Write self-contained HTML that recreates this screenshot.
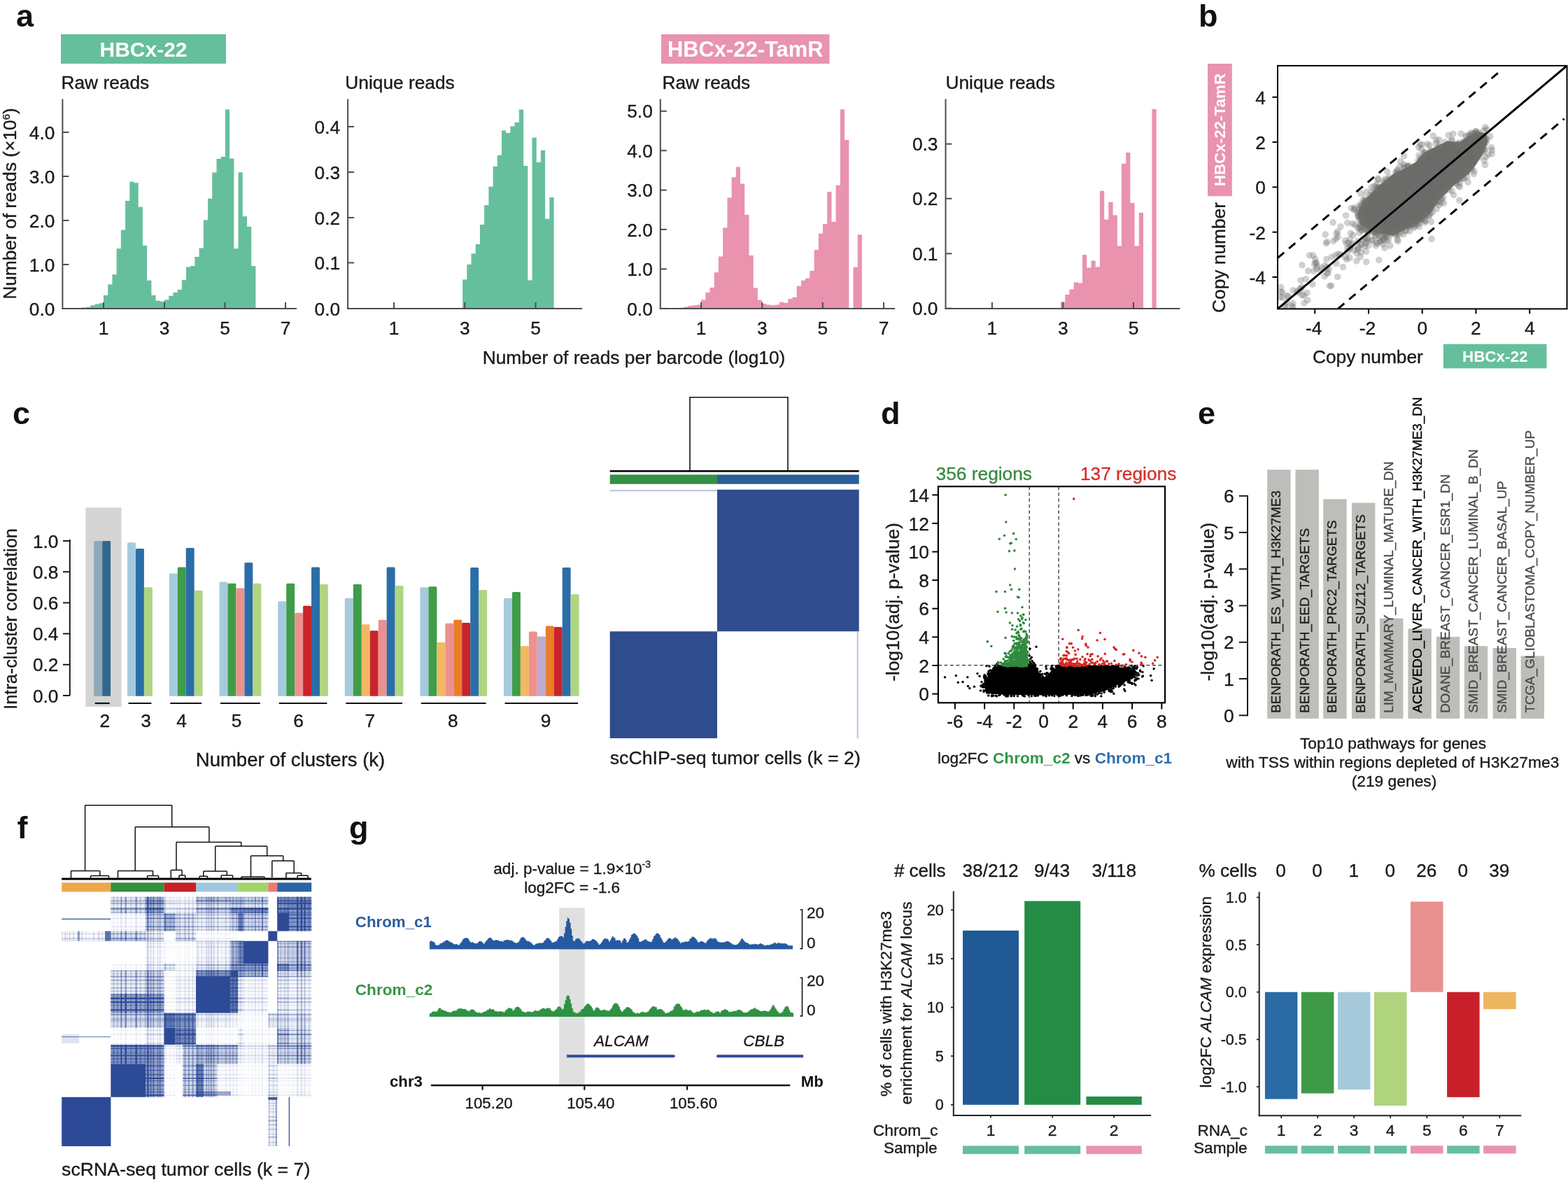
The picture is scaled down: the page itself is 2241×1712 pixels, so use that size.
<!DOCTYPE html>
<html><head><meta charset="utf-8"><title>Figure</title>
<style>
html,body{margin:0;padding:0;background:#fff;}
body{width:2241px;height:1712px;overflow:hidden;}
svg{display:block;}
</style></head><body>
<svg width="2241" height="1712" viewBox="0 0 2241 1712">
<rect width="2241" height="1712" fill="#fff"/>
<g font-family="&quot;Liberation Sans&quot;, Arial, Helvetica, sans-serif" font-size="26.3" fill="#1a1a1a">
<text x="23" y="38" font-size="45" font-weight="bold" fill="#111">a</text>
<rect x="87" y="49" width="236" height="42" fill="#66bf9c"/>
<text x="205" y="80.5" font-size="30" text-anchor="middle" font-weight="bold" fill="#fff">HBCx-22</text>
<rect x="945" y="49" width="240.5" height="42" fill="#e993ae"/>
<text x="1065.2" y="80.5" font-size="30.9" text-anchor="middle" font-weight="bold" fill="#fff">HBCx-22-TamR</text>
<path d="M148 422.1H154.3V441H148ZM154.2 406.6H160.5V441H154.2ZM160.4 392.2H166.7V441H160.4ZM166.6 355.2H172.9V441H166.6ZM172.8 328.5H179.1V441H172.8ZM179.1 287H185.3V441H179.1ZM185.3 259.7H191.5V441H185.3ZM191.5 261.3H197.7V441H191.5ZM197.7 295.7H203.9V441H197.7ZM203.9 351H210.1V441H203.9ZM210.1 400.8H216.4V441H210.1ZM216.3 422.1H222.6V441H216.3ZM222.5 429.8H228.8V441H222.5ZM228.7 430.7H235V441H228.7ZM234.9 428.5H241.2V441H234.9ZM241.2 422.7H247.4V441H241.2ZM247.4 417.9H253.6V441H247.4ZM253.6 414H259.8V441H253.6ZM259.8 400.2H266V441H259.8ZM266 381.5H272.2V441H266ZM272.2 379.9H278.5V441H272.2ZM278.4 367.1H284.7V441H278.4ZM284.6 354.5H290.9V441H284.6ZM290.8 314.4H297.1V441H290.8ZM297 283.8H303.3V441H297ZM303.2 246.5H309.5V441H303.2ZM309.5 226.9H315.7V441H309.5ZM315.7 224H321.9V441H315.7ZM321.9 156.5H328.1V441H321.9ZM328.1 226.6H334.4V441H328.1ZM334.3 355.2H340.6V441H334.3ZM340.5 246.2H346.8V441H340.5ZM346.7 309.2H353V441H346.7ZM352.9 324H359.2V441H352.9ZM359.1 380.3H365.4V441H359.1ZM141.8 433.3H148V441H141.8ZM135.6 434.6H141.8V441H135.6ZM129.4 436.2H135.6V441H129.4ZM123.2 438.8H129.4V441H123.2ZM117 439.4H123.2V441H117ZM110.7 440.1H117V441H110.7Z" fill="#66bf9c" stroke="none" stroke-width="1"/>
<line x1="89.4" y1="141.5" x2="89.4" y2="442" stroke="#4d4d4d" stroke-width="2"/>
<line x1="88.4" y1="441" x2="424" y2="441" stroke="#4d4d4d" stroke-width="2"/>
<line x1="89.4" y1="441" x2="98.4" y2="441" stroke="#4d4d4d" stroke-width="2"/>
<text x="78.4" y="450.6" text-anchor="end" stroke="#1a1a1a" stroke-width="0.35">0.0</text>
<line x1="89.4" y1="378" x2="98.4" y2="378" stroke="#4d4d4d" stroke-width="2"/>
<text x="78.4" y="387.6" text-anchor="end" stroke="#1a1a1a" stroke-width="0.35">1.0</text>
<line x1="89.4" y1="315" x2="98.4" y2="315" stroke="#4d4d4d" stroke-width="2"/>
<text x="78.4" y="324.6" text-anchor="end" stroke="#1a1a1a" stroke-width="0.35">2.0</text>
<line x1="89.4" y1="252" x2="98.4" y2="252" stroke="#4d4d4d" stroke-width="2"/>
<text x="78.4" y="261.6" text-anchor="end" stroke="#1a1a1a" stroke-width="0.35">3.0</text>
<line x1="89.4" y1="189" x2="98.4" y2="189" stroke="#4d4d4d" stroke-width="2"/>
<text x="78.4" y="198.6" text-anchor="end" stroke="#1a1a1a" stroke-width="0.35">4.0</text>
<line x1="148" y1="441" x2="148" y2="432" stroke="#4d4d4d" stroke-width="2"/>
<text x="148" y="477.5" text-anchor="middle" stroke="#1a1a1a" stroke-width="0.35">1</text>
<line x1="235" y1="441" x2="235" y2="432" stroke="#4d4d4d" stroke-width="2"/>
<text x="235" y="477.5" text-anchor="middle" stroke="#1a1a1a" stroke-width="0.35">3</text>
<line x1="321.5" y1="441" x2="321.5" y2="432" stroke="#4d4d4d" stroke-width="2"/>
<text x="321.5" y="477.5" text-anchor="middle" stroke="#1a1a1a" stroke-width="0.35">5</text>
<line x1="408" y1="441" x2="408" y2="432" stroke="#4d4d4d" stroke-width="2"/>
<text x="408" y="477.5" text-anchor="middle" stroke="#1a1a1a" stroke-width="0.35">7</text>
<text x="87.5" y="127" stroke="#1a1a1a" stroke-width="0.35">Raw reads</text>
<path d="M661.1 399.5H667.4V441H661.1ZM667.3 378H673.6V441H667.3ZM673.5 362.6H679.8V441H673.5ZM679.7 349.1H686V441H679.7ZM685.9 321.1H692.2V441H685.9ZM692.1 293.2H698.4V441H692.1ZM698.4 266.8H704.6V441H698.4ZM704.6 237.9H710.8V441H704.6ZM710.8 221.8H717V441H710.8ZM717 186.4H723.2V441H717ZM723.2 190H729.5V441H723.2ZM729.4 180.6H735.7V441H729.4ZM735.6 174.9H741.9V441H735.6ZM741.8 156.5H748.1V441H741.8ZM748 236.9H754.3V441H748ZM754.2 400.5H760.5V441H754.2ZM760.5 196.7H766.7V441H760.5ZM766.7 231.8H772.9V441H766.7ZM772.9 214.7H779.1V441H772.9ZM779.1 312.8H785.4V441H779.1ZM785.3 281.9H791.6V441H785.3Z" fill="#66bf9c" stroke="none" stroke-width="1"/>
<line x1="497.1" y1="141.5" x2="497.1" y2="442" stroke="#4d4d4d" stroke-width="2"/>
<line x1="496.1" y1="441" x2="832" y2="441" stroke="#4d4d4d" stroke-width="2"/>
<line x1="497.1" y1="441" x2="506.1" y2="441" stroke="#4d4d4d" stroke-width="2"/>
<text x="486.1" y="450.6" text-anchor="end" stroke="#1a1a1a" stroke-width="0.35">0.0</text>
<line x1="497.1" y1="375.5" x2="506.1" y2="375.5" stroke="#4d4d4d" stroke-width="2"/>
<text x="486.1" y="385.1" text-anchor="end" stroke="#1a1a1a" stroke-width="0.35">0.1</text>
<line x1="497.1" y1="311" x2="506.1" y2="311" stroke="#4d4d4d" stroke-width="2"/>
<text x="486.1" y="320.6" text-anchor="end" stroke="#1a1a1a" stroke-width="0.35">0.2</text>
<line x1="497.1" y1="246" x2="506.1" y2="246" stroke="#4d4d4d" stroke-width="2"/>
<text x="486.1" y="255.6" text-anchor="end" stroke="#1a1a1a" stroke-width="0.35">0.3</text>
<line x1="497.1" y1="181" x2="506.1" y2="181" stroke="#4d4d4d" stroke-width="2"/>
<text x="486.1" y="190.6" text-anchor="end" stroke="#1a1a1a" stroke-width="0.35">0.4</text>
<line x1="563" y1="441" x2="563" y2="432" stroke="#4d4d4d" stroke-width="2"/>
<text x="563" y="477.5" text-anchor="middle" stroke="#1a1a1a" stroke-width="0.35">1</text>
<line x1="664.3" y1="441" x2="664.3" y2="432" stroke="#4d4d4d" stroke-width="2"/>
<text x="664.3" y="477.5" text-anchor="middle" stroke="#1a1a1a" stroke-width="0.35">3</text>
<line x1="765.5" y1="441" x2="765.5" y2="432" stroke="#4d4d4d" stroke-width="2"/>
<text x="765.5" y="477.5" text-anchor="middle" stroke="#1a1a1a" stroke-width="0.35">5</text>
<text x="493.3" y="127" stroke="#1a1a1a" stroke-width="0.35">Unique reads</text>
<path d="M1002.1 428.4H1008.4V441H1002.1ZM1008.3 418.1H1014.6V441H1008.3ZM1014.5 411.1H1020.8V441H1014.5ZM1020.7 389.2H1027V441H1020.7ZM1026.9 366.5H1033.2V441H1026.9ZM1033.2 325.5H1039.4V441H1033.2ZM1039.4 282.4H1045.6V441H1039.4ZM1045.6 253.2H1051.8V441H1045.6ZM1051.8 238.6H1058V441H1051.8ZM1058 262.6H1064.2V441H1058ZM1064.2 307H1070.5V441H1064.2ZM1070.4 365H1076.7V441H1070.4ZM1076.6 411.4H1082.9V441H1076.6ZM1082.8 428.7H1089.1V441H1082.8ZM1089 433.9H1095.3V441H1089ZM1095.2 435.4H1101.5V441H1095.2ZM1101.5 436.3H1107.7V441H1101.5ZM1107.7 435.4H1113.9V441H1107.7ZM1113.9 431.8H1120.1V441H1113.9ZM1120.1 432.7H1126.3V441H1120.1ZM1126.3 426.9H1132.6V441H1126.3ZM1132.5 424.8H1138.8V441H1132.5ZM1138.7 408.7H1145V441H1138.7ZM1144.9 400.8H1151.2V441H1144.9ZM1151.1 397.7H1157.4V441H1151.1ZM1157.3 387.1H1163.6V441H1157.3ZM1163.6 357.1H1169.8V441H1163.6ZM1169.8 333.7H1176V441H1169.8ZM1176 320H1182.2V441H1176ZM1182.2 273.9H1188.5V441H1182.2ZM1188.4 317H1194.7V441H1188.4ZM1194.6 264.7H1200.9V441H1194.6ZM1200.8 156.3H1207.1V441H1200.8ZM1207 200.1H1213.3V441H1207ZM1219.5 381.7H1225.7V441H1219.5ZM1225.7 335.2H1231.9V441H1225.7ZM995.9 435.4H1002.1V441H995.9ZM989.7 436.3H995.9V441H989.7ZM983.5 436.9H989.7V441H983.5ZM977.3 438.4H983.5V441H977.3ZM971.1 439.7H977.3V441H971.1ZM964.8 440H971.1V441H964.8Z" fill="#e993ae" stroke="none" stroke-width="1"/>
<line x1="943.8" y1="141.5" x2="943.8" y2="442" stroke="#4d4d4d" stroke-width="2"/>
<line x1="942.8" y1="441" x2="1279" y2="441" stroke="#4d4d4d" stroke-width="2"/>
<line x1="943.8" y1="440.9" x2="952.8" y2="440.9" stroke="#4d4d4d" stroke-width="2"/>
<text x="932.8" y="450.5" text-anchor="end" stroke="#1a1a1a" stroke-width="0.35">0.0</text>
<line x1="943.8" y1="384.4" x2="952.8" y2="384.4" stroke="#4d4d4d" stroke-width="2"/>
<text x="932.8" y="394" text-anchor="end" stroke="#1a1a1a" stroke-width="0.35">1.0</text>
<line x1="943.8" y1="327.9" x2="952.8" y2="327.9" stroke="#4d4d4d" stroke-width="2"/>
<text x="932.8" y="337.5" text-anchor="end" stroke="#1a1a1a" stroke-width="0.35">2.0</text>
<line x1="943.8" y1="271.7" x2="952.8" y2="271.7" stroke="#4d4d4d" stroke-width="2"/>
<text x="932.8" y="281.3" text-anchor="end" stroke="#1a1a1a" stroke-width="0.35">3.0</text>
<line x1="943.8" y1="215.2" x2="952.8" y2="215.2" stroke="#4d4d4d" stroke-width="2"/>
<text x="932.8" y="224.8" text-anchor="end" stroke="#1a1a1a" stroke-width="0.35">4.0</text>
<line x1="943.8" y1="158.8" x2="952.8" y2="158.8" stroke="#4d4d4d" stroke-width="2"/>
<text x="932.8" y="168.4" text-anchor="end" stroke="#1a1a1a" stroke-width="0.35">5.0</text>
<line x1="1002.1" y1="441" x2="1002.1" y2="432" stroke="#4d4d4d" stroke-width="2"/>
<text x="1002.1" y="477.5" text-anchor="middle" stroke="#1a1a1a" stroke-width="0.35">1</text>
<line x1="1089.3" y1="441" x2="1089.3" y2="432" stroke="#4d4d4d" stroke-width="2"/>
<text x="1089.3" y="477.5" text-anchor="middle" stroke="#1a1a1a" stroke-width="0.35">3</text>
<line x1="1175.8" y1="441" x2="1175.8" y2="432" stroke="#4d4d4d" stroke-width="2"/>
<text x="1175.8" y="477.5" text-anchor="middle" stroke="#1a1a1a" stroke-width="0.35">5</text>
<line x1="1263" y1="441" x2="1263" y2="432" stroke="#4d4d4d" stroke-width="2"/>
<text x="1263" y="477.5" text-anchor="middle" stroke="#1a1a1a" stroke-width="0.35">7</text>
<text x="946.5" y="127" stroke="#1a1a1a" stroke-width="0.35">Raw reads</text>
<path d="M1516 431.4H1522.3V441H1516ZM1522.2 420.9H1528.5V441H1522.2ZM1528.4 413.6H1534.7V441H1528.4ZM1534.6 403.4H1540.9V441H1534.6ZM1540.8 404.6H1547.1V441H1540.8ZM1547 364.3H1553.3V441H1547ZM1553.3 382.6H1559.5V441H1553.3ZM1559.5 372.4H1565.7V441H1559.5ZM1565.7 381.4H1571.9V441H1565.7ZM1571.9 272.8H1578.2V441H1571.9ZM1578.1 313.8H1584.4V441H1578.1ZM1584.3 288.7H1590.6V441H1584.3ZM1590.5 307.5H1596.8V441H1590.5ZM1596.7 351.4H1603V441H1596.7ZM1602.9 233.8H1609.2V441H1602.9ZM1609.2 217.9H1615.4V441H1609.2ZM1615.4 289.9H1621.6V441H1615.4ZM1621.6 351.4H1627.8V441H1621.6ZM1627.8 304H1634V441H1627.8ZM1646.4 156.1H1652.7V441H1646.4Z" fill="#e993ae" stroke="none" stroke-width="1"/>
<line x1="1351.5" y1="141.5" x2="1351.5" y2="442" stroke="#4d4d4d" stroke-width="2"/>
<line x1="1350.5" y1="441" x2="1686.6" y2="441" stroke="#4d4d4d" stroke-width="2"/>
<line x1="1351.5" y1="440.7" x2="1360.5" y2="440.7" stroke="#4d4d4d" stroke-width="2"/>
<text x="1340.5" y="450.3" text-anchor="end" stroke="#1a1a1a" stroke-width="0.35">0.0</text>
<line x1="1351.5" y1="362.4" x2="1360.5" y2="362.4" stroke="#4d4d4d" stroke-width="2"/>
<text x="1340.5" y="372" text-anchor="end" stroke="#1a1a1a" stroke-width="0.35">0.1</text>
<line x1="1351.5" y1="283.8" x2="1360.5" y2="283.8" stroke="#4d4d4d" stroke-width="2"/>
<text x="1340.5" y="293.4" text-anchor="end" stroke="#1a1a1a" stroke-width="0.35">0.2</text>
<line x1="1351.5" y1="205.7" x2="1360.5" y2="205.7" stroke="#4d4d4d" stroke-width="2"/>
<text x="1340.5" y="215.3" text-anchor="end" stroke="#1a1a1a" stroke-width="0.35">0.3</text>
<line x1="1417.9" y1="441" x2="1417.9" y2="432" stroke="#4d4d4d" stroke-width="2"/>
<text x="1417.9" y="477.5" text-anchor="middle" stroke="#1a1a1a" stroke-width="0.35">1</text>
<line x1="1519.2" y1="441" x2="1519.2" y2="432" stroke="#4d4d4d" stroke-width="2"/>
<text x="1519.2" y="477.5" text-anchor="middle" stroke="#1a1a1a" stroke-width="0.35">3</text>
<line x1="1620" y1="441" x2="1620" y2="432" stroke="#4d4d4d" stroke-width="2"/>
<text x="1620" y="477.5" text-anchor="middle" stroke="#1a1a1a" stroke-width="0.35">5</text>
<text x="1351.5" y="127" stroke="#1a1a1a" stroke-width="0.35">Unique reads</text>
<text transform="translate(23.2 291) rotate(-90)" text-anchor="middle" stroke="#1a1a1a" stroke-width="0.35">Number of reads (&#215;10<tspan font-size="15" dy="-9">6</tspan><tspan dy="9">)</tspan></text>
<text x="906" y="519.7" text-anchor="middle" stroke="#1a1a1a" stroke-width="0.35">Number of reads per barcode (log10)</text>
<text x="1713" y="38" font-size="45" font-weight="bold" fill="#111">b</text>
<defs><clipPath id="cpb"><rect x="1826" y="93.9" width="413.5" height="347.5"/></clipPath></defs>
<g clip-path="url(#cpb)">
<polygon points="1940,304.3 1948.6,287.1 1970,265.7 1991.4,248.6 2008.6,240 2023.6,231.4 2034.3,218.6 2051.4,210 2068.6,201.4 2085.7,203.6 2100.7,192.8 2113.6,188.6 2124.3,190.7 2126.4,201.4 2120,218.6 2109.3,235.7 2098.6,248.6 2077.1,265.7 2055.7,287.1 2045,304.3 2030,317.1 2008.6,327.8 1991.4,336.4 1974.3,334.3 1959.3,330 1944.3,321.4" fill="#6b6c69"/>
<g fill="#6f706d" fill-opacity="0.33"><circle cx="2057.2" cy="207.3" r="4.8"/><circle cx="2103.4" cy="191.5" r="4.8"/><circle cx="1945.4" cy="316.7" r="4.8"/><circle cx="1940.8" cy="309.1" r="4.8"/><circle cx="2095.6" cy="195.6" r="4.8"/><circle cx="1965" cy="272.9" r="4.8"/><circle cx="1954.5" cy="287.7" r="4.8"/><circle cx="1993.4" cy="329.9" r="4.8"/><circle cx="2131.4" cy="210.7" r="4.8"/><circle cx="1985.6" cy="253" r="4.8"/><circle cx="2056.5" cy="199.6" r="4.8"/><circle cx="2056.1" cy="281.6" r="4.8"/><circle cx="2113.6" cy="189.7" r="4.8"/><circle cx="2132.1" cy="219.8" r="4.8"/><circle cx="2031.9" cy="206.3" r="4.8"/><circle cx="1973" cy="332.5" r="4.8"/><circle cx="2097.9" cy="260.3" r="4.8"/><circle cx="2010.8" cy="322.9" r="4.8"/><circle cx="1970.2" cy="268.8" r="4.8"/><circle cx="1985.6" cy="257.8" r="4.8"/><circle cx="1969.5" cy="267.8" r="4.8"/><circle cx="2068.7" cy="267.7" r="4.8"/><circle cx="1995.9" cy="336.5" r="4.8"/><circle cx="2038.8" cy="307.7" r="4.8"/><circle cx="2097.2" cy="246" r="4.8"/><circle cx="1982.7" cy="245.3" r="4.8"/><circle cx="1981.4" cy="333.5" r="4.8"/><circle cx="2027.5" cy="210.6" r="4.8"/><circle cx="2122.7" cy="181.9" r="4.8"/><circle cx="1944.4" cy="293.3" r="4.8"/><circle cx="2006.4" cy="239" r="4.8"/><circle cx="1968.9" cy="273.7" r="4.8"/><circle cx="2123.2" cy="224.3" r="4.8"/><circle cx="2102.3" cy="189.7" r="4.8"/><circle cx="2042.3" cy="308.8" r="4.8"/><circle cx="2017.4" cy="319.6" r="4.8"/><circle cx="1950.8" cy="288.4" r="4.8"/><circle cx="2110" cy="189.4" r="4.8"/><circle cx="2111" cy="191.1" r="4.8"/><circle cx="2084.4" cy="206.5" r="4.8"/><circle cx="2015.5" cy="321.5" r="4.8"/><circle cx="1999.6" cy="247.1" r="4.8"/><circle cx="1989.9" cy="332" r="4.8"/><circle cx="1969.9" cy="256.9" r="4.8"/><circle cx="1964.1" cy="266" r="4.8"/><circle cx="2103.3" cy="196.7" r="4.8"/><circle cx="2046" cy="341.4" r="4.8"/><circle cx="2014.4" cy="237.4" r="4.8"/><circle cx="1963.7" cy="329" r="4.8"/><circle cx="1968.1" cy="329" r="4.8"/><circle cx="1995.4" cy="332.6" r="4.8"/><circle cx="2102.9" cy="240.2" r="4.8"/><circle cx="1966.9" cy="332" r="4.8"/><circle cx="2050.1" cy="287.9" r="4.8"/><circle cx="1973.7" cy="344.8" r="4.8"/><circle cx="2035.1" cy="308.2" r="4.8"/><circle cx="2125.3" cy="199.8" r="4.8"/><circle cx="2119.1" cy="210.8" r="4.8"/><circle cx="2006.6" cy="223" r="4.8"/><circle cx="1997.5" cy="242.3" r="4.8"/><circle cx="2074.9" cy="200.8" r="4.8"/><circle cx="2119.8" cy="214.6" r="4.8"/><circle cx="1978.9" cy="261.4" r="4.8"/><circle cx="2071.3" cy="270.9" r="4.8"/><circle cx="2065.5" cy="273.1" r="4.8"/><circle cx="2003" cy="330.1" r="4.8"/><circle cx="2045.1" cy="216.5" r="4.8"/><circle cx="1936" cy="299.8" r="4.8"/><circle cx="2113.7" cy="224.7" r="4.8"/><circle cx="2106.6" cy="244.3" r="4.8"/><circle cx="2048.9" cy="290" r="4.8"/><circle cx="2024.7" cy="320.9" r="4.8"/><circle cx="1987.8" cy="333.4" r="4.8"/><circle cx="2083.9" cy="206.1" r="4.8"/><circle cx="2058.5" cy="279.1" r="4.8"/><circle cx="2119.7" cy="209.3" r="4.8"/><circle cx="2035.4" cy="217.3" r="4.8"/><circle cx="2002.8" cy="326.3" r="4.8"/><circle cx="1994.8" cy="246.4" r="4.8"/><circle cx="1953" cy="274.4" r="4.8"/><circle cx="2028.4" cy="323.9" r="4.8"/><circle cx="1960.2" cy="267.9" r="4.8"/><circle cx="1936.2" cy="321.2" r="4.8"/><circle cx="2020.7" cy="325.5" r="4.8"/><circle cx="2100.2" cy="193.4" r="4.8"/><circle cx="2092" cy="204.1" r="4.8"/><circle cx="2056.8" cy="210.4" r="4.8"/><circle cx="2064" cy="272.9" r="4.8"/><circle cx="2106.3" cy="192.1" r="4.8"/><circle cx="1969.8" cy="268.6" r="4.8"/><circle cx="2121.6" cy="203" r="4.8"/><circle cx="2047.4" cy="303.4" r="4.8"/><circle cx="1977.2" cy="341.2" r="4.8"/><circle cx="2032.8" cy="312.1" r="4.8"/><circle cx="1942.7" cy="308.6" r="4.8"/><circle cx="2102.8" cy="241.4" r="4.8"/><circle cx="1971.3" cy="328.7" r="4.8"/><circle cx="2096.6" cy="245.1" r="4.8"/><circle cx="2029.6" cy="206.9" r="4.8"/><circle cx="1999.8" cy="334.9" r="4.8"/><circle cx="1946.8" cy="295.3" r="4.8"/><circle cx="2033.5" cy="225.9" r="4.8"/><circle cx="2108.3" cy="228.1" r="4.8"/><circle cx="1979.9" cy="335.9" r="4.8"/><circle cx="2121.1" cy="229.4" r="4.8"/><circle cx="2011.5" cy="236.8" r="4.8"/><circle cx="2124.9" cy="184.8" r="4.8"/><circle cx="1935.4" cy="299.3" r="4.8"/><circle cx="2014.7" cy="330.2" r="4.8"/><circle cx="2026.9" cy="230.2" r="4.8"/><circle cx="1969.2" cy="334.7" r="4.8"/><circle cx="2106.4" cy="248.5" r="4.8"/><circle cx="2122.6" cy="213.2" r="4.8"/><circle cx="2022" cy="319.8" r="4.8"/><circle cx="1973.6" cy="329.5" r="4.8"/><circle cx="2121.3" cy="214.6" r="4.8"/><circle cx="1935.6" cy="296.7" r="4.8"/><circle cx="2081.8" cy="205.9" r="4.8"/><circle cx="2030.2" cy="225.6" r="4.8"/><circle cx="1950.4" cy="323.1" r="4.8"/><circle cx="1995.2" cy="330.2" r="4.8"/><circle cx="2080.8" cy="262.6" r="4.8"/><circle cx="2092.5" cy="254.6" r="4.8"/><circle cx="1941.4" cy="308.3" r="4.8"/><circle cx="1947.8" cy="286.4" r="4.8"/><circle cx="2085.9" cy="207.4" r="4.8"/><circle cx="1987.8" cy="335.6" r="4.8"/><circle cx="2086.4" cy="261.4" r="4.8"/><circle cx="1958.4" cy="278.7" r="4.8"/><circle cx="2037.4" cy="309" r="4.8"/><circle cx="1942.6" cy="326.3" r="4.8"/><circle cx="1977.3" cy="259.3" r="4.8"/><circle cx="1996.5" cy="244.6" r="4.8"/><circle cx="2028.4" cy="319.3" r="4.8"/><circle cx="1950.4" cy="287.3" r="4.8"/><circle cx="1942.9" cy="293.6" r="4.8"/><circle cx="2096.8" cy="252.8" r="4.8"/><circle cx="2007.8" cy="330.5" r="4.8"/><circle cx="2030.8" cy="227.7" r="4.8"/><circle cx="2088.7" cy="256.1" r="4.8"/><circle cx="2007" cy="239.6" r="4.8"/><circle cx="1942.4" cy="313.6" r="4.8"/><circle cx="2106.8" cy="190.8" r="4.8"/><circle cx="2110.7" cy="191.2" r="4.8"/><circle cx="1945.9" cy="329.7" r="4.8"/><circle cx="2052.5" cy="200.4" r="4.8"/><circle cx="2012.1" cy="237.9" r="4.8"/><circle cx="2031.1" cy="313.9" r="4.8"/><circle cx="2109.4" cy="187.5" r="4.8"/><circle cx="1994.1" cy="329.6" r="4.8"/><circle cx="1943.2" cy="299.1" r="4.8"/><circle cx="1980" cy="255.5" r="4.8"/><circle cx="2127" cy="221.1" r="4.8"/><circle cx="2048.3" cy="194" r="4.8"/><circle cx="2044.4" cy="214.6" r="4.8"/><circle cx="1960.5" cy="274.3" r="4.8"/><circle cx="1945.2" cy="276.8" r="4.8"/><circle cx="2086.4" cy="267.2" r="4.8"/><circle cx="1931.3" cy="297.5" r="4.8"/><circle cx="2063.6" cy="290.1" r="4.8"/><circle cx="1945.2" cy="296.4" r="4.8"/><circle cx="1950.8" cy="287.4" r="4.8"/><circle cx="2018.9" cy="318.1" r="4.8"/><circle cx="2056.6" cy="288.1" r="4.8"/><circle cx="2060" cy="284.3" r="4.8"/><circle cx="2075.1" cy="273" r="4.8"/><circle cx="1962.2" cy="330.5" r="4.8"/><circle cx="1945" cy="325.3" r="4.8"/><circle cx="2120.7" cy="195" r="4.8"/><circle cx="2034.7" cy="225.4" r="4.8"/><circle cx="2031.5" cy="314.2" r="4.8"/><circle cx="2039.7" cy="206.1" r="4.8"/><circle cx="2070.2" cy="193" r="4.8"/><circle cx="2046.1" cy="298" r="4.8"/><circle cx="2100.5" cy="193.1" r="4.8"/><circle cx="2035.7" cy="219.3" r="4.8"/><circle cx="2091.2" cy="202.3" r="4.8"/><circle cx="2043.2" cy="207.4" r="4.8"/><circle cx="1967.3" cy="266.8" r="4.8"/><circle cx="2051.9" cy="288" r="4.8"/><circle cx="2017.5" cy="322.4" r="4.8"/><circle cx="1948" cy="290.7" r="4.8"/><circle cx="2036.6" cy="318" r="4.8"/><circle cx="2074.9" cy="199.7" r="4.8"/><circle cx="2121.5" cy="206.5" r="4.8"/><circle cx="1982.5" cy="257.3" r="4.8"/><circle cx="1989.4" cy="332.3" r="4.8"/><circle cx="2000.3" cy="238.3" r="4.8"/><circle cx="2076.8" cy="191.2" r="4.8"/><circle cx="2043" cy="307.6" r="4.8"/><circle cx="1946.2" cy="302.4" r="4.8"/><circle cx="2086" cy="204.1" r="4.8"/><circle cx="1940.7" cy="303.1" r="4.8"/><circle cx="1997" cy="342.5" r="4.8"/><circle cx="2122.6" cy="235.6" r="4.8"/><circle cx="1988.3" cy="256" r="4.8"/><circle cx="2056.7" cy="293" r="4.8"/><circle cx="2103.3" cy="237.8" r="4.8"/><circle cx="2001.6" cy="231.1" r="4.8"/><circle cx="1949.9" cy="327.6" r="4.8"/><circle cx="1944.5" cy="313" r="4.8"/><circle cx="1945.5" cy="311" r="4.8"/><circle cx="2052.4" cy="204.9" r="4.8"/><circle cx="2109.2" cy="188.3" r="4.8"/><circle cx="1969.3" cy="255.2" r="4.8"/><circle cx="2011.2" cy="238.2" r="4.8"/><circle cx="2037.4" cy="315.3" r="4.8"/><circle cx="1967.8" cy="262.7" r="4.8"/><circle cx="2085.7" cy="286.3" r="4.8"/><circle cx="2063" cy="282.2" r="4.8"/><circle cx="2022.8" cy="317.3" r="4.8"/><circle cx="1993.9" cy="333.4" r="4.8"/><circle cx="2045.3" cy="316.9" r="4.8"/><circle cx="2051.9" cy="290.5" r="4.8"/><circle cx="2088" cy="191" r="4.8"/><circle cx="1995.7" cy="247.5" r="4.8"/><circle cx="2007.1" cy="323.2" r="4.8"/><circle cx="2059.7" cy="282.4" r="4.8"/><circle cx="1951.4" cy="283.6" r="4.8"/><circle cx="2019.6" cy="321.4" r="4.8"/><circle cx="2023.6" cy="317.4" r="4.8"/><circle cx="1953.8" cy="327.9" r="4.8"/><circle cx="2013.7" cy="324.2" r="4.8"/><circle cx="2123.7" cy="197.7" r="4.8"/><circle cx="2053.3" cy="298.5" r="4.8"/><circle cx="2023.6" cy="317.2" r="4.8"/><circle cx="1946" cy="301.5" r="4.8"/><circle cx="2084.1" cy="256" r="4.8"/><circle cx="2037.1" cy="307" r="4.8"/><circle cx="2059.8" cy="289.7" r="4.8"/><circle cx="2081.7" cy="259.7" r="4.8"/><circle cx="2022.2" cy="323.4" r="4.8"/><circle cx="2129.7" cy="194.9" r="4.8"/><circle cx="2044.3" cy="304.4" r="4.8"/><circle cx="2065.2" cy="203" r="4.8"/><circle cx="1997" cy="334.5" r="4.8"/><circle cx="2036.1" cy="315.3" r="4.8"/><circle cx="2012" cy="323.1" r="4.8"/><circle cx="2118.2" cy="217" r="4.8"/><circle cx="2077.5" cy="278.7" r="4.8"/><circle cx="2036.5" cy="218.8" r="4.8"/><circle cx="2029.5" cy="231.5" r="4.8"/><circle cx="2054.4" cy="288.4" r="4.8"/><circle cx="2132.3" cy="214.5" r="4.8"/><circle cx="1965.2" cy="332.8" r="4.8"/><circle cx="2096.4" cy="243.4" r="4.8"/><circle cx="2006.5" cy="235.1" r="4.8"/><circle cx="1980.2" cy="338.8" r="4.8"/><circle cx="2091.5" cy="254.3" r="4.8"/><circle cx="2120.6" cy="186.7" r="4.8"/><circle cx="2084.4" cy="265.4" r="4.8"/><circle cx="2058.6" cy="277.7" r="4.8"/><circle cx="2123.7" cy="203.5" r="4.8"/><circle cx="2054.2" cy="212" r="4.8"/><circle cx="2027.9" cy="222.3" r="4.8"/><circle cx="2115.4" cy="219.8" r="4.8"/><circle cx="2095" cy="193.8" r="4.8"/><circle cx="2031.5" cy="213.2" r="4.8"/><circle cx="2010.4" cy="329.4" r="4.8"/><circle cx="2026.7" cy="317.3" r="4.8"/><circle cx="1909.4" cy="341.3" r="4.8"/><circle cx="1877.6" cy="387.4" r="4.8"/><circle cx="1929.8" cy="353.7" r="4.8"/><circle cx="1896.2" cy="381.8" r="4.8"/><circle cx="1953.4" cy="340.6" r="4.8"/><circle cx="1984.5" cy="342.8" r="4.8"/><circle cx="1976.7" cy="340.2" r="4.8"/><circle cx="1899" cy="384.9" r="4.8"/><circle cx="1881.4" cy="383.8" r="4.8"/><circle cx="1950.8" cy="352" r="4.8"/><circle cx="1966.4" cy="351.1" r="4.8"/><circle cx="1930.5" cy="333.3" r="4.8"/><circle cx="1971.1" cy="326.1" r="4.8"/><circle cx="1976.4" cy="348.9" r="4.8"/><circle cx="1895.6" cy="347.7" r="4.8"/><circle cx="1925.9" cy="360.2" r="4.8"/><circle cx="1915.9" cy="364" r="4.8"/><circle cx="1966.3" cy="347.2" r="4.8"/><circle cx="1940.1" cy="325.1" r="4.8"/><circle cx="1866.3" cy="398.7" r="4.8"/><circle cx="1894.2" cy="335.1" r="4.8"/><circle cx="1893.1" cy="394.8" r="4.8"/><circle cx="1943.8" cy="322.8" r="4.8"/><circle cx="1951" cy="340.7" r="4.8"/><circle cx="1860.7" cy="421.7" r="4.8"/><circle cx="1861" cy="378.8" r="4.8"/><circle cx="1946.5" cy="328.6" r="4.8"/><circle cx="1896.7" cy="390.7" r="4.8"/><circle cx="1948.7" cy="318.6" r="4.8"/><circle cx="1929.1" cy="341.7" r="4.8"/><circle cx="1965.6" cy="337.6" r="4.8"/><circle cx="1940.3" cy="344.8" r="4.8"/><circle cx="1955.1" cy="319.2" r="4.8"/><circle cx="1970.8" cy="371.5" r="4.8"/><circle cx="1882.7" cy="380.5" r="4.8"/><circle cx="1859" cy="400.7" r="4.8"/><circle cx="1912.3" cy="338.4" r="4.8"/><circle cx="1973" cy="337.6" r="4.8"/><circle cx="1927.1" cy="347" r="4.8"/><circle cx="1911.7" cy="395.7" r="4.8"/><circle cx="1880.8" cy="375.8" r="4.8"/><circle cx="1972" cy="344.9" r="4.8"/><circle cx="1953.3" cy="344.6" r="4.8"/><circle cx="1969" cy="347.5" r="4.8"/><circle cx="1876.7" cy="364.9" r="4.8"/><circle cx="1935.3" cy="357.6" r="4.8"/><circle cx="1962.5" cy="330.8" r="4.8"/><circle cx="1960.7" cy="343.4" r="4.8"/><circle cx="1911.7" cy="331" r="4.8"/><circle cx="1887.2" cy="386.7" r="4.8"/><circle cx="1928.9" cy="368.5" r="4.8"/><circle cx="1957.7" cy="328.9" r="4.8"/><circle cx="1955.4" cy="321" r="4.8"/><circle cx="1922.8" cy="367.4" r="4.8"/><circle cx="1952.7" cy="374.4" r="4.8"/><circle cx="1829.9" cy="424.9" r="4.8"/><circle cx="1846.7" cy="437.4" r="4.8"/><circle cx="1962.2" cy="322.8" r="4.8"/><circle cx="1933.3" cy="319.5" r="4.8"/><circle cx="1954.9" cy="330.2" r="4.8"/><circle cx="1942.8" cy="332.6" r="4.8"/><circle cx="1896.5" cy="345.6" r="4.8"/><circle cx="1889.1" cy="382.6" r="4.8"/><circle cx="1955" cy="332.5" r="4.8"/><circle cx="1924.7" cy="370.7" r="4.8"/><circle cx="1945.2" cy="360.7" r="4.8"/><circle cx="1938.9" cy="373" r="4.8"/><circle cx="1940.4" cy="304.5" r="4.8"/><circle cx="1946.4" cy="349.7" r="4.8"/><circle cx="1915.9" cy="323.9" r="4.8"/><circle cx="1893.5" cy="379.2" r="4.8"/><circle cx="1923.6" cy="308" r="4.8"/><circle cx="1961.2" cy="343.2" r="4.8"/><circle cx="1902.7" cy="408.2" r="4.8"/><circle cx="1867.9" cy="418.6" r="4.8"/><circle cx="1853.7" cy="416.1" r="4.8"/><circle cx="1898" cy="389.8" r="4.8"/><circle cx="1950.8" cy="326.3" r="4.8"/><circle cx="1880.9" cy="375.4" r="4.8"/><circle cx="1932.2" cy="348" r="4.8"/><circle cx="1954.6" cy="341.8" r="4.8"/><circle cx="1905.8" cy="344.5" r="4.8"/><circle cx="1875.8" cy="406" r="4.8"/><circle cx="1942.1" cy="354.3" r="4.8"/><circle cx="1965.5" cy="336.6" r="4.8"/><circle cx="1863.6" cy="422.2" r="4.8"/><circle cx="1878.6" cy="377.4" r="4.8"/><circle cx="1925.6" cy="354.5" r="4.8"/><circle cx="1860.9" cy="410.2" r="4.8"/><circle cx="1971.6" cy="331.7" r="4.8"/><circle cx="1910" cy="376.9" r="4.8"/><circle cx="1970.5" cy="325" r="4.8"/><circle cx="1947.1" cy="342.3" r="4.8"/><circle cx="1947.7" cy="317.3" r="4.8"/><circle cx="1871.5" cy="364.9" r="4.8"/><circle cx="1931.2" cy="349.6" r="4.8"/><circle cx="1960.4" cy="324" r="4.8"/><circle cx="1905" cy="317.8" r="4.8"/><circle cx="1940.8" cy="353.2" r="4.8"/><circle cx="1919.4" cy="381.6" r="4.8"/><circle cx="1981.3" cy="339.6" r="4.8"/><circle cx="1909.9" cy="334.1" r="4.8"/><circle cx="1879.7" cy="370.3" r="4.8"/><circle cx="1855.2" cy="418" r="4.8"/><circle cx="1952.4" cy="347.6" r="4.8"/><circle cx="1979.5" cy="334.1" r="4.8"/><circle cx="1909.1" cy="364.7" r="4.8"/><circle cx="1900.3" cy="408.7" r="4.8"/><circle cx="1934" cy="336.2" r="4.8"/><circle cx="1977.2" cy="343.1" r="4.8"/><circle cx="1895.9" cy="370.3" r="4.8"/><circle cx="1929.1" cy="355.7" r="4.8"/><circle cx="1830.5" cy="410.5" r="4.8"/><circle cx="1912.8" cy="362.9" r="4.8"/><circle cx="1952.4" cy="359.4" r="4.8"/><circle cx="1965.4" cy="330.6" r="4.8"/><circle cx="1955.6" cy="334.4" r="4.8"/><circle cx="1940" cy="357.1" r="4.8"/><circle cx="1903.3" cy="367.2" r="4.8"/><circle cx="1836.2" cy="437.6" r="4.8"/><circle cx="1939" cy="362" r="4.8"/><circle cx="1922.7" cy="343.8" r="4.8"/><circle cx="1925.9" cy="318.5" r="4.8"/><circle cx="1944.7" cy="321.2" r="4.8"/><circle cx="1868.7" cy="429" r="4.8"/><circle cx="1945.4" cy="348.5" r="4.8"/><circle cx="1981.6" cy="344.4" r="4.8"/><circle cx="1838" cy="436.7" r="4.8"/><circle cx="1924.4" cy="347.7" r="4.8"/><circle cx="1869.7" cy="387.1" r="4.8"/><circle cx="1830.7" cy="417.2" r="4.8"/><circle cx="1841" cy="423.3" r="4.8"/><circle cx="1832.9" cy="417.5" r="4.8"/><circle cx="1863.9" cy="433.3" r="4.8"/><circle cx="1832.9" cy="424.9" r="4.8"/><circle cx="1847.6" cy="439" r="4.8"/><circle cx="1839.6" cy="422.6" r="4.8"/><circle cx="1847.8" cy="433.4" r="4.8"/><circle cx="1857.7" cy="412.3" r="4.8"/><circle cx="1848.2" cy="415" r="4.8"/><circle cx="1859.1" cy="413.4" r="4.8"/><circle cx="1839.1" cy="431.8" r="4.8"/><circle cx="1971.3" cy="341.3" r="4.8"/><circle cx="1986.7" cy="351" r="4.8"/><circle cx="1998.2" cy="344.6" r="4.8"/><circle cx="1956" cy="351" r="4.8"/><circle cx="1979" cy="354.2" r="4.8"/><circle cx="1944.4" cy="367.1" r="4.8"/><circle cx="2005.8" cy="334.9" r="4.8"/></g>
<line x1="1826" y1="441.4" x2="2239.5" y2="93.9" stroke="#000" stroke-width="3"/>
<line x1="1826" y1="368.6" x2="2147.8" y2="98.6" stroke="#000" stroke-width="3" stroke-dasharray="12 9"/>
<line x1="1912.1" y1="441.4" x2="2235.7" y2="169.7" stroke="#000" stroke-width="3" stroke-dasharray="12 9"/>
</g>
<rect x="1826" y="93.9" width="413.5" height="347.5" fill="none" stroke="#000" stroke-width="2"/>
<line x1="1818.5" y1="396" x2="1826" y2="396" stroke="#000" stroke-width="2"/>
<text x="1809" y="405.8" text-anchor="end" stroke="#1a1a1a" stroke-width="0.35">-4</text>
<line x1="1879.2" y1="441.4" x2="1879.2" y2="448.4" stroke="#000" stroke-width="2"/>
<text x="1877.7" y="477.5" text-anchor="middle" stroke="#1a1a1a" stroke-width="0.35">-4</text>
<line x1="1818.5" y1="331.7" x2="1826" y2="331.7" stroke="#000" stroke-width="2"/>
<text x="1809" y="341.5" text-anchor="end" stroke="#1a1a1a" stroke-width="0.35">-2</text>
<line x1="1956" y1="441.4" x2="1956" y2="448.4" stroke="#000" stroke-width="2"/>
<text x="1954.5" y="477.5" text-anchor="middle" stroke="#1a1a1a" stroke-width="0.35">-2</text>
<line x1="1818.5" y1="267.4" x2="1826" y2="267.4" stroke="#000" stroke-width="2"/>
<text x="1809" y="277.2" text-anchor="end" stroke="#1a1a1a" stroke-width="0.35">0</text>
<line x1="2032.7" y1="441.4" x2="2032.7" y2="448.4" stroke="#000" stroke-width="2"/>
<text x="2032.7" y="477.5" text-anchor="middle" stroke="#1a1a1a" stroke-width="0.35">0</text>
<line x1="1818.5" y1="203.1" x2="1826" y2="203.1" stroke="#000" stroke-width="2"/>
<text x="1809" y="212.9" text-anchor="end" stroke="#1a1a1a" stroke-width="0.35">2</text>
<line x1="2109.4" y1="441.4" x2="2109.4" y2="448.4" stroke="#000" stroke-width="2"/>
<text x="2109.4" y="477.5" text-anchor="middle" stroke="#1a1a1a" stroke-width="0.35">2</text>
<line x1="1818.5" y1="138.8" x2="1826" y2="138.8" stroke="#000" stroke-width="2"/>
<text x="1809" y="148.6" text-anchor="end" stroke="#1a1a1a" stroke-width="0.35">4</text>
<line x1="2186.2" y1="441.4" x2="2186.2" y2="448.4" stroke="#000" stroke-width="2"/>
<text x="2186.2" y="477.5" text-anchor="middle" stroke="#1a1a1a" stroke-width="0.35">4</text>
<rect x="1726" y="91" width="34.8" height="189.3" fill="#e993ae"/>
<text transform="translate(1751.4 185.6) rotate(-90)" font-size="22.4" text-anchor="middle" font-weight="bold" fill="#fff">HBCx-22-TamR</text>
<text transform="translate(1750.8 368) rotate(-90)" text-anchor="middle" stroke="#1a1a1a" stroke-width="0.35">Copy number</text>
<text x="1876" y="519" stroke="#1a1a1a" stroke-width="0.35">Copy number</text>
<rect x="2063" y="491.7" width="147.5" height="34.7" fill="#66bf9c"/>
<text x="2136.7" y="517.1" font-size="22.4" text-anchor="middle" font-weight="bold" fill="#fff">HBCx-22</text>
<text x="18" y="605.5" font-size="45" font-weight="bold" fill="#111">c</text>
<rect x="122.4" y="725.3" width="51.1" height="284.7" fill="#d4d4d4"/>
<path d="M134.2 994.8V774.5q0 -1.5 1.5 -1.5H144.7q1.5 0 1.5 1.5V994.8Z" fill="#8fa9ba"/>
<path d="M146.2 994.8V774.5q0 -1.5 1.5 -1.5H156.6q1.5 0 1.5 1.5V994.8Z" fill="#33668f"/>
<line x1="135.7" y1="1005" x2="156.6" y2="1005" stroke="#111" stroke-width="2.2"/>
<path d="M182 994.8V776.7q0 -1.5 1.5 -1.5H192.5q1.5 0 1.5 1.5V994.8Z" fill="#a6cadd"/>
<path d="M194 994.8V785.5q0 -1.5 1.5 -1.5H204.4q1.5 0 1.5 1.5V994.8Z" fill="#2a6ea8"/>
<path d="M205.9 994.8V840.8q0 -1.5 1.5 -1.5H216.4q1.5 0 1.5 1.5V994.8Z" fill="#b0d582"/>
<line x1="183.5" y1="1005" x2="216.4" y2="1005" stroke="#111" stroke-width="2.2"/>
<path d="M241.8 994.8V820.9q0 -1.5 1.5 -1.5H252.3q1.5 0 1.5 1.5V994.8Z" fill="#a6cadd"/>
<path d="M253.8 994.8V812.1q0 -1.5 1.5 -1.5H264.2q1.5 0 1.5 1.5V994.8Z" fill="#3f9c48"/>
<path d="M265.7 994.8V784.4q0 -1.5 1.5 -1.5H276.2q1.5 0 1.5 1.5V994.8Z" fill="#2a6ea8"/>
<path d="M277.7 994.8V845.2q0 -1.5 1.5 -1.5H288.1q1.5 0 1.5 1.5V994.8Z" fill="#b0d582"/>
<line x1="243.3" y1="1005" x2="288.1" y2="1005" stroke="#111" stroke-width="2.2"/>
<path d="M313.5 994.8V833.1q0 -1.5 1.5 -1.5H324q1.5 0 1.5 1.5V994.8Z" fill="#a6cadd"/>
<path d="M325.5 994.8V835.3q0 -1.5 1.5 -1.5H335.9q1.5 0 1.5 1.5V994.8Z" fill="#3f9c48"/>
<path d="M337.4 994.8V841.9q0 -1.5 1.5 -1.5H347.9q1.5 0 1.5 1.5V994.8Z" fill="#ec918f"/>
<path d="M349.4 994.8V805.4q0 -1.5 1.5 -1.5H359.8q1.5 0 1.5 1.5V994.8Z" fill="#2a6ea8"/>
<path d="M361.3 994.8V835.3q0 -1.5 1.5 -1.5H371.8q1.5 0 1.5 1.5V994.8Z" fill="#b0d582"/>
<line x1="315" y1="1005" x2="371.8" y2="1005" stroke="#111" stroke-width="2.2"/>
<path d="M397.2 994.8V860.7q0 -1.5 1.5 -1.5H407.7q1.5 0 1.5 1.5V994.8Z" fill="#a6cadd"/>
<path d="M409.2 994.8V835.3q0 -1.5 1.5 -1.5H419.6q1.5 0 1.5 1.5V994.8Z" fill="#3f9c48"/>
<path d="M421.1 994.8V877.3q0 -1.5 1.5 -1.5H431.6q1.5 0 1.5 1.5V994.8Z" fill="#ec918f"/>
<path d="M433.1 994.8V867.3q0 -1.5 1.5 -1.5H443.5q1.5 0 1.5 1.5V994.8Z" fill="#c9232b"/>
<path d="M445 994.8V812.1q0 -1.5 1.5 -1.5H455.5q1.5 0 1.5 1.5V994.8Z" fill="#2a6ea8"/>
<path d="M457 994.8V836.4q0 -1.5 1.5 -1.5H467.4q1.5 0 1.5 1.5V994.8Z" fill="#b0d582"/>
<line x1="398.7" y1="1005" x2="467.4" y2="1005" stroke="#111" stroke-width="2.2"/>
<path d="M492.8 994.8V856.3q0 -1.5 1.5 -1.5H503.3q1.5 0 1.5 1.5V994.8Z" fill="#a6cadd"/>
<path d="M504.8 994.8V836.4q0 -1.5 1.5 -1.5H515.3q1.5 0 1.5 1.5V994.8Z" fill="#3f9c48"/>
<path d="M516.8 994.8V893.8q0 -1.5 1.5 -1.5H527.2q1.5 0 1.5 1.5V994.8Z" fill="#f2b864"/>
<path d="M528.7 994.8V902.7q0 -1.5 1.5 -1.5H539.2q1.5 0 1.5 1.5V994.8Z" fill="#c9232b"/>
<path d="M540.7 994.8V887.2q0 -1.5 1.5 -1.5H551.1q1.5 0 1.5 1.5V994.8Z" fill="#ec918f"/>
<path d="M552.6 994.8V812.1q0 -1.5 1.5 -1.5H563.1q1.5 0 1.5 1.5V994.8Z" fill="#2a6ea8"/>
<path d="M564.6 994.8V838.6q0 -1.5 1.5 -1.5H575q1.5 0 1.5 1.5V994.8Z" fill="#b0d582"/>
<line x1="494.3" y1="1005" x2="575" y2="1005" stroke="#111" stroke-width="2.2"/>
<path d="M600.4 994.8V840.8q0 -1.5 1.5 -1.5H610.9q1.5 0 1.5 1.5V994.8Z" fill="#a6cadd"/>
<path d="M612.4 994.8V839.7q0 -1.5 1.5 -1.5H622.9q1.5 0 1.5 1.5V994.8Z" fill="#3f9c48"/>
<path d="M624.4 994.8V919.5q0 -1.5 1.5 -1.5H634.8q1.5 0 1.5 1.5V994.8Z" fill="#f2b864"/>
<path d="M636.3 994.8V892.3q0 -1.5 1.5 -1.5H646.8q1.5 0 1.5 1.5V994.8Z" fill="#ec918f"/>
<path d="M648.3 994.8V887.2q0 -1.5 1.5 -1.5H658.7q1.5 0 1.5 1.5V994.8Z" fill="#e87d2a"/>
<path d="M660.2 994.8V891.6q0 -1.5 1.5 -1.5H670.7q1.5 0 1.5 1.5V994.8Z" fill="#c9232b"/>
<path d="M672.2 994.8V812.5q0 -1.5 1.5 -1.5H682.6q1.5 0 1.5 1.5V994.8Z" fill="#2a6ea8"/>
<path d="M684.1 994.8V844.6q0 -1.5 1.5 -1.5H694.6q1.5 0 1.5 1.5V994.8Z" fill="#b0d582"/>
<line x1="601.9" y1="1005" x2="694.6" y2="1005" stroke="#111" stroke-width="2.2"/>
<path d="M720 994.8V856.3q0 -1.5 1.5 -1.5H730.5q1.5 0 1.5 1.5V994.8Z" fill="#a6cadd"/>
<path d="M732 994.8V847.4q0 -1.5 1.5 -1.5H742.4q1.5 0 1.5 1.5V994.8Z" fill="#3f9c48"/>
<path d="M743.9 994.8V924.8q0 -1.5 1.5 -1.5H754.4q1.5 0 1.5 1.5V994.8Z" fill="#f2b864"/>
<path d="M755.9 994.8V904q0 -1.5 1.5 -1.5H766.3q1.5 0 1.5 1.5V994.8Z" fill="#ec918f"/>
<path d="M767.8 994.8V910.9q0 -1.5 1.5 -1.5H778.3q1.5 0 1.5 1.5V994.8Z" fill="#bcaad0"/>
<path d="M779.8 994.8V896q0 -1.5 1.5 -1.5H790.2q1.5 0 1.5 1.5V994.8Z" fill="#e87d2a"/>
<path d="M791.7 994.8V897.6q0 -1.5 1.5 -1.5H802.2q1.5 0 1.5 1.5V994.8Z" fill="#c9232b"/>
<path d="M803.7 994.8V812.5q0 -1.5 1.5 -1.5H814.1q1.5 0 1.5 1.5V994.8Z" fill="#2a6ea8"/>
<path d="M815.6 994.8V850.7q0 -1.5 1.5 -1.5H826.1q1.5 0 1.5 1.5V994.8Z" fill="#b0d582"/>
<line x1="721.5" y1="1005" x2="826.1" y2="1005" stroke="#111" stroke-width="2.2"/>
<line x1="99.8" y1="771" x2="99.8" y2="994" stroke="#1a1a1a" stroke-width="2"/>
<line x1="90" y1="994" x2="99.8" y2="994" stroke="#1a1a1a" stroke-width="2"/>
<text x="83.5" y="1003.6" text-anchor="end" stroke="#1a1a1a" stroke-width="0.35">0.0</text>
<line x1="90" y1="949.8" x2="99.8" y2="949.8" stroke="#1a1a1a" stroke-width="2"/>
<text x="83.5" y="959.4" text-anchor="end" stroke="#1a1a1a" stroke-width="0.35">0.2</text>
<line x1="90" y1="905.6" x2="99.8" y2="905.6" stroke="#1a1a1a" stroke-width="2"/>
<text x="83.5" y="915.2" text-anchor="end" stroke="#1a1a1a" stroke-width="0.35">0.4</text>
<line x1="90" y1="861.4" x2="99.8" y2="861.4" stroke="#1a1a1a" stroke-width="2"/>
<text x="83.5" y="871" text-anchor="end" stroke="#1a1a1a" stroke-width="0.35">0.6</text>
<line x1="90" y1="817.2" x2="99.8" y2="817.2" stroke="#1a1a1a" stroke-width="2"/>
<text x="83.5" y="826.8" text-anchor="end" stroke="#1a1a1a" stroke-width="0.35">0.8</text>
<line x1="90" y1="773" x2="99.8" y2="773" stroke="#1a1a1a" stroke-width="2"/>
<text x="83.5" y="782.6" text-anchor="end" stroke="#1a1a1a" stroke-width="0.35">1.0</text>
<text x="149.9" y="1038.5" text-anchor="middle" stroke="#1a1a1a" stroke-width="0.35">2</text>
<text x="208.5" y="1038.5" text-anchor="middle" stroke="#1a1a1a" stroke-width="0.35">3</text>
<text x="259.5" y="1038.5" text-anchor="middle" stroke="#1a1a1a" stroke-width="0.35">4</text>
<text x="338" y="1038.5" text-anchor="middle" stroke="#1a1a1a" stroke-width="0.35">5</text>
<text x="426.5" y="1038.5" text-anchor="middle" stroke="#1a1a1a" stroke-width="0.35">6</text>
<text x="528.8" y="1038.5" text-anchor="middle" stroke="#1a1a1a" stroke-width="0.35">7</text>
<text x="647.4" y="1038.5" text-anchor="middle" stroke="#1a1a1a" stroke-width="0.35">8</text>
<text x="780" y="1038.5" text-anchor="middle" stroke="#1a1a1a" stroke-width="0.35">9</text>
<text transform="translate(24.3 884.5) rotate(-90)" font-size="25.3" text-anchor="middle" stroke="#1a1a1a" stroke-width="0.35">Intra-cluster correlation</text>
<text x="279.8" y="1095" font-size="27.5" stroke="#1a1a1a" stroke-width="0.35">Number of clusters (k)</text>
<line x1="986" y1="567.7" x2="1126" y2="567.7" stroke="#111" stroke-width="1.6"/>
<line x1="986" y1="566.9" x2="986" y2="673" stroke="#111" stroke-width="1.6"/>
<line x1="1126" y1="566.9" x2="1126" y2="673" stroke="#111" stroke-width="1.6"/>
<line x1="871.7" y1="673.3" x2="1227.7" y2="673.3" stroke="#000" stroke-width="2.6"/>
<rect x="871.7" y="678.3" width="153.3" height="13.4" fill="#358f45"/>
<rect x="1025" y="678.3" width="202.7" height="13.4" fill="#2a5e96"/>
<rect x="871.7" y="700" width="153.3" height="2.2" fill="#c3c6e2"/>
<rect x="1025" y="699.7" width="202.7" height="202.6" fill="#2e4c8e"/>
<rect x="871.7" y="902.3" width="153.3" height="152.7" fill="#2e4c8e"/>
<rect x="1224.6" y="902.3" width="2.2" height="152.7" fill="#c3c6e2"/>
<text x="871.7" y="1091.7" font-size="26.7" stroke="#1a1a1a" stroke-width="0.35">scChIP-seq tumor cells (k = 2)</text>
<text x="1259" y="605.5" font-size="45" font-weight="bold" fill="#111">d</text>
<defs><clipPath id="cpd"><rect x="1340.9" y="695.2" width="324.1" height="309.1"/></clipPath></defs>
<g clip-path="url(#cpd)">
<g stroke="#333" stroke-width="1.3" stroke-dasharray="5 3.5">
<line x1="1471.2" y1="695.2" x2="1471.2" y2="1004.3" stroke="#333" stroke-width="1.3"/>
<line x1="1513.1" y1="695.2" x2="1513.1" y2="1004.3" stroke="#333" stroke-width="1.3"/>
<line x1="1340.9" y1="950.6" x2="1665" y2="950.6" stroke="#333" stroke-width="1.3"/>
</g>
<polygon points="1416.5,991.8 1408.3,985.8 1406.8,977.5 1410.5,968.5 1415.8,959.5 1419.5,952.8 1428.5,950.8 1470.6,950.8 1474.3,950.5 1478.8,955 1482.6,961.8 1486.3,966.3 1490.1,967.8 1496.1,966.3 1499.8,961.8 1503.6,957.3 1509.6,954.3 1517.1,950.8 1583.1,950.8 1595.1,952.3 1610.1,955 1622.1,957.3 1626.6,961.8 1619.1,970 1604.1,976 1589.1,982 1578.6,988 1553.1,992.5 1490.1,993.6 1445,993.1" fill="#000"/>
<g fill="#000"><circle cx="1565.4" cy="994.8" r="1.7"/><circle cx="1454.3" cy="950.5" r="1.7"/><circle cx="1446.4" cy="949.7" r="1.7"/><circle cx="1470" cy="993.7" r="1.7"/><circle cx="1462.4" cy="994.1" r="1.7"/><circle cx="1613.1" cy="973.6" r="1.7"/><circle cx="1618.6" cy="954.7" r="1.7"/><circle cx="1479.4" cy="955.2" r="1.7"/><circle cx="1594.8" cy="951.2" r="1.7"/><circle cx="1555" cy="992.8" r="1.7"/><circle cx="1578.2" cy="989.3" r="1.7"/><circle cx="1625.2" cy="965.6" r="1.7"/><circle cx="1407.1" cy="982.1" r="1.7"/><circle cx="1436.2" cy="992.7" r="1.7"/><circle cx="1494.9" cy="952.6" r="1.7"/><circle cx="1511.7" cy="952.7" r="1.7"/><circle cx="1448.2" cy="949.2" r="1.7"/><circle cx="1561.3" cy="992.2" r="1.7"/><circle cx="1503.4" cy="993.8" r="1.7"/><circle cx="1412.9" cy="959.4" r="1.7"/><circle cx="1497.8" cy="962.4" r="1.7"/><circle cx="1574.2" cy="990.9" r="1.7"/><circle cx="1585.4" cy="986.5" r="1.7"/><circle cx="1487" cy="963.5" r="1.7"/><circle cx="1412.6" cy="994" r="1.7"/><circle cx="1604" cy="977.1" r="1.7"/><circle cx="1493.4" cy="962.9" r="1.7"/><circle cx="1615.3" cy="955.9" r="1.7"/><circle cx="1545.3" cy="993.4" r="1.7"/><circle cx="1415.5" cy="957.7" r="1.7"/><circle cx="1518.9" cy="993.2" r="1.7"/><circle cx="1509.8" cy="951.5" r="1.7"/><circle cx="1524.4" cy="993.8" r="1.7"/><circle cx="1539.6" cy="993.4" r="1.7"/><circle cx="1409.2" cy="966.1" r="1.7"/><circle cx="1588.1" cy="982.8" r="1.7"/><circle cx="1433" cy="950.4" r="1.7"/><circle cx="1426.6" cy="951" r="1.7"/><circle cx="1422.3" cy="951.1" r="1.7"/><circle cx="1618.9" cy="954.8" r="1.7"/><circle cx="1553.8" cy="992.9" r="1.7"/><circle cx="1479" cy="952.5" r="1.7"/><circle cx="1454.3" cy="949.3" r="1.7"/><circle cx="1627" cy="969.9" r="1.7"/><circle cx="1424.6" cy="994.9" r="1.7"/><circle cx="1499.5" cy="993.9" r="1.7"/><circle cx="1601" cy="979.8" r="1.7"/><circle cx="1585.2" cy="987.3" r="1.7"/><circle cx="1599" cy="978.6" r="1.7"/><circle cx="1435.4" cy="950.7" r="1.7"/><circle cx="1621.9" cy="951.8" r="1.7"/><circle cx="1596" cy="951.3" r="1.7"/><circle cx="1414" cy="958.7" r="1.7"/><circle cx="1617.3" cy="951.2" r="1.7"/><circle cx="1408.5" cy="986.5" r="1.7"/><circle cx="1446" cy="994.3" r="1.7"/><circle cx="1467.8" cy="949.7" r="1.7"/><circle cx="1509.8" cy="953.6" r="1.7"/><circle cx="1454.7" cy="948.3" r="1.7"/><circle cx="1470.7" cy="949.5" r="1.7"/><circle cx="1560.8" cy="991.5" r="1.7"/><circle cx="1589.5" cy="988.4" r="1.7"/><circle cx="1598.8" cy="951" r="1.7"/><circle cx="1410.5" cy="990.1" r="1.7"/><circle cx="1435.4" cy="949.4" r="1.7"/><circle cx="1515.9" cy="951.2" r="1.7"/><circle cx="1613.7" cy="975.2" r="1.7"/><circle cx="1482.8" cy="956" r="1.7"/><circle cx="1543.7" cy="994" r="1.7"/><circle cx="1541.2" cy="994.3" r="1.7"/><circle cx="1482.9" cy="959.4" r="1.7"/><circle cx="1597.5" cy="952.5" r="1.7"/><circle cx="1607.8" cy="987.2" r="1.7"/><circle cx="1624.6" cy="969.8" r="1.7"/><circle cx="1503.6" cy="955.9" r="1.7"/><circle cx="1480.4" cy="955.8" r="1.7"/><circle cx="1600.7" cy="978.1" r="1.7"/><circle cx="1495.1" cy="994.9" r="1.7"/><circle cx="1622.3" cy="971.5" r="1.7"/><circle cx="1434.9" cy="992.8" r="1.7"/><circle cx="1624.5" cy="955" r="1.7"/><circle cx="1512.5" cy="993.2" r="1.7"/><circle cx="1561.8" cy="994.3" r="1.7"/><circle cx="1425" cy="948.8" r="1.7"/><circle cx="1506.8" cy="994.6" r="1.7"/><circle cx="1605.5" cy="975.7" r="1.7"/><circle cx="1621.9" cy="972.7" r="1.7"/><circle cx="1494.2" cy="993.6" r="1.7"/><circle cx="1479.6" cy="953.9" r="1.7"/><circle cx="1406.4" cy="977.9" r="1.7"/><circle cx="1591.8" cy="991.3" r="1.7"/><circle cx="1407.9" cy="970.1" r="1.7"/><circle cx="1502.7" cy="956.7" r="1.7"/><circle cx="1536.3" cy="993.5" r="1.7"/><circle cx="1612.3" cy="954.5" r="1.7"/><circle cx="1412.7" cy="964.2" r="1.7"/><circle cx="1559" cy="993.5" r="1.7"/><circle cx="1419.7" cy="994.1" r="1.7"/><circle cx="1450" cy="949.5" r="1.7"/><circle cx="1603" cy="977.4" r="1.7"/><circle cx="1407.1" cy="964.5" r="1.7"/><circle cx="1451.2" cy="948.6" r="1.7"/><circle cx="1429.3" cy="992.8" r="1.7"/><circle cx="1459.9" cy="950.2" r="1.7"/><circle cx="1482.1" cy="959.3" r="1.7"/><circle cx="1411.1" cy="989.1" r="1.7"/><circle cx="1409.4" cy="987.2" r="1.7"/><circle cx="1484.1" cy="962.1" r="1.7"/><circle cx="1496" cy="965.9" r="1.7"/><circle cx="1559.4" cy="994.5" r="1.7"/><circle cx="1601.1" cy="979" r="1.7"/><circle cx="1588.2" cy="984.8" r="1.7"/><circle cx="1612.4" cy="953.7" r="1.7"/><circle cx="1590.7" cy="951.4" r="1.7"/><circle cx="1472.8" cy="950" r="1.7"/><circle cx="1587.1" cy="988.6" r="1.7"/><circle cx="1486.9" cy="959.3" r="1.7"/><circle cx="1408.3" cy="968.2" r="1.7"/><circle cx="1461.5" cy="993.8" r="1.7"/><circle cx="1464.3" cy="995" r="1.7"/><circle cx="1558.3" cy="991.9" r="1.7"/><circle cx="1437.7" cy="994.9" r="1.7"/><circle cx="1404.6" cy="978.4" r="1.7"/><circle cx="1445.2" cy="948.4" r="1.7"/><circle cx="1440.3" cy="995" r="1.7"/><circle cx="1599.1" cy="981.3" r="1.7"/><circle cx="1561.3" cy="991.8" r="1.7"/><circle cx="1483.1" cy="961.5" r="1.7"/><circle cx="1629.7" cy="959.2" r="1.7"/><circle cx="1405.8" cy="977.4" r="1.7"/><circle cx="1608" cy="953.1" r="1.7"/><circle cx="1456" cy="950.7" r="1.7"/><circle cx="1594.5" cy="951.9" r="1.7"/><circle cx="1505.6" cy="955.4" r="1.7"/><circle cx="1418.3" cy="994" r="1.7"/><circle cx="1512.3" cy="951.4" r="1.7"/><circle cx="1588.7" cy="986.5" r="1.7"/><circle cx="1454.4" cy="994.7" r="1.7"/><circle cx="1584.8" cy="985.6" r="1.7"/><circle cx="1406.7" cy="969.1" r="1.7"/><circle cx="1503.4" cy="953.6" r="1.7"/><circle cx="1591.9" cy="981.3" r="1.7"/><circle cx="1551.9" cy="993.5" r="1.7"/><circle cx="1626.6" cy="962.3" r="1.7"/><circle cx="1409.8" cy="969.9" r="1.7"/><circle cx="1623.6" cy="971.8" r="1.7"/><circle cx="1411.9" cy="962.5" r="1.7"/><circle cx="1495.5" cy="955.8" r="1.7"/><circle cx="1632.9" cy="960.4" r="1.7"/><circle cx="1482" cy="955.4" r="1.7"/><circle cx="1409.9" cy="951.8" r="1.7"/><circle cx="1438.6" cy="994.7" r="1.7"/><circle cx="1408" cy="972.5" r="1.7"/><circle cx="1402.9" cy="981" r="1.7"/><circle cx="1458.7" cy="948.9" r="1.7"/><circle cx="1541.3" cy="993.7" r="1.7"/><circle cx="1484.5" cy="963.4" r="1.7"/><circle cx="1512.1" cy="953.1" r="1.7"/><circle cx="1614.8" cy="955.6" r="1.7"/><circle cx="1455.2" cy="948.1" r="1.7"/><circle cx="1485.8" cy="965.2" r="1.7"/><circle cx="1449.4" cy="994.5" r="1.7"/><circle cx="1622.5" cy="954.6" r="1.7"/><circle cx="1531.9" cy="994.5" r="1.7"/><circle cx="1609.1" cy="954.2" r="1.7"/><circle cx="1486.2" cy="965.8" r="1.7"/><circle cx="1505.7" cy="956" r="1.7"/><circle cx="1625.2" cy="953" r="1.7"/><circle cx="1485.3" cy="962.6" r="1.7"/><circle cx="1450.7" cy="949.5" r="1.7"/><circle cx="1432.8" cy="948.8" r="1.7"/><circle cx="1591.2" cy="983.7" r="1.7"/><circle cx="1438.8" cy="948.7" r="1.7"/><circle cx="1620.7" cy="952.4" r="1.7"/><circle cx="1409.6" cy="987.3" r="1.7"/><circle cx="1463.6" cy="950" r="1.7"/><circle cx="1405.9" cy="986.7" r="1.7"/><circle cx="1513.7" cy="994.4" r="1.7"/><circle cx="1427.9" cy="993.6" r="1.7"/><circle cx="1606.8" cy="954" r="1.7"/><circle cx="1491" cy="993.8" r="1.7"/><circle cx="1603" cy="951.2" r="1.7"/><circle cx="1425.3" cy="949.3" r="1.7"/><circle cx="1480.2" cy="994.2" r="1.7"/><circle cx="1633.4" cy="965.9" r="1.7"/><circle cx="1479.5" cy="954.6" r="1.7"/><circle cx="1477.9" cy="952.4" r="1.7"/><circle cx="1606.7" cy="984.9" r="1.7"/><circle cx="1463.7" cy="949.4" r="1.7"/><circle cx="1602.6" cy="977.9" r="1.7"/><circle cx="1565.1" cy="992.1" r="1.7"/><circle cx="1488.4" cy="964.6" r="1.7"/><circle cx="1451.4" cy="949.2" r="1.7"/><circle cx="1405.5" cy="979.8" r="1.7"/><circle cx="1627.7" cy="964.6" r="1.7"/><circle cx="1547.8" cy="993.3" r="1.7"/><circle cx="1423.1" cy="994.2" r="1.7"/><circle cx="1625.2" cy="954.2" r="1.7"/><circle cx="1540.6" cy="994.4" r="1.7"/><circle cx="1620.7" cy="955.9" r="1.7"/><circle cx="1624.5" cy="969.4" r="1.7"/><circle cx="1614.4" cy="972.8" r="1.7"/><circle cx="1594.4" cy="981" r="1.7"/><circle cx="1459.2" cy="949.4" r="1.7"/><circle cx="1515.5" cy="994.2" r="1.7"/><circle cx="1532.9" cy="993.1" r="1.7"/><circle cx="1447.1" cy="948.3" r="1.7"/><circle cx="1417.4" cy="993.9" r="1.7"/><circle cx="1618.1" cy="977.4" r="1.7"/><circle cx="1468.6" cy="948.5" r="1.7"/><circle cx="1554.9" cy="992.8" r="1.7"/><circle cx="1440.6" cy="993.6" r="1.7"/><circle cx="1614.7" cy="953.9" r="1.7"/><circle cx="1623.8" cy="955.7" r="1.7"/><circle cx="1514.2" cy="993.3" r="1.7"/><circle cx="1446.1" cy="950.6" r="1.7"/><circle cx="1444.9" cy="994.2" r="1.7"/><circle cx="1509.3" cy="952.2" r="1.7"/><circle cx="1404.7" cy="982" r="1.7"/><circle cx="1512.6" cy="951.3" r="1.7"/><circle cx="1573.8" cy="994.9" r="1.7"/><circle cx="1622" cy="967.7" r="1.7"/><circle cx="1570.9" cy="990.3" r="1.7"/><circle cx="1565.7" cy="990.4" r="1.7"/><circle cx="1561.2" cy="992" r="1.7"/><circle cx="1612.2" cy="974.8" r="1.7"/><circle cx="1413.6" cy="990.2" r="1.7"/><circle cx="1482.1" cy="993.8" r="1.7"/><circle cx="1615.3" cy="975.8" r="1.7"/><circle cx="1490.3" cy="966.6" r="1.7"/><circle cx="1478.7" cy="994.2" r="1.7"/><circle cx="1401.9" cy="979.9" r="1.7"/><circle cx="1434.1" cy="948.1" r="1.7"/><circle cx="1599.8" cy="979.5" r="1.7"/><circle cx="1483.4" cy="994" r="1.7"/><circle cx="1494.9" cy="994.3" r="1.7"/><circle cx="1621.1" cy="976.9" r="1.7"/><circle cx="1502" cy="955.4" r="1.7"/><circle cx="1432.4" cy="948.8" r="1.7"/><circle cx="1587.7" cy="985.4" r="1.7"/><circle cx="1406.4" cy="966.6" r="1.7"/><circle cx="1489.9" cy="963.1" r="1.7"/><circle cx="1417.2" cy="994.8" r="1.7"/><circle cx="1503.1" cy="951.5" r="1.7"/><circle cx="1418.2" cy="994.5" r="1.7"/><circle cx="1414" cy="952.3" r="1.7"/><circle cx="1496.2" cy="961.5" r="1.7"/><circle cx="1479.7" cy="956" r="1.7"/><circle cx="1438.8" cy="993.4" r="1.7"/><circle cx="1524.2" cy="993.4" r="1.7"/><circle cx="1474.3" cy="994.8" r="1.7"/><circle cx="1511.6" cy="993.6" r="1.7"/><circle cx="1467.1" cy="950.1" r="1.7"/><circle cx="1401.4" cy="986.9" r="1.7"/><circle cx="1495.3" cy="963.6" r="1.7"/><circle cx="1486.2" cy="965.7" r="1.7"/><circle cx="1406" cy="988.5" r="1.7"/><circle cx="1568.4" cy="992.3" r="1.7"/><circle cx="1407.9" cy="974.8" r="1.7"/><circle cx="1445.2" cy="994.8" r="1.7"/><circle cx="1471.3" cy="937" r="1.7"/><circle cx="1472.8" cy="941.5" r="1.7"/><circle cx="1474.3" cy="939.3" r="1.7"/><circle cx="1475.1" cy="944.5" r="1.7"/><circle cx="1476.6" cy="946.8" r="1.7"/><circle cx="1478.1" cy="948.3" r="1.7"/><circle cx="1479.6" cy="950.5" r="1.7"/><circle cx="1472.1" cy="946" r="1.7"/><circle cx="1475.8" cy="950.5" r="1.7"/><circle cx="1480.3" cy="955" r="1.7"/><circle cx="1481.8" cy="958" r="1.7"/><circle cx="1477.3" cy="953.5" r="1.7"/><circle cx="1473.6" cy="948.3" r="1.7"/><circle cx="1350.5" cy="967.8" r="1.7"/><circle cx="1366.3" cy="965.5" r="1.7"/><circle cx="1369.3" cy="975.3" r="1.7"/><circle cx="1376" cy="974.5" r="1.7"/><circle cx="1382.8" cy="967.8" r="1.7"/><circle cx="1383.5" cy="980.5" r="1.7"/><circle cx="1385.8" cy="983.5" r="1.7"/><circle cx="1392.5" cy="981.3" r="1.7"/><circle cx="1397" cy="962.5" r="1.7"/><circle cx="1400" cy="966.3" r="1.7"/><circle cx="1403" cy="974.5" r="1.7"/><circle cx="1409" cy="968.5" r="1.7"/><circle cx="1413.5" cy="962.5" r="1.7"/><circle cx="1481.1" cy="924.3" r="1.7"/><circle cx="1472.1" cy="927.3" r="1.7"/><circle cx="1644.6" cy="965.5" r="1.7"/><circle cx="1646.1" cy="972.3" r="1.7"/><circle cx="1622.9" cy="979" r="1.7"/><circle cx="1586.1" cy="986.5" r="1.7"/><circle cx="1649.1" cy="955.8" r="1.7"/><circle cx="1634.1" cy="951.7" r="1.7"/><circle cx="1629.6" cy="958" r="1.7"/><circle cx="1632.6" cy="967" r="1.7"/><circle cx="1622.1" cy="962.5" r="1.7"/><circle cx="1625.1" cy="970" r="1.7"/><circle cx="1613.1" cy="974.5" r="1.7"/><circle cx="1607.1" cy="979" r="1.7"/><circle cx="1617.6" cy="976" r="1.7"/></g>
<g fill="#2f8a3e"><circle cx="1455.9" cy="921.7" r="1.8"/><circle cx="1458.4" cy="946.3" r="1.8"/><circle cx="1465.9" cy="931.9" r="1.8"/><circle cx="1465.4" cy="942.9" r="1.8"/><circle cx="1453.8" cy="938.2" r="1.8"/><circle cx="1468.7" cy="942.2" r="1.8"/><circle cx="1465.7" cy="947.1" r="1.8"/><circle cx="1436.2" cy="933.3" r="1.8"/><circle cx="1454.8" cy="950.1" r="1.8"/><circle cx="1443.6" cy="950.1" r="1.8"/><circle cx="1465.8" cy="935.8" r="1.8"/><circle cx="1449.5" cy="932.5" r="1.8"/><circle cx="1463.4" cy="947.5" r="1.8"/><circle cx="1459" cy="938.1" r="1.8"/><circle cx="1459.7" cy="925.5" r="1.8"/><circle cx="1458.5" cy="892.7" r="1.8"/><circle cx="1460.4" cy="951.4" r="1.8"/><circle cx="1466.6" cy="934.4" r="1.8"/><circle cx="1466.1" cy="941.2" r="1.8"/><circle cx="1449.1" cy="946.1" r="1.8"/><circle cx="1468.4" cy="931.2" r="1.8"/><circle cx="1462.3" cy="944.9" r="1.8"/><circle cx="1456.1" cy="945.1" r="1.8"/><circle cx="1461.3" cy="939.3" r="1.8"/><circle cx="1447.3" cy="939.1" r="1.8"/><circle cx="1457.5" cy="949.9" r="1.8"/><circle cx="1441.5" cy="947.2" r="1.8"/><circle cx="1456.6" cy="939.2" r="1.8"/><circle cx="1456.7" cy="908.4" r="1.8"/><circle cx="1452" cy="925.5" r="1.8"/><circle cx="1447" cy="893.8" r="1.8"/><circle cx="1464.6" cy="935.5" r="1.8"/><circle cx="1444.1" cy="942.7" r="1.8"/><circle cx="1466.6" cy="946.1" r="1.8"/><circle cx="1451.5" cy="937.4" r="1.8"/><circle cx="1461.1" cy="939.7" r="1.8"/><circle cx="1466" cy="950.8" r="1.8"/><circle cx="1459.1" cy="949.7" r="1.8"/><circle cx="1454.7" cy="932.6" r="1.8"/><circle cx="1441.2" cy="933.8" r="1.8"/><circle cx="1461.6" cy="933.4" r="1.8"/><circle cx="1456.1" cy="947.1" r="1.8"/><circle cx="1462.3" cy="915.9" r="1.8"/><circle cx="1457.8" cy="941.1" r="1.8"/><circle cx="1464.1" cy="940.4" r="1.8"/><circle cx="1452.1" cy="932.8" r="1.8"/><circle cx="1443.8" cy="941.7" r="1.8"/><circle cx="1461.9" cy="948.3" r="1.8"/><circle cx="1454.9" cy="927.5" r="1.8"/><circle cx="1445.3" cy="948" r="1.8"/><circle cx="1443.1" cy="931.1" r="1.8"/><circle cx="1462.8" cy="942.5" r="1.8"/><circle cx="1453.2" cy="921.1" r="1.8"/><circle cx="1449" cy="940.4" r="1.8"/><circle cx="1459.6" cy="944.2" r="1.8"/><circle cx="1467.2" cy="924.6" r="1.8"/><circle cx="1454.6" cy="949.6" r="1.8"/><circle cx="1452.9" cy="929.9" r="1.8"/><circle cx="1448.9" cy="924.2" r="1.8"/><circle cx="1464.5" cy="946.2" r="1.8"/><circle cx="1461.9" cy="950.5" r="1.8"/><circle cx="1465.4" cy="914.3" r="1.8"/><circle cx="1441.9" cy="949.3" r="1.8"/><circle cx="1447.6" cy="950.9" r="1.8"/><circle cx="1467.4" cy="949.7" r="1.8"/><circle cx="1456" cy="943.8" r="1.8"/><circle cx="1465.7" cy="949.7" r="1.8"/><circle cx="1459.6" cy="946.2" r="1.8"/><circle cx="1453.7" cy="946.5" r="1.8"/><circle cx="1463" cy="949.6" r="1.8"/><circle cx="1438.1" cy="944.8" r="1.8"/><circle cx="1446.9" cy="938" r="1.8"/><circle cx="1456.2" cy="937.3" r="1.8"/><circle cx="1438.3" cy="951.7" r="1.8"/><circle cx="1439.3" cy="951.4" r="1.8"/><circle cx="1466.5" cy="950.5" r="1.8"/><circle cx="1441.1" cy="947.6" r="1.8"/><circle cx="1437.8" cy="950.1" r="1.8"/><circle cx="1466.5" cy="941" r="1.8"/><circle cx="1450.1" cy="929.7" r="1.8"/><circle cx="1463.3" cy="890.7" r="1.8"/><circle cx="1434.7" cy="950.7" r="1.8"/><circle cx="1465" cy="944" r="1.8"/><circle cx="1450.7" cy="926.5" r="1.8"/><circle cx="1465.7" cy="949.2" r="1.8"/><circle cx="1454.9" cy="902.9" r="1.8"/><circle cx="1457" cy="948.5" r="1.8"/><circle cx="1459.9" cy="930.2" r="1.8"/><circle cx="1463.8" cy="948.2" r="1.8"/><circle cx="1453.4" cy="946" r="1.8"/><circle cx="1463.8" cy="951.6" r="1.8"/><circle cx="1447.8" cy="951.8" r="1.8"/><circle cx="1456.9" cy="949.5" r="1.8"/><circle cx="1461.2" cy="943.6" r="1.8"/><circle cx="1454" cy="945.8" r="1.8"/><circle cx="1442.1" cy="949.5" r="1.8"/><circle cx="1438.2" cy="951.5" r="1.8"/><circle cx="1458" cy="948.8" r="1.8"/><circle cx="1457.3" cy="943.9" r="1.8"/><circle cx="1466.4" cy="915" r="1.8"/><circle cx="1454.3" cy="925.7" r="1.8"/><circle cx="1462.4" cy="889.7" r="1.8"/><circle cx="1468.2" cy="947.2" r="1.8"/><circle cx="1461.8" cy="923.3" r="1.8"/><circle cx="1460.5" cy="942.6" r="1.8"/><circle cx="1444.6" cy="938.4" r="1.8"/><circle cx="1454.7" cy="934.3" r="1.8"/><circle cx="1466" cy="929.2" r="1.8"/><circle cx="1464.5" cy="950" r="1.8"/><circle cx="1459.1" cy="948.6" r="1.8"/><circle cx="1459.1" cy="942.6" r="1.8"/><circle cx="1463.2" cy="951.8" r="1.8"/><circle cx="1457.3" cy="950.1" r="1.8"/><circle cx="1449.4" cy="947.7" r="1.8"/><circle cx="1464.6" cy="947.6" r="1.8"/><circle cx="1464.5" cy="950.9" r="1.8"/><circle cx="1460.8" cy="944.2" r="1.8"/><circle cx="1442.7" cy="946.6" r="1.8"/><circle cx="1460.8" cy="929.5" r="1.8"/><circle cx="1457.6" cy="951.9" r="1.8"/><circle cx="1463.7" cy="945.4" r="1.8"/><circle cx="1443.2" cy="949.2" r="1.8"/><circle cx="1466.3" cy="948.1" r="1.8"/><circle cx="1463.7" cy="901.9" r="1.8"/><circle cx="1447.7" cy="951.5" r="1.8"/><circle cx="1439.4" cy="950.1" r="1.8"/><circle cx="1459.2" cy="933.3" r="1.8"/><circle cx="1457.2" cy="942.1" r="1.8"/><circle cx="1464.2" cy="928.5" r="1.8"/><circle cx="1463.9" cy="946.9" r="1.8"/><circle cx="1455.2" cy="941.3" r="1.8"/><circle cx="1446.1" cy="928.3" r="1.8"/><circle cx="1467.7" cy="943.7" r="1.8"/><circle cx="1457.2" cy="944.7" r="1.8"/><circle cx="1459.3" cy="939.6" r="1.8"/><circle cx="1452.8" cy="948.2" r="1.8"/><circle cx="1445.1" cy="950.4" r="1.8"/><circle cx="1456.6" cy="941.1" r="1.8"/><circle cx="1466" cy="911.4" r="1.8"/><circle cx="1460.2" cy="945.5" r="1.8"/><circle cx="1463.8" cy="942.5" r="1.8"/><circle cx="1460.8" cy="951.9" r="1.8"/><circle cx="1460.9" cy="921" r="1.8"/><circle cx="1461.3" cy="943.2" r="1.8"/><circle cx="1456.5" cy="949.6" r="1.8"/><circle cx="1462.8" cy="926.6" r="1.8"/><circle cx="1468.9" cy="916.5" r="1.8"/><circle cx="1465" cy="951" r="1.8"/><circle cx="1451.4" cy="935.8" r="1.8"/><circle cx="1467.1" cy="925.8" r="1.8"/><circle cx="1460.7" cy="884.4" r="1.8"/><circle cx="1447.7" cy="948.5" r="1.8"/><circle cx="1467.1" cy="940.1" r="1.8"/><circle cx="1463.9" cy="942.2" r="1.8"/><circle cx="1455.8" cy="914" r="1.8"/><circle cx="1465.4" cy="938.3" r="1.8"/><circle cx="1465.4" cy="951.6" r="1.8"/><circle cx="1461.1" cy="950.6" r="1.8"/><circle cx="1448.3" cy="946.6" r="1.8"/><circle cx="1462" cy="947.4" r="1.8"/><circle cx="1464.9" cy="939.1" r="1.8"/><circle cx="1446.4" cy="909.4" r="1.8"/><circle cx="1465.9" cy="948.3" r="1.8"/><circle cx="1450.6" cy="919.6" r="1.8"/><circle cx="1464.2" cy="946.7" r="1.8"/><circle cx="1462.6" cy="878.3" r="1.8"/><circle cx="1468.2" cy="945.2" r="1.8"/><circle cx="1462.3" cy="937.6" r="1.8"/><circle cx="1464" cy="917.2" r="1.8"/><circle cx="1462.5" cy="946.6" r="1.8"/><circle cx="1463.1" cy="930.2" r="1.8"/><circle cx="1457.9" cy="945.5" r="1.8"/><circle cx="1461.7" cy="931.1" r="1.8"/><circle cx="1440.7" cy="947.8" r="1.8"/><circle cx="1454.1" cy="947.2" r="1.8"/><circle cx="1459.5" cy="940.5" r="1.8"/><circle cx="1460.5" cy="924.4" r="1.8"/><circle cx="1456.7" cy="923.2" r="1.8"/><circle cx="1448" cy="950.9" r="1.8"/><circle cx="1465.9" cy="939.9" r="1.8"/><circle cx="1440.1" cy="944.1" r="1.8"/><circle cx="1463.5" cy="949.6" r="1.8"/><circle cx="1455.8" cy="949.5" r="1.8"/><circle cx="1437.1" cy="946.9" r="1.8"/><circle cx="1456.4" cy="936" r="1.8"/><circle cx="1451.3" cy="951" r="1.8"/><circle cx="1467.1" cy="906.2" r="1.8"/><circle cx="1433.7" cy="948.8" r="1.8"/><circle cx="1461.1" cy="950.1" r="1.8"/><circle cx="1426.8" cy="948.6" r="1.8"/><circle cx="1454.6" cy="942.2" r="1.8"/><circle cx="1437.4" cy="938.7" r="1.8"/><circle cx="1457.1" cy="944.6" r="1.8"/><circle cx="1460.1" cy="943.6" r="1.8"/><circle cx="1468.3" cy="936.4" r="1.8"/><circle cx="1451" cy="925.3" r="1.8"/><circle cx="1459.3" cy="947.5" r="1.8"/><circle cx="1449.6" cy="935" r="1.8"/><circle cx="1463.9" cy="902.1" r="1.8"/><circle cx="1457.7" cy="925.5" r="1.8"/><circle cx="1457.3" cy="936.5" r="1.8"/><circle cx="1458.3" cy="928.6" r="1.8"/><circle cx="1452.1" cy="940.2" r="1.8"/><circle cx="1467.5" cy="932.4" r="1.8"/><circle cx="1461.9" cy="951.8" r="1.8"/><circle cx="1465.4" cy="950.6" r="1.8"/><circle cx="1452.7" cy="944.3" r="1.8"/><circle cx="1464.2" cy="936.5" r="1.8"/><circle cx="1438.4" cy="951.3" r="1.8"/><circle cx="1461.7" cy="945.5" r="1.8"/><circle cx="1465.9" cy="940.4" r="1.8"/><circle cx="1454.9" cy="938.3" r="1.8"/><circle cx="1460" cy="946.3" r="1.8"/><circle cx="1434.3" cy="941.7" r="1.8"/><circle cx="1455.8" cy="924.7" r="1.8"/><circle cx="1454.2" cy="912.6" r="1.8"/><circle cx="1466.2" cy="944.7" r="1.8"/><circle cx="1458.2" cy="934.8" r="1.8"/><circle cx="1461.7" cy="947.7" r="1.8"/><circle cx="1446.6" cy="899.2" r="1.8"/><circle cx="1444.1" cy="951.2" r="1.8"/><circle cx="1453.8" cy="933" r="1.8"/><circle cx="1442.9" cy="947.9" r="1.8"/><circle cx="1465" cy="950.9" r="1.8"/><circle cx="1449.2" cy="945.6" r="1.8"/><circle cx="1466.4" cy="918.6" r="1.8"/><circle cx="1463.8" cy="936.9" r="1.8"/><circle cx="1454.7" cy="945.9" r="1.8"/><circle cx="1462.2" cy="933.4" r="1.8"/><circle cx="1462.6" cy="936.9" r="1.8"/><circle cx="1465.6" cy="935.9" r="1.8"/><circle cx="1465.6" cy="948.4" r="1.8"/><circle cx="1441" cy="951" r="1.8"/><circle cx="1465.4" cy="946" r="1.8"/><circle cx="1460.1" cy="950.9" r="1.8"/><circle cx="1444" cy="948.1" r="1.8"/><circle cx="1454.5" cy="935.5" r="1.8"/><circle cx="1452.7" cy="945.6" r="1.8"/><circle cx="1464.5" cy="931.5" r="1.8"/><circle cx="1456.1" cy="936.4" r="1.8"/><circle cx="1463.2" cy="950.4" r="1.8"/><circle cx="1457" cy="920.7" r="1.8"/><circle cx="1455.8" cy="940.5" r="1.8"/><circle cx="1459.8" cy="944.7" r="1.8"/><circle cx="1461.9" cy="951.5" r="1.8"/><circle cx="1462.7" cy="948.5" r="1.8"/><circle cx="1442.3" cy="939.8" r="1.8"/><circle cx="1459.7" cy="927.1" r="1.8"/><circle cx="1465.5" cy="942" r="1.8"/><circle cx="1456.5" cy="924.3" r="1.8"/><circle cx="1448" cy="941.3" r="1.8"/><circle cx="1467.3" cy="944.5" r="1.8"/><circle cx="1454.1" cy="948.5" r="1.8"/><circle cx="1463.2" cy="930.2" r="1.8"/><circle cx="1464" cy="943.9" r="1.8"/><circle cx="1464.2" cy="949.9" r="1.8"/><circle cx="1443.3" cy="890.1" r="1.8"/><circle cx="1466.1" cy="931.5" r="1.8"/><circle cx="1464.4" cy="950.5" r="1.8"/><circle cx="1465.5" cy="931.1" r="1.8"/><circle cx="1460.4" cy="933.1" r="1.8"/><circle cx="1447.7" cy="949.6" r="1.8"/><circle cx="1457.1" cy="918.4" r="1.8"/><circle cx="1452.6" cy="944" r="1.8"/><circle cx="1448.1" cy="939" r="1.8"/><circle cx="1438.2" cy="937.8" r="1.8"/><circle cx="1457.2" cy="942.4" r="1.8"/><circle cx="1463.1" cy="914" r="1.8"/><circle cx="1449.9" cy="947" r="1.8"/><circle cx="1467.6" cy="912.5" r="1.8"/><circle cx="1467.4" cy="908.2" r="1.8"/><circle cx="1463.2" cy="938.4" r="1.8"/><circle cx="1459.4" cy="946.2" r="1.8"/><circle cx="1436.3" cy="944.7" r="1.8"/><circle cx="1457.7" cy="932" r="1.8"/><circle cx="1460.6" cy="937.9" r="1.8"/><circle cx="1464.9" cy="943.8" r="1.8"/><circle cx="1459.4" cy="929.8" r="1.8"/><circle cx="1432.5" cy="948.5" r="1.8"/><circle cx="1452.3" cy="942.6" r="1.8"/><circle cx="1463.5" cy="921.7" r="1.8"/><circle cx="1453.7" cy="934.7" r="1.8"/><circle cx="1466.1" cy="928.2" r="1.8"/><circle cx="1460.5" cy="944.1" r="1.8"/><circle cx="1464.8" cy="949.7" r="1.8"/><circle cx="1448.3" cy="945.9" r="1.8"/><circle cx="1460.4" cy="949.3" r="1.8"/><circle cx="1452.2" cy="946.4" r="1.8"/><circle cx="1460.1" cy="948.3" r="1.8"/><circle cx="1442.4" cy="949.5" r="1.8"/><circle cx="1437.3" cy="934.2" r="1.8"/><circle cx="1453.7" cy="928.5" r="1.8"/><circle cx="1458.1" cy="913" r="1.8"/><circle cx="1453.4" cy="934.6" r="1.8"/><circle cx="1468.3" cy="945.5" r="1.8"/><circle cx="1469" cy="942.5" r="1.8"/><circle cx="1466" cy="923.9" r="1.8"/><circle cx="1452.9" cy="919.3" r="1.8"/><circle cx="1456.5" cy="937.8" r="1.8"/><circle cx="1462.6" cy="939.1" r="1.8"/><circle cx="1453.5" cy="944.3" r="1.8"/><circle cx="1453.1" cy="939.2" r="1.8"/><circle cx="1456.1" cy="932.3" r="1.8"/><circle cx="1459.6" cy="945.2" r="1.8"/><circle cx="1451.3" cy="951.2" r="1.8"/><circle cx="1453.1" cy="927.5" r="1.8"/><circle cx="1464.6" cy="932.1" r="1.8"/><circle cx="1460" cy="950.6" r="1.8"/><circle cx="1460.5" cy="938.7" r="1.8"/><circle cx="1451.3" cy="933.8" r="1.8"/><circle cx="1457.5" cy="937.3" r="1.8"/><circle cx="1457.5" cy="943.2" r="1.8"/><circle cx="1456.6" cy="949.1" r="1.8"/><circle cx="1458.3" cy="947.1" r="1.8"/><circle cx="1446.6" cy="948.5" r="1.8"/><circle cx="1443.5" cy="947.6" r="1.8"/><circle cx="1464.8" cy="913.9" r="1.8"/><circle cx="1454.3" cy="925.5" r="1.8"/><circle cx="1458.6" cy="948.8" r="1.8"/><circle cx="1453.8" cy="946.1" r="1.8"/><circle cx="1453.3" cy="925.3" r="1.8"/><circle cx="1463.8" cy="920.9" r="1.8"/><circle cx="1442.8" cy="943" r="1.8"/><circle cx="1459.1" cy="948.2" r="1.8"/><circle cx="1444.6" cy="950.9" r="1.8"/><circle cx="1465.9" cy="943.1" r="1.8"/><circle cx="1454.5" cy="934.1" r="1.8"/><circle cx="1454" cy="946.5" r="1.8"/><circle cx="1434.5" cy="951.1" r="1.8"/><circle cx="1437.8" cy="938.4" r="1.8"/><circle cx="1464.1" cy="940.6" r="1.8"/><circle cx="1459.2" cy="936.3" r="1.8"/><circle cx="1448.7" cy="915.6" r="1.8"/><circle cx="1436.4" cy="948.2" r="1.8"/><circle cx="1451.8" cy="944.6" r="1.8"/><circle cx="1466.4" cy="938.5" r="1.8"/><circle cx="1456" cy="939.1" r="1.8"/><circle cx="1447.4" cy="924.3" r="1.8"/><circle cx="1461.2" cy="936" r="1.8"/><circle cx="1462.8" cy="902.7" r="1.8"/><circle cx="1453.8" cy="945.3" r="1.8"/><circle cx="1460.1" cy="936.6" r="1.8"/><circle cx="1449.4" cy="932" r="1.8"/><circle cx="1432.2" cy="949.5" r="1.8"/><circle cx="1464.7" cy="936.4" r="1.8"/><circle cx="1446.4" cy="949.6" r="1.8"/><circle cx="1467.2" cy="937" r="1.8"/><circle cx="1430.2" cy="946.8" r="1.8"/><circle cx="1463.8" cy="928.7" r="1.8"/><circle cx="1452.1" cy="938.8" r="1.8"/><circle cx="1447" cy="939.5" r="1.8"/><circle cx="1453.7" cy="926.1" r="1.8"/><circle cx="1452.9" cy="948.5" r="1.8"/><circle cx="1459.9" cy="951.8" r="1.8"/><circle cx="1455.5" cy="948.9" r="1.8"/><circle cx="1467.3" cy="942.5" r="1.8"/><circle cx="1443.8" cy="949.3" r="1.8"/><circle cx="1453.9" cy="951.1" r="1.8"/><circle cx="1463.5" cy="948.3" r="1.8"/><circle cx="1464.7" cy="927.3" r="1.8"/><circle cx="1459" cy="915.8" r="1.8"/><circle cx="1462.3" cy="945.5" r="1.8"/><circle cx="1454.8" cy="948.8" r="1.8"/><circle cx="1459.8" cy="923.6" r="1.8"/><circle cx="1455.4" cy="948.5" r="1.8"/><circle cx="1449.4" cy="933.4" r="1.8"/><circle cx="1457.3" cy="910.8" r="1.8"/><circle cx="1465.2" cy="940.1" r="1.8"/><circle cx="1463.9" cy="948.7" r="1.8"/><circle cx="1464.5" cy="949.9" r="1.8"/><circle cx="1444.8" cy="940.5" r="1.8"/><circle cx="1464.8" cy="927.6" r="1.8"/><circle cx="1445.9" cy="943.2" r="1.8"/><circle cx="1452.9" cy="913" r="1.8"/><circle cx="1437.1" cy="946.5" r="1.8"/><circle cx="1461.2" cy="941.5" r="1.8"/><circle cx="1465.9" cy="951" r="1.8"/><circle cx="1458.7" cy="880.1" r="1.8"/><circle cx="1463.4" cy="941.8" r="1.8"/><circle cx="1461.2" cy="929.5" r="1.8"/><circle cx="1466.2" cy="948.9" r="1.8"/><circle cx="1449.4" cy="910.3" r="1.8"/><circle cx="1451.5" cy="948" r="1.8"/><circle cx="1466.6" cy="944.6" r="1.8"/><circle cx="1466.8" cy="912.4" r="1.8"/><circle cx="1458.5" cy="945.7" r="1.8"/><circle cx="1452.8" cy="934.8" r="1.8"/><circle cx="1466.8" cy="940" r="1.8"/><circle cx="1464.7" cy="931.5" r="1.8"/><circle cx="1456" cy="951.1" r="1.8"/><circle cx="1466.3" cy="929.8" r="1.8"/><circle cx="1452.8" cy="936.5" r="1.8"/><circle cx="1457.2" cy="938.2" r="1.8"/><circle cx="1456.5" cy="918.4" r="1.8"/><circle cx="1461.1" cy="942.5" r="1.8"/><circle cx="1460.5" cy="938.4" r="1.8"/><circle cx="1441.4" cy="951.7" r="1.8"/><circle cx="1453.4" cy="936.7" r="1.8"/><circle cx="1444.7" cy="949.4" r="1.8"/><circle cx="1444.1" cy="938.5" r="1.8"/><circle cx="1453.9" cy="924.5" r="1.8"/><circle cx="1462.8" cy="938.2" r="1.8"/><circle cx="1446.2" cy="951.3" r="1.8"/><circle cx="1458.5" cy="894" r="1.8"/><circle cx="1457" cy="943.2" r="1.8"/><circle cx="1461.7" cy="950.4" r="1.8"/><circle cx="1447.6" cy="945.5" r="1.8"/><circle cx="1445.7" cy="947.9" r="1.8"/><circle cx="1463.5" cy="950" r="1.8"/><circle cx="1445.1" cy="945.6" r="1.8"/><circle cx="1463.3" cy="918.4" r="1.8"/><circle cx="1457.6" cy="940.3" r="1.8"/><circle cx="1456.8" cy="952" r="1.8"/><circle cx="1448.7" cy="950.8" r="1.8"/><circle cx="1466.9" cy="938.2" r="1.8"/><circle cx="1451.8" cy="948.1" r="1.8"/><circle cx="1460.6" cy="951.8" r="1.8"/><circle cx="1458.3" cy="941.2" r="1.8"/><circle cx="1462" cy="942.7" r="1.8"/><circle cx="1450.8" cy="937.6" r="1.8"/><circle cx="1444.3" cy="936.7" r="1.8"/><circle cx="1447.3" cy="951.3" r="1.8"/><circle cx="1458.8" cy="923.6" r="1.8"/><circle cx="1459.9" cy="898.3" r="1.8"/><circle cx="1466" cy="951.1" r="1.8"/><circle cx="1426.6" cy="946.3" r="1.8"/><circle cx="1447.9" cy="938.7" r="1.8"/><circle cx="1448.3" cy="948.6" r="1.8"/><circle cx="1450.8" cy="945" r="1.8"/><circle cx="1450" cy="937.2" r="1.8"/><circle cx="1467.3" cy="946.9" r="1.8"/><circle cx="1468" cy="909.4" r="1.8"/><circle cx="1456.4" cy="937.5" r="1.8"/><circle cx="1465.3" cy="933.9" r="1.8"/><circle cx="1453.8" cy="925" r="1.8"/><circle cx="1468.3" cy="932.2" r="1.8"/><circle cx="1437" cy="911.6" r="1.8"/><circle cx="1467.5" cy="951.8" r="1.8"/><circle cx="1458.1" cy="950.2" r="1.8"/><circle cx="1444" cy="936.2" r="1.8"/><circle cx="1466.6" cy="949.1" r="1.8"/><circle cx="1464.3" cy="929.9" r="1.8"/><circle cx="1462.2" cy="939.1" r="1.8"/><circle cx="1466.3" cy="949.9" r="1.8"/><circle cx="1454.8" cy="947.2" r="1.8"/><circle cx="1457.4" cy="947.5" r="1.8"/><circle cx="1456.9" cy="950.1" r="1.8"/><circle cx="1463.4" cy="940.5" r="1.8"/><circle cx="1454.2" cy="942" r="1.8"/><circle cx="1463.7" cy="950.8" r="1.8"/><circle cx="1446.3" cy="936.4" r="1.8"/><circle cx="1462.6" cy="945.4" r="1.8"/><circle cx="1454.3" cy="943" r="1.8"/><circle cx="1450.9" cy="937" r="1.8"/><circle cx="1464.4" cy="949.2" r="1.8"/><circle cx="1468" cy="949" r="1.8"/><circle cx="1457.4" cy="934.6" r="1.8"/><circle cx="1457.1" cy="943.5" r="1.8"/><circle cx="1453.9" cy="934.5" r="1.8"/><circle cx="1449.9" cy="945.1" r="1.8"/><circle cx="1442.8" cy="951.6" r="1.8"/><circle cx="1458.8" cy="899.6" r="1.8"/><circle cx="1458.9" cy="948.3" r="1.8"/><circle cx="1437.2" cy="948" r="1.8"/><circle cx="1446.7" cy="940.2" r="1.8"/><circle cx="1466.6" cy="941.6" r="1.8"/><circle cx="1462.6" cy="928.9" r="1.8"/><circle cx="1450.3" cy="919.7" r="1.8"/><circle cx="1447.4" cy="944.6" r="1.8"/><circle cx="1455.7" cy="885.1" r="1.8"/><circle cx="1467.2" cy="947.4" r="1.8"/><circle cx="1448.1" cy="925.9" r="1.8"/><circle cx="1454.1" cy="930" r="1.8"/><circle cx="1460.9" cy="950.1" r="1.8"/><circle cx="1463.1" cy="939" r="1.8"/><circle cx="1455.5" cy="919.9" r="1.8"/><circle cx="1466.1" cy="938.1" r="1.8"/><circle cx="1444.2" cy="949.2" r="1.8"/><circle cx="1459.9" cy="950.9" r="1.8"/><circle cx="1453.8" cy="919.1" r="1.8"/><circle cx="1461.4" cy="933.6" r="1.8"/><circle cx="1452.3" cy="910.3" r="1.8"/><circle cx="1455.6" cy="904.1" r="1.8"/><circle cx="1440.6" cy="951.9" r="1.8"/><circle cx="1459.4" cy="933.7" r="1.8"/><circle cx="1465.8" cy="902.7" r="1.8"/><circle cx="1466" cy="921.8" r="1.8"/><circle cx="1451.1" cy="900.1" r="1.8"/><circle cx="1462.4" cy="948.4" r="1.8"/><circle cx="1459.2" cy="946.7" r="1.8"/><circle cx="1451.7" cy="944.4" r="1.8"/><circle cx="1448.6" cy="922.5" r="1.8"/><circle cx="1466.8" cy="931.7" r="1.8"/><circle cx="1464.2" cy="936.8" r="1.8"/><circle cx="1453.7" cy="949.2" r="1.8"/><circle cx="1444.2" cy="947.6" r="1.8"/><circle cx="1458.1" cy="924.8" r="1.8"/><circle cx="1450.6" cy="948.1" r="1.8"/><circle cx="1468.4" cy="918.3" r="1.8"/><circle cx="1461.9" cy="941.1" r="1.8"/><circle cx="1459.8" cy="943.6" r="1.8"/><circle cx="1452.2" cy="938.2" r="1.8"/><circle cx="1448.7" cy="940" r="1.8"/><circle cx="1465.9" cy="942.7" r="1.8"/><circle cx="1459.2" cy="932.5" r="1.8"/><circle cx="1462.7" cy="878.2" r="1.8"/><circle cx="1465.4" cy="944.3" r="1.8"/><circle cx="1456.8" cy="949.2" r="1.8"/><circle cx="1458.4" cy="943" r="1.8"/><circle cx="1451.3" cy="951.6" r="1.8"/><circle cx="1459.3" cy="948.3" r="1.8"/><circle cx="1445.2" cy="930.2" r="1.8"/><circle cx="1446.8" cy="941" r="1.8"/><circle cx="1458.6" cy="947.9" r="1.8"/><circle cx="1465" cy="936.6" r="1.8"/><circle cx="1453.6" cy="895.3" r="1.8"/><circle cx="1442.7" cy="946.8" r="1.8"/><circle cx="1463.2" cy="951.7" r="1.8"/><circle cx="1453" cy="904.9" r="1.8"/><circle cx="1466.7" cy="935.3" r="1.8"/><circle cx="1459.7" cy="912.1" r="1.8"/><circle cx="1462.7" cy="946.7" r="1.8"/><circle cx="1457.6" cy="947.8" r="1.8"/><circle cx="1463.8" cy="941.5" r="1.8"/><circle cx="1437.5" cy="945.1" r="1.8"/><circle cx="1444.8" cy="948.4" r="1.8"/><circle cx="1466.8" cy="942.6" r="1.8"/><circle cx="1454.7" cy="937.8" r="1.8"/><circle cx="1451.4" cy="941.5" r="1.8"/><circle cx="1458.6" cy="942.6" r="1.8"/><circle cx="1437.1" cy="947.7" r="1.8"/><circle cx="1461.5" cy="922.4" r="1.8"/><circle cx="1464.8" cy="924.8" r="1.8"/><circle cx="1455.1" cy="951.2" r="1.8"/><circle cx="1464.1" cy="934.5" r="1.8"/><circle cx="1437.1" cy="951.5" r="1.8"/><circle cx="1440.2" cy="939.3" r="1.8"/><circle cx="1460.8" cy="917.6" r="1.8"/><circle cx="1453.9" cy="948.7" r="1.8"/><circle cx="1465" cy="924.6" r="1.8"/><circle cx="1469.1" cy="945.4" r="1.8"/><circle cx="1452.7" cy="946.6" r="1.8"/><circle cx="1448.9" cy="940.6" r="1.8"/><circle cx="1456" cy="940.8" r="1.8"/><circle cx="1458.1" cy="931.7" r="1.8"/><circle cx="1452.6" cy="950.3" r="1.8"/><circle cx="1448.6" cy="933" r="1.8"/><circle cx="1467.5" cy="934.9" r="1.8"/><circle cx="1461.2" cy="937" r="1.8"/><circle cx="1460.2" cy="950.4" r="1.8"/><circle cx="1459.2" cy="927.7" r="1.8"/><circle cx="1456" cy="907.9" r="1.8"/><circle cx="1463" cy="951.7" r="1.8"/><circle cx="1458.1" cy="948.3" r="1.8"/><circle cx="1456.4" cy="951.7" r="1.8"/><circle cx="1451" cy="950.8" r="1.8"/><circle cx="1457.4" cy="932.6" r="1.8"/><circle cx="1446.4" cy="934.7" r="1.8"/><circle cx="1432.4" cy="950.5" r="1.8"/><circle cx="1437.1" cy="707.3" r="1.8"/><circle cx="1437.8" cy="746" r="1.8"/><circle cx="1428.3" cy="770.2" r="1.8"/><circle cx="1435.5" cy="765.3" r="1.8"/><circle cx="1448.6" cy="762.4" r="1.8"/><circle cx="1452.2" cy="770.5" r="1.8"/><circle cx="1443.7" cy="776.8" r="1.8"/><circle cx="1445.3" cy="776.1" r="1.8"/><circle cx="1442.4" cy="787.6" r="1.8"/><circle cx="1449.9" cy="786.9" r="1.8"/><circle cx="1450.5" cy="813.1" r="1.8"/><circle cx="1424" cy="845.5" r="1.8"/><circle cx="1436.5" cy="845.5" r="1.8"/><circle cx="1443.7" cy="836" r="1.8"/><circle cx="1445.6" cy="842.3" r="1.8"/><circle cx="1456.8" cy="842.3" r="1.8"/><circle cx="1454.5" cy="853.1" r="1.8"/><circle cx="1456.1" cy="853.7" r="1.8"/><circle cx="1426" cy="874.3" r="1.8"/><circle cx="1436.5" cy="869.4" r="1.8"/><circle cx="1438.1" cy="875" r="1.8"/><circle cx="1446.3" cy="876" r="1.8"/><circle cx="1454.5" cy="876" r="1.8"/><circle cx="1461" cy="867.8" r="1.8"/><circle cx="1411.3" cy="916.9" r="1.8"/><circle cx="1416.8" cy="923.5" r="1.8"/><circle cx="1461" cy="882.5" r="1.8"/><circle cx="1457.7" cy="887.4" r="1.8"/><circle cx="1465.9" cy="885.8" r="1.8"/></g>
<g fill="#d42a26"><circle cx="1615.2" cy="944.3" r="1.8"/><circle cx="1526" cy="932.1" r="1.8"/><circle cx="1521.7" cy="951.2" r="1.8"/><circle cx="1551" cy="946.8" r="1.8"/><circle cx="1516.3" cy="946.5" r="1.8"/><circle cx="1531.2" cy="919.7" r="1.8"/><circle cx="1544.3" cy="951.8" r="1.8"/><circle cx="1514.7" cy="948.3" r="1.8"/><circle cx="1539.5" cy="947.6" r="1.8"/><circle cx="1542.3" cy="948.3" r="1.8"/><circle cx="1521.8" cy="936.6" r="1.8"/><circle cx="1534.1" cy="948.7" r="1.8"/><circle cx="1518" cy="946.7" r="1.8"/><circle cx="1579.3" cy="934.4" r="1.8"/><circle cx="1554.1" cy="934.6" r="1.8"/><circle cx="1533.7" cy="951.1" r="1.8"/><circle cx="1592.9" cy="944.4" r="1.8"/><circle cx="1518.7" cy="944" r="1.8"/><circle cx="1516.3" cy="950.4" r="1.8"/><circle cx="1527.7" cy="933.7" r="1.8"/><circle cx="1551.2" cy="948.8" r="1.8"/><circle cx="1548.3" cy="949.8" r="1.8"/><circle cx="1605.3" cy="935" r="1.8"/><circle cx="1524" cy="947.7" r="1.8"/><circle cx="1520.1" cy="949.2" r="1.8"/><circle cx="1528.4" cy="919.7" r="1.8"/><circle cx="1537.7" cy="948.2" r="1.8"/><circle cx="1541.8" cy="951.8" r="1.8"/><circle cx="1524" cy="947" r="1.8"/><circle cx="1574" cy="940.7" r="1.8"/><circle cx="1570.7" cy="949.6" r="1.8"/><circle cx="1529.5" cy="943" r="1.8"/><circle cx="1551" cy="941.6" r="1.8"/><circle cx="1550.1" cy="949.1" r="1.8"/><circle cx="1530.1" cy="946" r="1.8"/><circle cx="1568.3" cy="945.2" r="1.8"/><circle cx="1561.6" cy="947.2" r="1.8"/><circle cx="1533.6" cy="942.8" r="1.8"/><circle cx="1527.6" cy="950.3" r="1.8"/><circle cx="1538.3" cy="951.4" r="1.8"/><circle cx="1631" cy="947" r="1.8"/><circle cx="1519.4" cy="949" r="1.8"/><circle cx="1550.2" cy="943.9" r="1.8"/><circle cx="1565.3" cy="947.2" r="1.8"/><circle cx="1531.6" cy="950.7" r="1.8"/><circle cx="1517.7" cy="949.2" r="1.8"/><circle cx="1517.3" cy="945.2" r="1.8"/><circle cx="1561.1" cy="934.8" r="1.8"/><circle cx="1579" cy="913.6" r="1.8"/><circle cx="1615" cy="942.2" r="1.8"/><circle cx="1533.8" cy="942.4" r="1.8"/><circle cx="1519.8" cy="951.6" r="1.8"/><circle cx="1528" cy="946.8" r="1.8"/><circle cx="1537.2" cy="935.4" r="1.8"/><circle cx="1578.2" cy="946.5" r="1.8"/><circle cx="1595.4" cy="950" r="1.8"/><circle cx="1524.5" cy="950" r="1.8"/><circle cx="1560" cy="946.8" r="1.8"/><circle cx="1552.4" cy="951.3" r="1.8"/><circle cx="1564.2" cy="949.1" r="1.8"/><circle cx="1524.7" cy="942.6" r="1.8"/><circle cx="1524.9" cy="925.4" r="1.8"/><circle cx="1599.1" cy="948.9" r="1.8"/><circle cx="1527.3" cy="948.8" r="1.8"/><circle cx="1533.2" cy="951.2" r="1.8"/><circle cx="1524.6" cy="951.2" r="1.8"/><circle cx="1517.7" cy="946.7" r="1.8"/><circle cx="1515.7" cy="942.1" r="1.8"/><circle cx="1535.6" cy="951.4" r="1.8"/><circle cx="1556.1" cy="942.9" r="1.8"/><circle cx="1632.3" cy="949.1" r="1.8"/><circle cx="1572.4" cy="943.1" r="1.8"/><circle cx="1568.1" cy="915" r="1.8"/><circle cx="1543.8" cy="942.4" r="1.8"/><circle cx="1530.7" cy="947" r="1.8"/><circle cx="1534.8" cy="949.2" r="1.8"/><circle cx="1588.4" cy="948" r="1.8"/><circle cx="1552.3" cy="922.6" r="1.8"/><circle cx="1581.4" cy="944.9" r="1.8"/><circle cx="1524.6" cy="936.9" r="1.8"/><circle cx="1518" cy="949.4" r="1.8"/><circle cx="1549.7" cy="947.7" r="1.8"/><circle cx="1541.3" cy="950.8" r="1.8"/><circle cx="1558.9" cy="935.2" r="1.8"/><circle cx="1523.3" cy="941.4" r="1.8"/><circle cx="1582.6" cy="945.1" r="1.8"/><circle cx="1539.9" cy="945.1" r="1.8"/><circle cx="1530.4" cy="949.3" r="1.8"/><circle cx="1524.4" cy="930.7" r="1.8"/><circle cx="1560.9" cy="942.3" r="1.8"/><circle cx="1571.6" cy="950.1" r="1.8"/><circle cx="1552" cy="950.2" r="1.8"/><circle cx="1539" cy="941.3" r="1.8"/><circle cx="1534.3" cy="948.9" r="1.8"/><circle cx="1523.5" cy="950.3" r="1.8"/><circle cx="1531.6" cy="948.3" r="1.8"/><circle cx="1578.5" cy="949.3" r="1.8"/><circle cx="1534.2" cy="949.8" r="1.8"/><circle cx="1548.4" cy="951.5" r="1.8"/><circle cx="1524.1" cy="940.9" r="1.8"/><circle cx="1544.8" cy="949.5" r="1.8"/><circle cx="1609.6" cy="949.6" r="1.8"/><circle cx="1535.3" cy="949.5" r="1.8"/><circle cx="1542.5" cy="948.9" r="1.8"/><circle cx="1565.7" cy="948.1" r="1.8"/><circle cx="1534.5" cy="951.4" r="1.8"/><circle cx="1518.8" cy="913.3" r="1.8"/><circle cx="1527.4" cy="943.6" r="1.8"/><circle cx="1522.1" cy="949.8" r="1.8"/><circle cx="1558.3" cy="937.7" r="1.8"/><circle cx="1527.2" cy="951.1" r="1.8"/><circle cx="1593.3" cy="927.1" r="1.8"/><circle cx="1540.8" cy="928" r="1.8"/><circle cx="1575.5" cy="948.6" r="1.8"/><circle cx="1618" cy="946" r="1.8"/><circle cx="1530.9" cy="943" r="1.8"/><circle cx="1528.9" cy="948.7" r="1.8"/><circle cx="1524.2" cy="949" r="1.8"/><circle cx="1537.7" cy="949.1" r="1.8"/><circle cx="1650.6" cy="943.8" r="1.8"/><circle cx="1535.6" cy="941.4" r="1.8"/><circle cx="1520.9" cy="950.4" r="1.8"/><circle cx="1530.8" cy="919.7" r="1.8"/><circle cx="1584.9" cy="948.9" r="1.8"/><circle cx="1520.6" cy="941.4" r="1.8"/><circle cx="1552.8" cy="946.9" r="1.8"/><circle cx="1550.2" cy="950.2" r="1.8"/><circle cx="1517.2" cy="949" r="1.8"/><circle cx="1630.7" cy="950.1" r="1.8"/><circle cx="1524.5" cy="951.6" r="1.8"/><circle cx="1569.2" cy="937.9" r="1.8"/><circle cx="1631.5" cy="937.9" r="1.8"/><circle cx="1517.8" cy="946.5" r="1.8"/><circle cx="1576.5" cy="944.1" r="1.8"/><circle cx="1533.5" cy="925.2" r="1.8"/><circle cx="1546.6" cy="912.8" r="1.8"/><circle cx="1604.3" cy="951.4" r="1.8"/><circle cx="1530.9" cy="950" r="1.8"/><circle cx="1520" cy="936.8" r="1.8"/><circle cx="1547.1" cy="938.8" r="1.8"/><circle cx="1557.2" cy="949.1" r="1.8"/><circle cx="1517.8" cy="950.6" r="1.8"/><circle cx="1558.1" cy="944.3" r="1.8"/><circle cx="1519.1" cy="947.8" r="1.8"/><circle cx="1524.8" cy="941.6" r="1.8"/><circle cx="1516.3" cy="940.6" r="1.8"/><circle cx="1527.6" cy="949.6" r="1.8"/><circle cx="1524.3" cy="951.8" r="1.8"/><circle cx="1530.9" cy="944" r="1.8"/><circle cx="1519.3" cy="942.8" r="1.8"/><circle cx="1534.7" cy="712.9" r="1.8"/><circle cx="1541.2" cy="900.5" r="1.8"/><circle cx="1547.1" cy="909.7" r="1.8"/><circle cx="1551.7" cy="920.2" r="1.8"/><circle cx="1555" cy="925.1" r="1.8"/><circle cx="1524.9" cy="925.1" r="1.8"/><circle cx="1536.3" cy="930" r="1.8"/><circle cx="1572.4" cy="904.5" r="1.8"/><circle cx="1592" cy="925.1" r="1.8"/><circle cx="1595.3" cy="928.4" r="1.8"/><circle cx="1606.7" cy="934.9" r="1.8"/><circle cx="1619.8" cy="929.4" r="1.8"/><circle cx="1628" cy="933.3" r="1.8"/><circle cx="1636.9" cy="939.2" r="1.8"/><circle cx="1654.2" cy="939.2" r="1.8"/><circle cx="1647.7" cy="948" r="1.8"/></g>
</g>
<rect x="1340.9" y="695.2" width="324.1" height="309.1" fill="none" stroke="#000" stroke-width="2.2"/>
<line x1="1332.3" y1="991.6" x2="1340.9" y2="991.6" stroke="#000" stroke-width="2"/>
<text x="1327.8" y="1001.2" text-anchor="end" stroke="#1a1a1a" stroke-width="0.35">0</text>
<line x1="1332.3" y1="951" x2="1340.9" y2="951" stroke="#000" stroke-width="2"/>
<text x="1327.8" y="960.6" text-anchor="end" stroke="#1a1a1a" stroke-width="0.35">2</text>
<line x1="1332.3" y1="910.4" x2="1340.9" y2="910.4" stroke="#000" stroke-width="2"/>
<text x="1327.8" y="920" text-anchor="end" stroke="#1a1a1a" stroke-width="0.35">4</text>
<line x1="1332.3" y1="869.7" x2="1340.9" y2="869.7" stroke="#000" stroke-width="2"/>
<text x="1327.8" y="879.3" text-anchor="end" stroke="#1a1a1a" stroke-width="0.35">6</text>
<line x1="1332.3" y1="829.1" x2="1340.9" y2="829.1" stroke="#000" stroke-width="2"/>
<text x="1327.8" y="838.7" text-anchor="end" stroke="#1a1a1a" stroke-width="0.35">8</text>
<line x1="1332.3" y1="788.5" x2="1340.9" y2="788.5" stroke="#000" stroke-width="2"/>
<text x="1327.8" y="798.1" text-anchor="end" stroke="#1a1a1a" stroke-width="0.35">10</text>
<line x1="1332.3" y1="747.9" x2="1340.9" y2="747.9" stroke="#000" stroke-width="2"/>
<text x="1327.8" y="757.5" text-anchor="end" stroke="#1a1a1a" stroke-width="0.35">12</text>
<line x1="1332.3" y1="707.3" x2="1340.9" y2="707.3" stroke="#000" stroke-width="2"/>
<text x="1327.8" y="716.9" text-anchor="end" stroke="#1a1a1a" stroke-width="0.35">14</text>
<line x1="1364.9" y1="1004.3" x2="1364.9" y2="1013.5" stroke="#000" stroke-width="2"/>
<text x="1364.9" y="1039.7" text-anchor="middle" stroke="#1a1a1a" stroke-width="0.35">-6</text>
<line x1="1407.1" y1="1004.3" x2="1407.1" y2="1013.5" stroke="#000" stroke-width="2"/>
<text x="1407.1" y="1039.7" text-anchor="middle" stroke="#1a1a1a" stroke-width="0.35">-4</text>
<line x1="1449.3" y1="1004.3" x2="1449.3" y2="1013.5" stroke="#000" stroke-width="2"/>
<text x="1449.3" y="1039.7" text-anchor="middle" stroke="#1a1a1a" stroke-width="0.35">-2</text>
<line x1="1491.5" y1="1004.3" x2="1491.5" y2="1013.5" stroke="#000" stroke-width="2"/>
<text x="1491.5" y="1039.7" text-anchor="middle" stroke="#1a1a1a" stroke-width="0.35">0</text>
<line x1="1533.7" y1="1004.3" x2="1533.7" y2="1013.5" stroke="#000" stroke-width="2"/>
<text x="1533.7" y="1039.7" text-anchor="middle" stroke="#1a1a1a" stroke-width="0.35">2</text>
<line x1="1575.9" y1="1004.3" x2="1575.9" y2="1013.5" stroke="#000" stroke-width="2"/>
<text x="1575.9" y="1039.7" text-anchor="middle" stroke="#1a1a1a" stroke-width="0.35">4</text>
<line x1="1618.1" y1="1004.3" x2="1618.1" y2="1013.5" stroke="#000" stroke-width="2"/>
<text x="1618.1" y="1039.7" text-anchor="middle" stroke="#1a1a1a" stroke-width="0.35">6</text>
<line x1="1660.3" y1="1004.3" x2="1660.3" y2="1013.5" stroke="#000" stroke-width="2"/>
<text x="1660.3" y="1039.7" text-anchor="middle" stroke="#1a1a1a" stroke-width="0.35">8</text>
<text x="1337.6" y="686" fill="#3b8a44" stroke="#3b8a44" stroke-width="0.35">356 regions</text>
<text x="1543.9" y="686" fill="#d3312d" stroke="#d3312d" stroke-width="0.35">137 regions</text>
<text transform="translate(1285 860.4) rotate(-90)" text-anchor="middle" stroke="#1a1a1a" stroke-width="0.35">-log10(adj. p-value)</text>
<text x="1339.9" y="1090.5" font-size="22.6" stroke="#1a1a1a" stroke-width="0.35">log2FC <tspan font-weight="bold" fill="#2f9747" stroke="none">Chrom_c2</tspan> vs <tspan font-weight="bold" fill="#2f6db0" stroke="none">Chrom_c1</tspan></text>
<text x="1712" y="605.5" font-size="45" font-weight="bold" fill="#111">e</text>
<line x1="1783" y1="707.7" x2="1783" y2="1023.3" stroke="#1a1a1a" stroke-width="2"/>
<line x1="1770.8" y1="1022.3" x2="1783" y2="1022.3" stroke="#1a1a1a" stroke-width="2"/>
<text x="1763.7" y="1031.9" text-anchor="end" stroke="#1a1a1a" stroke-width="0.35">0</text>
<line x1="1770.8" y1="970" x2="1783" y2="970" stroke="#1a1a1a" stroke-width="2"/>
<text x="1763.7" y="979.6" text-anchor="end" stroke="#1a1a1a" stroke-width="0.35">1</text>
<line x1="1770.8" y1="917.8" x2="1783" y2="917.8" stroke="#1a1a1a" stroke-width="2"/>
<text x="1763.7" y="927.4" text-anchor="end" stroke="#1a1a1a" stroke-width="0.35">2</text>
<line x1="1770.8" y1="865.5" x2="1783" y2="865.5" stroke="#1a1a1a" stroke-width="2"/>
<text x="1763.7" y="875.1" text-anchor="end" stroke="#1a1a1a" stroke-width="0.35">3</text>
<line x1="1770.8" y1="813.2" x2="1783" y2="813.2" stroke="#1a1a1a" stroke-width="2"/>
<text x="1763.7" y="822.8" text-anchor="end" stroke="#1a1a1a" stroke-width="0.35">4</text>
<line x1="1770.8" y1="760.9" x2="1783" y2="760.9" stroke="#1a1a1a" stroke-width="2"/>
<text x="1763.7" y="770.5" text-anchor="end" stroke="#1a1a1a" stroke-width="0.35">5</text>
<line x1="1770.8" y1="708.7" x2="1783" y2="708.7" stroke="#1a1a1a" stroke-width="2"/>
<text x="1763.7" y="718.3" text-anchor="end" stroke="#1a1a1a" stroke-width="0.35">6</text>
<rect x="1811.2" y="671.2" width="33.4" height="355.7" fill="#bdbdba"/>
<rect x="1851.5" y="671.2" width="33.4" height="355.7" fill="#bdbdba"/>
<rect x="1891.2" y="713.3" width="33.4" height="313.6" fill="#bdbdba"/>
<rect x="1932" y="718.6" width="33.4" height="308.3" fill="#bdbdba"/>
<rect x="1972" y="883.6" width="33.4" height="143.3" fill="#bdbdba"/>
<rect x="2012.4" y="898.4" width="33.4" height="128.5" fill="#bdbdba"/>
<rect x="2052.8" y="910" width="33.4" height="116.9" fill="#bdbdba"/>
<rect x="2092.8" y="923.3" width="33.4" height="103.6" fill="#bdbdba"/>
<rect x="2133.6" y="926.1" width="33.4" height="100.8" fill="#bdbdba"/>
<rect x="2173.6" y="937.4" width="33.4" height="89.5" fill="#bdbdba"/>
<text transform="translate(1830.4 1018.8) rotate(-90)" font-size="18.9" fill="#1e1e1e" stroke="#1e1e1e" stroke-width="0.35">BENPORATH_ES_WITH_H3K27ME3</text>
<text transform="translate(1870.7 1018.8) rotate(-90)" font-size="18.9" fill="#1e1e1e" stroke="#1e1e1e" stroke-width="0.35">BENPORATH_EED_TARGETS</text>
<text transform="translate(1910.4 1018.8) rotate(-90)" font-size="18.9" fill="#1e1e1e" stroke="#1e1e1e" stroke-width="0.35">BENPORATH_PRC2_TARGETS</text>
<text transform="translate(1951.2 1018.8) rotate(-90)" font-size="18.9" fill="#1e1e1e" stroke="#1e1e1e" stroke-width="0.35">BENPORATH_SUZ12_TARGETS</text>
<text transform="translate(1991.2 1018.8) rotate(-90)" font-size="18.9" fill="#4a4a4a" stroke="#4a4a4a" stroke-width="0.35">LIM_MAMMARY_LUMINAL_MATURE_DN</text>
<text transform="translate(2031.6 1018.8) rotate(-90)" font-size="18.9" fill="#000" stroke="#000" stroke-width="0.35">ACEVEDO_LIVER_CANCER_WITH_H3K27ME3_DN</text>
<text transform="translate(2072 1018.8) rotate(-90)" font-size="18.9" fill="#4a4a4a" stroke="#4a4a4a" stroke-width="0.35">DOANE_BREAST_CANCER_ESR1_DN</text>
<text transform="translate(2112 1018.8) rotate(-90)" font-size="18.9" fill="#4a4a4a" stroke="#4a4a4a" stroke-width="0.35">SMID_BREAST_CANCER_LUMINAL_B_DN</text>
<text transform="translate(2152.8 1018.8) rotate(-90)" font-size="18.9" fill="#4a4a4a" stroke="#4a4a4a" stroke-width="0.35">SMID_BREAST_CANCER_BASAL_UP</text>
<text transform="translate(2192.8 1018.8) rotate(-90)" font-size="18.9" fill="#4a4a4a" stroke="#4a4a4a" stroke-width="0.35">TCGA_GLIOBLASTOMA_COPY_NUMBER_UP</text>
<text transform="translate(1734.5 860) rotate(-90)" text-anchor="middle" stroke="#1a1a1a" stroke-width="0.35">-log10(adj. p-value)</text>
<text x="1991" y="1069.8" font-size="22.8" text-anchor="middle" stroke="#1a1a1a" stroke-width="0.35">Top10 pathways for genes</text>
<text x="1990.3" y="1097.2" font-size="22.8" text-anchor="middle" stroke="#1a1a1a" stroke-width="0.35">with TSS within regions depleted of H3K27me3</text>
<text x="1992.5" y="1124.2" font-size="22.8" text-anchor="middle" stroke="#1a1a1a" stroke-width="0.35">(219 genes)</text>
<text x="24.5" y="1198.3" font-size="45" font-weight="bold" fill="#111">f</text>
<g stroke="#111" stroke-width="1.5" fill="none"><line x1="121.6" y1="1150.7" x2="245.7" y2="1150.7"/><line x1="121.6" y1="1150.7" x2="121.6" y2="1244.4"/><line x1="101.5" y1="1244.4" x2="142.8" y2="1244.4"/><line x1="245.7" y1="1150.7" x2="245.7" y2="1181.7"/><line x1="193.2" y1="1181.7" x2="298.9" y2="1181.7"/><line x1="193.2" y1="1181.7" x2="193.2" y2="1244.4"/><line x1="168.5" y1="1244.4" x2="218.5" y2="1244.4"/><line x1="298.9" y1="1181.7" x2="298.9" y2="1203.5"/><line x1="252" y1="1203.5" x2="344.7" y2="1203.5"/><line x1="252" y1="1203.5" x2="252" y2="1243.4"/><line x1="244.3" y1="1243.4" x2="260.1" y2="1243.4"/><line x1="344.7" y1="1203.5" x2="344.7" y2="1209.2"/><line x1="307.7" y1="1209.2" x2="381.7" y2="1209.2"/><line x1="307.7" y1="1209.2" x2="307.7" y2="1245.1"/><line x1="290.8" y1="1245.1" x2="324.3" y2="1245.1"/><line x1="381.7" y1="1209.2" x2="381.7" y2="1222.9"/><line x1="358.5" y1="1222.9" x2="404.7" y2="1222.9"/><line x1="358.5" y1="1222.9" x2="358.5" y2="1252.9"/><line x1="404.7" y1="1222.9" x2="404.7" y2="1230.3"/><line x1="388.8" y1="1230.3" x2="420.2" y2="1230.3"/><line x1="388.8" y1="1230.3" x2="388.8" y2="1254"/><line x1="420.2" y1="1230.3" x2="420.2" y2="1247.6"/><line x1="408.9" y1="1247.6" x2="430.7" y2="1247.6"/><line x1="101.5" y1="1244.4" x2="101.5" y2="1255.5"/><line x1="142.8" y1="1244.4" x2="142.8" y2="1251.5"/><line x1="129.5" y1="1251.5" x2="155.5" y2="1251.5"/><line x1="129.5" y1="1251.5" x2="129.5" y2="1255.5"/><line x1="155.5" y1="1251.5" x2="155.5" y2="1255.5"/><line x1="168.5" y1="1244.4" x2="168.5" y2="1255.5"/><line x1="218.5" y1="1244.4" x2="218.5" y2="1251.5"/><line x1="210.6" y1="1251.5" x2="226.6" y2="1251.5"/><line x1="210.6" y1="1251.5" x2="210.6" y2="1255.5"/><line x1="226.6" y1="1251.5" x2="226.6" y2="1255.5"/><line x1="244.3" y1="1243.4" x2="244.3" y2="1255.5"/><line x1="260.1" y1="1243.4" x2="260.1" y2="1250.9"/><line x1="256" y1="1250.9" x2="264.7" y2="1250.9"/><line x1="256" y1="1250.9" x2="256" y2="1255.5"/><line x1="264.7" y1="1250.9" x2="264.7" y2="1255.5"/><line x1="290.8" y1="1245.1" x2="290.8" y2="1252.2"/><line x1="285" y1="1252.2" x2="296.6" y2="1252.2"/><line x1="285" y1="1252.2" x2="285" y2="1255.5"/><line x1="296.6" y1="1252.2" x2="296.6" y2="1255.5"/><line x1="324.3" y1="1245.1" x2="324.3" y2="1250.9"/><line x1="316.2" y1="1250.9" x2="332.6" y2="1250.9"/><line x1="316.2" y1="1250.9" x2="316.2" y2="1255.5"/><line x1="332.6" y1="1250.9" x2="332.6" y2="1255.5"/><line x1="344.8" y1="1252.9" x2="378" y2="1252.9"/><line x1="344.8" y1="1252.9" x2="344.8" y2="1255.5"/><line x1="378" y1="1252.9" x2="378" y2="1255.5"/><line x1="408.9" y1="1247.6" x2="408.9" y2="1255.5"/><line x1="430.7" y1="1247.6" x2="430.7" y2="1251.2"/><line x1="425.1" y1="1251.2" x2="440.2" y2="1251.2"/><line x1="425.1" y1="1251.2" x2="425.1" y2="1255.5"/><line x1="440.2" y1="1251.2" x2="440.2" y2="1255.5"/></g>
<line x1="88.1" y1="1255.9" x2="444.8" y2="1255.9" stroke="#000" stroke-width="3"/>
<rect x="88.2" y="1261.3" width="70.2" height="13.1" fill="#eea84b"/>
<rect x="158.3" y="1261.3" width="76.1" height="13.1" fill="#33913f"/>
<rect x="234.4" y="1261.3" width="45.6" height="13.1" fill="#c62128"/>
<rect x="280" y="1261.3" width="60.2" height="13.1" fill="#9ec8df"/>
<rect x="340.2" y="1261.3" width="43.2" height="13.1" fill="#a3d36b"/>
<rect x="383.3" y="1261.3" width="12.9" height="13.1" fill="#e97a78"/>
<rect x="396.2" y="1261.3" width="49" height="13.1" fill="#2b65a3"/>
<g fill="#2d4a97"><rect x="88.2" y="1281.7" width="70.2" height="7.3" fill-opacity="0.00"/><rect x="158.3" y="1281.7" width="49.8" height="7.3" fill-opacity="0.13"/><rect x="158.3" y="1281.7" width="0.1" height="7.3" fill-opacity="0.54"/><rect x="161.6" y="1281.7" width="1.9" height="7.3" fill-opacity="0.24"/><rect x="167.1" y="1281.7" width="1.5" height="7.3" fill-opacity="0.27"/><rect x="172.4" y="1281.7" width="1.9" height="7.3" fill-opacity="0.51"/><rect x="178.5" y="1281.7" width="2.5" height="7.3" fill-opacity="0.49"/><rect x="186.4" y="1281.7" width="2" height="7.3" fill-opacity="0.18"/><rect x="193.4" y="1281.7" width="2.5" height="7.3" fill-opacity="0.51"/><rect x="199.7" y="1281.7" width="2.1" height="7.3" fill-opacity="0.20"/><rect x="206.6" y="1281.7" width="1.5" height="7.3" fill-opacity="0.24"/><rect x="158.3" y="1281.7" width="49.8" height="1.2" fill-opacity="0.14"/><rect x="158.3" y="1286.8" width="49.8" height="1.3" fill-opacity="0.47"/><rect x="208.1" y="1281.7" width="26.4" height="7.3" fill-opacity="0.44"/><rect x="208.1" y="1281.7" width="0.3" height="7.3" fill-opacity="0.44"/><rect x="210.2" y="1281.7" width="2.3" height="7.3" fill-opacity="1.00"/><rect x="214.4" y="1281.7" width="2.2" height="7.3" fill-opacity="0.54"/><rect x="218.7" y="1281.7" width="1.3" height="7.3" fill-opacity="0.83"/><rect x="225" y="1281.7" width="0.9" height="7.3" fill-opacity="0.71"/><rect x="227.6" y="1281.7" width="2.1" height="7.3" fill-opacity="0.48"/><rect x="208.1" y="1281.7" width="26.3" height="1.2" fill-opacity="0.26"/><rect x="208.1" y="1286.8" width="26.3" height="1.3" fill-opacity="0.87"/><rect x="234.4" y="1281.7" width="16.3" height="7.3" fill-opacity="0.04"/><rect x="234.7" y="1281.7" width="2.6" height="7.3" fill-opacity="0.19"/><rect x="242.8" y="1281.7" width="1.4" height="7.3" fill-opacity="0.08"/><rect x="248" y="1281.7" width="0.9" height="7.3" fill-opacity="0.11"/><rect x="234.4" y="1281.7" width="16.3" height="1.2" fill-opacity="0.08"/><rect x="234.4" y="1286.8" width="16.3" height="1.3" fill-opacity="0.27"/><rect x="250.7" y="1281.7" width="10.4" height="7.3" fill-opacity="0.02"/><rect x="252" y="1281.7" width="1.9" height="7.3" fill-opacity="0.08"/><rect x="255.6" y="1281.7" width="2.4" height="7.3" fill-opacity="0.11"/><rect x="250.7" y="1281.7" width="10.3" height="1.2" fill-opacity="0.06"/><rect x="250.7" y="1286.8" width="10.3" height="1.3" fill-opacity="0.20"/><rect x="261" y="1281.7" width="19.1" height="7.3" fill-opacity="0.02"/><rect x="263.3" y="1281.7" width="2.4" height="7.3" fill-opacity="0.12"/><rect x="269" y="1281.7" width="1.7" height="7.3" fill-opacity="0.17"/><rect x="274.7" y="1281.7" width="1.8" height="7.3" fill-opacity="0.16"/><rect x="261" y="1281.7" width="19" height="1.2" fill-opacity="0.06"/><rect x="261" y="1286.8" width="19" height="1.3" fill-opacity="0.20"/><rect x="280" y="1281.7" width="11.1" height="7.3" fill-opacity="0.32"/><rect x="281.7" y="1281.7" width="1.7" height="7.3" fill-opacity="0.47"/><rect x="287.8" y="1281.7" width="1.2" height="7.3" fill-opacity="0.38"/><rect x="280" y="1281.7" width="11" height="1.2" fill-opacity="0.22"/><rect x="280" y="1286.8" width="11" height="1.3" fill-opacity="0.73"/><rect x="291" y="1281.7" width="19.1" height="7.3" fill-opacity="0.32"/><rect x="294.5" y="1281.7" width="1.7" height="7.3" fill-opacity="0.55"/><rect x="297.7" y="1281.7" width="1.5" height="7.3" fill-opacity="0.58"/><rect x="300.9" y="1281.7" width="1.9" height="7.3" fill-opacity="0.61"/><rect x="304.5" y="1281.7" width="1.9" height="7.3" fill-opacity="0.50"/><rect x="291" y="1281.7" width="19" height="1.2" fill-opacity="0.22"/><rect x="291" y="1286.8" width="19" height="1.3" fill-opacity="0.73"/><rect x="310" y="1281.7" width="19.6" height="7.3" fill-opacity="0.32"/><rect x="310.7" y="1281.7" width="1.4" height="7.3" fill-opacity="0.66"/><rect x="316.6" y="1281.7" width="0.8" height="7.3" fill-opacity="0.22"/><rect x="321.6" y="1281.7" width="2.5" height="7.3" fill-opacity="0.35"/><rect x="327.5" y="1281.7" width="1.9" height="7.3" fill-opacity="0.40"/><rect x="310" y="1281.7" width="19.5" height="1.2" fill-opacity="0.22"/><rect x="310" y="1286.8" width="19.5" height="1.3" fill-opacity="0.73"/><rect x="329.5" y="1281.7" width="10.7" height="7.3" fill-opacity="0.32"/><rect x="332.3" y="1281.7" width="1.4" height="7.3" fill-opacity="0.43"/><rect x="337.5" y="1281.7" width="1.3" height="7.3" fill-opacity="0.43"/><rect x="329.5" y="1281.7" width="10.7" height="1.2" fill-opacity="0.22"/><rect x="329.5" y="1286.8" width="10.7" height="1.3" fill-opacity="0.73"/><rect x="340.2" y="1281.7" width="7.9" height="7.3" fill-opacity="0.38"/><rect x="343.5" y="1281.7" width="0.8" height="7.3" fill-opacity="0.62"/><rect x="340.2" y="1281.7" width="7.8" height="1.2" fill-opacity="0.24"/><rect x="340.2" y="1286.8" width="7.8" height="1.3" fill-opacity="0.80"/><rect x="348" y="1281.7" width="35.4" height="7.3" fill-opacity="0.26"/><rect x="348.7" y="1281.7" width="1.4" height="7.3" fill-opacity="0.30"/><rect x="354.8" y="1281.7" width="1.2" height="7.3" fill-opacity="0.28"/><rect x="359.3" y="1281.7" width="2.1" height="7.3" fill-opacity="0.22"/><rect x="364.1" y="1281.7" width="1.4" height="7.3" fill-opacity="0.68"/><rect x="368.8" y="1281.7" width="2.3" height="7.3" fill-opacity="0.26"/><rect x="374" y="1281.7" width="2" height="7.3" fill-opacity="0.71"/><rect x="379.2" y="1281.7" width="1.2" height="7.3" fill-opacity="0.23"/><rect x="348" y="1281.7" width="35.3" height="1.2" fill-opacity="0.20"/><rect x="348" y="1286.8" width="35.3" height="1.3" fill-opacity="0.67"/><rect x="396.2" y="1281.7" width="16.9" height="7.3" fill-opacity="0.67"/><rect x="396.2" y="1281.7" width="1.7" height="7.3" fill-opacity="1.00"/><rect x="400.8" y="1281.7" width="1" height="7.3" fill-opacity="0.55"/><rect x="406.5" y="1281.7" width="1.3" height="7.3" fill-opacity="0.60"/><rect x="410.9" y="1281.7" width="1.6" height="7.3" fill-opacity="0.66"/><rect x="396.2" y="1281.7" width="16.8" height="1.2" fill-opacity="0.32"/><rect x="396.2" y="1286.8" width="16.8" height="1.3" fill-opacity="1.00"/><rect x="413" y="1281.7" width="32.2" height="7.3" fill-opacity="0.67"/><rect x="417.7" y="1281.7" width="1.1" height="7.3" fill-opacity="0.26"/><rect x="424" y="1281.7" width="2.4" height="7.3" fill-opacity="1.00"/><rect x="429.6" y="1281.7" width="2.5" height="7.3" fill-opacity="1.00"/><rect x="434.5" y="1281.7" width="2.1" height="7.3" fill-opacity="1.00"/><rect x="440.8" y="1281.7" width="1.7" height="7.3" fill-opacity="0.54"/><rect x="413" y="1281.7" width="32.1" height="1.2" fill-opacity="0.32"/><rect x="413" y="1286.8" width="32.1" height="1.3" fill-opacity="1.00"/><rect x="88.2" y="1289" width="70.2" height="8.1" fill-opacity="0.00"/><rect x="158.3" y="1289" width="49.8" height="8.1" fill-opacity="0.09"/><rect x="158.3" y="1289" width="0.1" height="8" fill-opacity="0.46"/><rect x="161.6" y="1289" width="1.9" height="8" fill-opacity="0.21"/><rect x="167.1" y="1289" width="1.5" height="8" fill-opacity="0.23"/><rect x="172.4" y="1289" width="1.9" height="8" fill-opacity="0.44"/><rect x="178.5" y="1289" width="2.5" height="8" fill-opacity="0.42"/><rect x="186.4" y="1289" width="2" height="8" fill-opacity="0.16"/><rect x="193.4" y="1289" width="2.5" height="8" fill-opacity="0.44"/><rect x="199.7" y="1289" width="2.1" height="8" fill-opacity="0.17"/><rect x="206.6" y="1289" width="1.5" height="8" fill-opacity="0.20"/><rect x="158.3" y="1289.8" width="49.8" height="2.4" fill-opacity="0.36"/><rect x="208.1" y="1289" width="26.4" height="8.1" fill-opacity="0.38"/><rect x="208.1" y="1289" width="0.3" height="8" fill-opacity="0.40"/><rect x="210.2" y="1289" width="2.3" height="8" fill-opacity="0.94"/><rect x="214.4" y="1289" width="2.2" height="8" fill-opacity="0.50"/><rect x="218.7" y="1289" width="1.3" height="8" fill-opacity="0.77"/><rect x="225" y="1289" width="0.9" height="8" fill-opacity="0.65"/><rect x="227.6" y="1289" width="2.1" height="8" fill-opacity="0.44"/><rect x="208.1" y="1289.8" width="26.3" height="2.4" fill-opacity="0.71"/><rect x="234.4" y="1289" width="16.3" height="8.1" fill-opacity="0.04"/><rect x="234.7" y="1289" width="2.6" height="8" fill-opacity="0.19"/><rect x="242.8" y="1289" width="1.4" height="8" fill-opacity="0.08"/><rect x="248" y="1289" width="0.9" height="8" fill-opacity="0.11"/><rect x="234.4" y="1289.8" width="16.3" height="2.4" fill-opacity="0.24"/><rect x="250.7" y="1289" width="10.4" height="8.1" fill-opacity="0.02"/><rect x="252" y="1289" width="1.9" height="8" fill-opacity="0.08"/><rect x="255.6" y="1289" width="2.4" height="8" fill-opacity="0.11"/><rect x="250.7" y="1289.8" width="10.3" height="2.4" fill-opacity="0.18"/><rect x="261" y="1289" width="19.1" height="8.1" fill-opacity="0.02"/><rect x="263.3" y="1289" width="2.4" height="8" fill-opacity="0.12"/><rect x="269" y="1289" width="1.7" height="8" fill-opacity="0.17"/><rect x="274.7" y="1289" width="1.8" height="8" fill-opacity="0.16"/><rect x="261" y="1289.8" width="19" height="2.4" fill-opacity="0.18"/><rect x="280" y="1289" width="11.1" height="8.1" fill-opacity="0.13"/><rect x="281.7" y="1289" width="1.7" height="8" fill-opacity="0.30"/><rect x="287.8" y="1289" width="1.2" height="8" fill-opacity="0.24"/><rect x="280" y="1289.8" width="11" height="2.4" fill-opacity="0.42"/><rect x="291" y="1289" width="19.1" height="8.1" fill-opacity="0.13"/><rect x="294.5" y="1289" width="1.7" height="8" fill-opacity="0.35"/><rect x="297.7" y="1289" width="1.5" height="8" fill-opacity="0.37"/><rect x="300.9" y="1289" width="1.9" height="8" fill-opacity="0.39"/><rect x="304.5" y="1289" width="1.9" height="8" fill-opacity="0.32"/><rect x="291" y="1289.8" width="19" height="2.4" fill-opacity="0.42"/><rect x="310" y="1289" width="19.6" height="8.1" fill-opacity="0.13"/><rect x="310.7" y="1289" width="1.4" height="8" fill-opacity="0.42"/><rect x="316.6" y="1289" width="0.8" height="8" fill-opacity="0.14"/><rect x="321.6" y="1289" width="2.5" height="8" fill-opacity="0.22"/><rect x="327.5" y="1289" width="1.9" height="8" fill-opacity="0.25"/><rect x="310" y="1289.8" width="19.5" height="2.4" fill-opacity="0.42"/><rect x="329.5" y="1289" width="10.7" height="8.1" fill-opacity="0.21"/><rect x="332.3" y="1289" width="1.4" height="8" fill-opacity="0.35"/><rect x="337.5" y="1289" width="1.3" height="8" fill-opacity="0.36"/><rect x="329.5" y="1289.8" width="10.7" height="2.4" fill-opacity="0.54"/><rect x="340.2" y="1289" width="7.9" height="8.1" fill-opacity="0.26"/><rect x="343.5" y="1289" width="0.8" height="8" fill-opacity="0.52"/><rect x="340.2" y="1289.8" width="7.8" height="2.4" fill-opacity="0.59"/><rect x="348" y="1289" width="35.4" height="8.1" fill-opacity="0.13"/><rect x="348.7" y="1289" width="1.4" height="8" fill-opacity="0.21"/><rect x="354.8" y="1289" width="1.2" height="8" fill-opacity="0.19"/><rect x="359.3" y="1289" width="2.1" height="8" fill-opacity="0.16"/><rect x="364.1" y="1289" width="1.4" height="8" fill-opacity="0.48"/><rect x="368.8" y="1289" width="2.3" height="8" fill-opacity="0.18"/><rect x="374" y="1289" width="2" height="8" fill-opacity="0.50"/><rect x="379.2" y="1289" width="1.2" height="8" fill-opacity="0.16"/><rect x="348" y="1289.8" width="35.3" height="2.4" fill-opacity="0.42"/><rect x="396.2" y="1289" width="16.9" height="8.1" fill-opacity="0.59"/><rect x="396.2" y="1289" width="1.7" height="8" fill-opacity="1.00"/><rect x="400.8" y="1289" width="1" height="8" fill-opacity="0.51"/><rect x="406.5" y="1289" width="1.3" height="8" fill-opacity="0.56"/><rect x="410.9" y="1289" width="1.6" height="8" fill-opacity="0.62"/><rect x="396.2" y="1289.8" width="16.8" height="2.4" fill-opacity="0.89"/><rect x="413" y="1289" width="32.2" height="8.1" fill-opacity="0.67"/><rect x="417.7" y="1289" width="1.1" height="8" fill-opacity="0.26"/><rect x="424" y="1289" width="2.4" height="8" fill-opacity="1.00"/><rect x="429.6" y="1289" width="2.5" height="8" fill-opacity="1.00"/><rect x="434.5" y="1289" width="2.1" height="8" fill-opacity="1.00"/><rect x="440.8" y="1289" width="1.7" height="8" fill-opacity="0.54"/><rect x="413" y="1289.8" width="32.1" height="2.4" fill-opacity="0.95"/><rect x="88.2" y="1297" width="70.2" height="8.1" fill-opacity="0.00"/><rect x="158.3" y="1297" width="49.8" height="8.1" fill-opacity="0.17"/><rect x="158.3" y="1297" width="0.1" height="8" fill-opacity="0.61"/><rect x="161.6" y="1297" width="1.9" height="8" fill-opacity="0.28"/><rect x="167.1" y="1297" width="1.5" height="8" fill-opacity="0.30"/><rect x="172.4" y="1297" width="1.9" height="8" fill-opacity="0.58"/><rect x="178.5" y="1297" width="2.5" height="8" fill-opacity="0.56"/><rect x="186.4" y="1297" width="2" height="8" fill-opacity="0.21"/><rect x="193.4" y="1297" width="2.5" height="8" fill-opacity="0.58"/><rect x="199.7" y="1297" width="2.1" height="8" fill-opacity="0.23"/><rect x="206.6" y="1297" width="1.5" height="8" fill-opacity="0.27"/><rect x="158.3" y="1297.4" width="49.8" height="2.4" fill-opacity="0.58"/><rect x="158.3" y="1303.6" width="49.8" height="0.8" fill-opacity="0.50"/><rect x="208.1" y="1297" width="26.4" height="8.1" fill-opacity="0.51"/><rect x="208.1" y="1297" width="0.3" height="8" fill-opacity="0.47"/><rect x="210.2" y="1297" width="2.3" height="8" fill-opacity="1.00"/><rect x="214.4" y="1297" width="2.2" height="8" fill-opacity="0.58"/><rect x="218.7" y="1297" width="1.3" height="8" fill-opacity="0.90"/><rect x="225" y="1297" width="0.9" height="8" fill-opacity="0.76"/><rect x="227.6" y="1297" width="2.1" height="8" fill-opacity="0.51"/><rect x="208.1" y="1297.4" width="26.3" height="2.4" fill-opacity="1.00"/><rect x="208.1" y="1303.6" width="26.3" height="0.8" fill-opacity="0.88"/><rect x="234.4" y="1297" width="16.3" height="8.1" fill-opacity="0.04"/><rect x="234.7" y="1297" width="2.6" height="8" fill-opacity="0.19"/><rect x="242.8" y="1297" width="1.4" height="8" fill-opacity="0.08"/><rect x="248" y="1297" width="0.9" height="8" fill-opacity="0.11"/><rect x="234.4" y="1297.4" width="16.3" height="2.4" fill-opacity="0.29"/><rect x="234.4" y="1303.6" width="16.3" height="0.8" fill-opacity="0.25"/><rect x="250.7" y="1297" width="10.4" height="8.1" fill-opacity="0.04"/><rect x="252" y="1297" width="1.9" height="8" fill-opacity="0.10"/><rect x="255.6" y="1297" width="2.4" height="8" fill-opacity="0.14"/><rect x="250.7" y="1297.4" width="10.3" height="2.4" fill-opacity="0.29"/><rect x="250.7" y="1303.6" width="10.3" height="0.8" fill-opacity="0.25"/><rect x="261" y="1297" width="19.1" height="8.1" fill-opacity="0.04"/><rect x="263.3" y="1297" width="2.4" height="8" fill-opacity="0.16"/><rect x="269" y="1297" width="1.7" height="8" fill-opacity="0.23"/><rect x="274.7" y="1297" width="1.8" height="8" fill-opacity="0.22"/><rect x="261" y="1297.4" width="19" height="2.4" fill-opacity="0.29"/><rect x="261" y="1303.6" width="19" height="0.8" fill-opacity="0.25"/><rect x="280" y="1297" width="11.1" height="8.1" fill-opacity="0.21"/><rect x="281.7" y="1297" width="1.7" height="8" fill-opacity="0.39"/><rect x="287.8" y="1297" width="1.2" height="8" fill-opacity="0.31"/><rect x="280" y="1297.4" width="11" height="2.4" fill-opacity="0.65"/><rect x="280" y="1303.6" width="11" height="0.8" fill-opacity="0.56"/><rect x="291" y="1297" width="19.1" height="8.1" fill-opacity="0.21"/><rect x="294.5" y="1297" width="1.7" height="8" fill-opacity="0.45"/><rect x="297.7" y="1297" width="1.5" height="8" fill-opacity="0.47"/><rect x="300.9" y="1297" width="1.9" height="8" fill-opacity="0.50"/><rect x="304.5" y="1297" width="1.9" height="8" fill-opacity="0.41"/><rect x="291" y="1297.4" width="19" height="2.4" fill-opacity="0.65"/><rect x="291" y="1303.6" width="19" height="0.8" fill-opacity="0.56"/><rect x="310" y="1297" width="19.6" height="8.1" fill-opacity="0.21"/><rect x="310.7" y="1297" width="1.4" height="8" fill-opacity="0.54"/><rect x="316.6" y="1297" width="0.8" height="8" fill-opacity="0.18"/><rect x="321.6" y="1297" width="2.5" height="8" fill-opacity="0.28"/><rect x="327.5" y="1297" width="1.9" height="8" fill-opacity="0.32"/><rect x="310" y="1297.4" width="19.5" height="2.4" fill-opacity="0.65"/><rect x="310" y="1303.6" width="19.5" height="0.8" fill-opacity="0.56"/><rect x="329.5" y="1297" width="10.7" height="8.1" fill-opacity="0.59"/><rect x="332.3" y="1297" width="1.4" height="8" fill-opacity="0.59"/><rect x="337.5" y="1297" width="1.3" height="8" fill-opacity="0.59"/><rect x="329.5" y="1297.4" width="10.7" height="2.4" fill-opacity="1.00"/><rect x="329.5" y="1303.6" width="10.7" height="0.8" fill-opacity="0.94"/><rect x="340.2" y="1297" width="7.9" height="8.1" fill-opacity="0.67"/><rect x="343.5" y="1297" width="0.8" height="8" fill-opacity="0.83"/><rect x="340.2" y="1297.4" width="7.8" height="2.4" fill-opacity="1.00"/><rect x="340.2" y="1303.6" width="7.8" height="0.8" fill-opacity="1.00"/><rect x="348" y="1297" width="35.4" height="8.1" fill-opacity="0.64"/><rect x="348.7" y="1297" width="1.4" height="8" fill-opacity="0.46"/><rect x="354.8" y="1297" width="1.2" height="8" fill-opacity="0.43"/><rect x="359.3" y="1297" width="2.1" height="8" fill-opacity="0.35"/><rect x="364.1" y="1297" width="1.4" height="8" fill-opacity="1.00"/><rect x="368.8" y="1297" width="2.3" height="8" fill-opacity="0.41"/><rect x="374" y="1297" width="2" height="8" fill-opacity="1.00"/><rect x="379.2" y="1297" width="1.2" height="8" fill-opacity="0.36"/><rect x="348" y="1297.4" width="35.3" height="2.4" fill-opacity="1.00"/><rect x="348" y="1303.6" width="35.3" height="0.8" fill-opacity="0.98"/><rect x="396.2" y="1297" width="16.9" height="8.1" fill-opacity="0.67"/><rect x="396.2" y="1297" width="1.7" height="8" fill-opacity="1.00"/><rect x="400.8" y="1297" width="1" height="8" fill-opacity="0.55"/><rect x="406.5" y="1297" width="1.3" height="8" fill-opacity="0.60"/><rect x="410.9" y="1297" width="1.6" height="8" fill-opacity="0.66"/><rect x="396.2" y="1297.4" width="16.8" height="2.4" fill-opacity="1.00"/><rect x="396.2" y="1303.6" width="16.8" height="0.8" fill-opacity="1.00"/><rect x="413" y="1297" width="32.2" height="8.1" fill-opacity="0.59"/><rect x="417.7" y="1297" width="1.1" height="8" fill-opacity="0.24"/><rect x="424" y="1297" width="2.4" height="8" fill-opacity="1.00"/><rect x="429.6" y="1297" width="2.5" height="8" fill-opacity="1.00"/><rect x="434.5" y="1297" width="2.1" height="8" fill-opacity="1.00"/><rect x="440.8" y="1297" width="1.7" height="8" fill-opacity="0.51"/><rect x="413" y="1297.4" width="32.1" height="2.4" fill-opacity="1.00"/><rect x="413" y="1303.6" width="32.1" height="0.8" fill-opacity="0.94"/><rect x="88.2" y="1305" width="70.2" height="25.6" fill-opacity="0.00"/><rect x="158.3" y="1305" width="49.8" height="25.6" fill-opacity="0.01"/><rect x="158.3" y="1305" width="0.1" height="25.6" fill-opacity="0.12"/><rect x="161.6" y="1305" width="1.9" height="25.6" fill-opacity="0.06"/><rect x="167.1" y="1305" width="1.5" height="25.6" fill-opacity="0.06"/><rect x="172.4" y="1305" width="1.9" height="25.6" fill-opacity="0.12"/><rect x="178.5" y="1305" width="2.5" height="25.6" fill-opacity="0.11"/><rect x="186.4" y="1305" width="2" height="25.6" fill-opacity="0.04"/><rect x="193.4" y="1305" width="2.5" height="25.6" fill-opacity="0.12"/><rect x="199.7" y="1305" width="2.1" height="25.6" fill-opacity="0.05"/><rect x="206.6" y="1305" width="1.5" height="25.6" fill-opacity="0.05"/><rect x="158.3" y="1306.6" width="49.8" height="1.3" fill-opacity="0.09"/><rect x="158.3" y="1311.6" width="49.8" height="1.5" fill-opacity="0.12"/><rect x="158.3" y="1317" width="49.8" height="1.4" fill-opacity="0.05"/><rect x="158.3" y="1323.4" width="49.8" height="1.7" fill-opacity="0.10"/><rect x="158.3" y="1328" width="49.8" height="1.2" fill-opacity="0.08"/><rect x="208.1" y="1305" width="26.4" height="25.6" fill-opacity="0.21"/><rect x="208.1" y="1305" width="0.3" height="25.6" fill-opacity="0.30"/><rect x="210.2" y="1305" width="2.3" height="25.6" fill-opacity="0.70"/><rect x="214.4" y="1305" width="2.2" height="25.6" fill-opacity="0.37"/><rect x="218.7" y="1305" width="1.3" height="25.6" fill-opacity="0.58"/><rect x="225" y="1305" width="0.9" height="25.6" fill-opacity="0.49"/><rect x="227.6" y="1305" width="2.1" height="25.6" fill-opacity="0.33"/><rect x="208.1" y="1306.6" width="26.3" height="1.3" fill-opacity="0.52"/><rect x="208.1" y="1311.6" width="26.3" height="1.5" fill-opacity="0.67"/><rect x="208.1" y="1317" width="26.3" height="1.4" fill-opacity="0.28"/><rect x="208.1" y="1323.4" width="26.3" height="1.7" fill-opacity="0.59"/><rect x="208.1" y="1328" width="26.3" height="1.2" fill-opacity="0.44"/><rect x="234.4" y="1305" width="16.3" height="25.6" fill-opacity="0.38"/><rect x="234.7" y="1305" width="2.6" height="25.6" fill-opacity="0.57"/><rect x="242.8" y="1305" width="1.4" height="25.6" fill-opacity="0.25"/><rect x="248" y="1305" width="0.9" height="25.6" fill-opacity="0.34"/><rect x="234.4" y="1306.6" width="16.3" height="1.3" fill-opacity="0.69"/><rect x="234.4" y="1311.6" width="16.3" height="1.5" fill-opacity="0.90"/><rect x="234.4" y="1317" width="16.3" height="1.4" fill-opacity="0.38"/><rect x="234.4" y="1323.4" width="16.3" height="1.7" fill-opacity="0.78"/><rect x="234.4" y="1328" width="16.3" height="1.2" fill-opacity="0.59"/><rect x="250.7" y="1305" width="10.4" height="25.6" fill-opacity="0.13"/><rect x="252" y="1305" width="1.9" height="25.6" fill-opacity="0.18"/><rect x="255.6" y="1305" width="2.4" height="25.6" fill-opacity="0.25"/><rect x="250.7" y="1306.6" width="10.3" height="1.3" fill-opacity="0.40"/><rect x="250.7" y="1311.6" width="10.3" height="1.5" fill-opacity="0.52"/><rect x="250.7" y="1317" width="10.3" height="1.4" fill-opacity="0.22"/><rect x="250.7" y="1323.4" width="10.3" height="1.7" fill-opacity="0.46"/><rect x="250.7" y="1328" width="10.3" height="1.2" fill-opacity="0.35"/><rect x="261" y="1305" width="19.1" height="25.6" fill-opacity="0.13"/><rect x="263.3" y="1305" width="2.4" height="25.6" fill-opacity="0.28"/><rect x="269" y="1305" width="1.7" height="25.6" fill-opacity="0.39"/><rect x="274.7" y="1305" width="1.8" height="25.6" fill-opacity="0.38"/><rect x="261" y="1306.6" width="19" height="1.3" fill-opacity="0.40"/><rect x="261" y="1311.6" width="19" height="1.5" fill-opacity="0.52"/><rect x="261" y="1317" width="19" height="1.4" fill-opacity="0.22"/><rect x="261" y="1323.4" width="19" height="1.7" fill-opacity="0.46"/><rect x="261" y="1328" width="19" height="1.2" fill-opacity="0.35"/><rect x="280" y="1305" width="11.1" height="25.6" fill-opacity="0.08"/><rect x="281.7" y="1305" width="1.7" height="25.6" fill-opacity="0.24"/><rect x="287.8" y="1305" width="1.2" height="25.6" fill-opacity="0.19"/><rect x="280" y="1306.6" width="11" height="1.3" fill-opacity="0.32"/><rect x="280" y="1311.6" width="11" height="1.5" fill-opacity="0.42"/><rect x="280" y="1317" width="11" height="1.4" fill-opacity="0.18"/><rect x="280" y="1323.4" width="11" height="1.7" fill-opacity="0.36"/><rect x="280" y="1328" width="11" height="1.2" fill-opacity="0.28"/><rect x="291" y="1305" width="19.1" height="25.6" fill-opacity="0.08"/><rect x="294.5" y="1305" width="1.7" height="25.6" fill-opacity="0.28"/><rect x="297.7" y="1305" width="1.5" height="25.6" fill-opacity="0.29"/><rect x="300.9" y="1305" width="1.9" height="25.6" fill-opacity="0.31"/><rect x="304.5" y="1305" width="1.9" height="25.6" fill-opacity="0.25"/><rect x="291" y="1306.6" width="19" height="1.3" fill-opacity="0.32"/><rect x="291" y="1311.6" width="19" height="1.5" fill-opacity="0.42"/><rect x="291" y="1317" width="19" height="1.4" fill-opacity="0.18"/><rect x="291" y="1323.4" width="19" height="1.7" fill-opacity="0.36"/><rect x="291" y="1328" width="19" height="1.2" fill-opacity="0.28"/><rect x="310" y="1305" width="19.6" height="25.6" fill-opacity="0.08"/><rect x="310.7" y="1305" width="1.4" height="25.6" fill-opacity="0.34"/><rect x="316.6" y="1305" width="0.8" height="25.6" fill-opacity="0.11"/><rect x="321.6" y="1305" width="2.5" height="25.6" fill-opacity="0.18"/><rect x="327.5" y="1305" width="1.9" height="25.6" fill-opacity="0.20"/><rect x="310" y="1306.6" width="19.5" height="1.3" fill-opacity="0.32"/><rect x="310" y="1311.6" width="19.5" height="1.5" fill-opacity="0.42"/><rect x="310" y="1317" width="19.5" height="1.4" fill-opacity="0.18"/><rect x="310" y="1323.4" width="19.5" height="1.7" fill-opacity="0.36"/><rect x="310" y="1328" width="19.5" height="1.2" fill-opacity="0.28"/><rect x="329.5" y="1305" width="10.7" height="25.6" fill-opacity="0.21"/><rect x="332.3" y="1305" width="1.4" height="25.6" fill-opacity="0.35"/><rect x="337.5" y="1305" width="1.3" height="25.6" fill-opacity="0.36"/><rect x="329.5" y="1306.6" width="10.7" height="1.3" fill-opacity="0.52"/><rect x="329.5" y="1311.6" width="10.7" height="1.5" fill-opacity="0.67"/><rect x="329.5" y="1317" width="10.7" height="1.4" fill-opacity="0.28"/><rect x="329.5" y="1323.4" width="10.7" height="1.7" fill-opacity="0.59"/><rect x="329.5" y="1328" width="10.7" height="1.2" fill-opacity="0.44"/><rect x="340.2" y="1305" width="7.9" height="25.6" fill-opacity="0.67"/><rect x="343.5" y="1305" width="0.8" height="25.6" fill-opacity="0.83"/><rect x="340.2" y="1306.6" width="7.8" height="1.3" fill-opacity="0.92"/><rect x="340.2" y="1311.6" width="7.8" height="1.5" fill-opacity="1.00"/><rect x="340.2" y="1317" width="7.8" height="1.4" fill-opacity="0.51"/><rect x="340.2" y="1323.4" width="7.8" height="1.7" fill-opacity="1.00"/><rect x="340.2" y="1328" width="7.8" height="1.2" fill-opacity="0.79"/><rect x="348" y="1305" width="35.4" height="25.6" fill-opacity="0.21"/><rect x="348.7" y="1305" width="1.4" height="25.6" fill-opacity="0.27"/><rect x="354.8" y="1305" width="1.2" height="25.6" fill-opacity="0.25"/><rect x="359.3" y="1305" width="2.1" height="25.6" fill-opacity="0.20"/><rect x="364.1" y="1305" width="1.4" height="25.6" fill-opacity="0.61"/><rect x="368.8" y="1305" width="2.3" height="25.6" fill-opacity="0.24"/><rect x="374" y="1305" width="2" height="25.6" fill-opacity="0.64"/><rect x="379.2" y="1305" width="1.2" height="25.6" fill-opacity="0.21"/><rect x="348" y="1306.6" width="35.3" height="1.3" fill-opacity="0.52"/><rect x="348" y="1311.6" width="35.3" height="1.5" fill-opacity="0.67"/><rect x="348" y="1317" width="35.3" height="1.4" fill-opacity="0.28"/><rect x="348" y="1323.4" width="35.3" height="1.7" fill-opacity="0.59"/><rect x="348" y="1328" width="35.3" height="1.2" fill-opacity="0.44"/><rect x="396.2" y="1305" width="16.9" height="25.6"/><rect x="413" y="1305" width="32.2" height="25.6" fill-opacity="0.59"/><rect x="417.7" y="1305" width="1.1" height="25.6" fill-opacity="0.24"/><rect x="424" y="1305" width="2.4" height="25.6" fill-opacity="1.00"/><rect x="429.6" y="1305" width="2.5" height="25.6" fill-opacity="1.00"/><rect x="434.5" y="1305" width="2.1" height="25.6" fill-opacity="1.00"/><rect x="440.8" y="1305" width="1.7" height="25.6" fill-opacity="0.51"/><rect x="413" y="1306.6" width="32.1" height="1.3" fill-opacity="0.86"/><rect x="413" y="1311.6" width="32.1" height="1.5" fill-opacity="1.00"/><rect x="413" y="1317" width="32.1" height="1.4" fill-opacity="0.47"/><rect x="413" y="1323.4" width="32.1" height="1.7" fill-opacity="0.98"/><rect x="413" y="1328" width="32.1" height="1.2" fill-opacity="0.74"/><rect x="88.2" y="1330.6" width="70.2" height="14.2" fill-opacity="0.02"/><rect x="88.2" y="1330.6" width="1.2" height="14.1" fill-opacity="0.15"/><rect x="92.4" y="1330.6" width="1.9" height="14.1" fill-opacity="0.17"/><rect x="96.1" y="1330.6" width="0.8" height="14.1" fill-opacity="0.21"/><rect x="99.4" y="1330.6" width="1.2" height="14.1" fill-opacity="0.24"/><rect x="104" y="1330.6" width="2.3" height="14.1" fill-opacity="0.14"/><rect x="110.4" y="1330.6" width="1.1" height="14.1" fill-opacity="0.17"/><rect x="116.4" y="1330.6" width="1.7" height="14.1" fill-opacity="0.19"/><rect x="122.4" y="1330.6" width="0.9" height="14.1" fill-opacity="0.19"/><rect x="127.1" y="1330.6" width="1.3" height="14.1" fill-opacity="0.05"/><rect x="133.4" y="1330.6" width="1.7" height="14.1" fill-opacity="0.18"/><rect x="140.1" y="1330.6" width="2.1" height="14.1" fill-opacity="0.22"/><rect x="145.3" y="1330.6" width="2.2" height="14.1" fill-opacity="0.13"/><rect x="152.8" y="1330.6" width="2.4" height="14.1" fill-opacity="0.07"/><rect x="157.2" y="1330.6" width="1.1" height="14.1" fill-opacity="0.23"/><rect x="88.2" y="1333.9" width="70.1" height="1.1" fill-opacity="0.20"/><rect x="88.2" y="1340.2" width="70.1" height="2.3" fill-opacity="0.20"/><rect x="88.2" y="1344" width="70.1" height="0.7" fill-opacity="0.21"/><rect x="158.3" y="1330.6" width="49.8" height="14.2" fill-opacity="0.17"/><rect x="158.3" y="1330.6" width="0.1" height="14.1" fill-opacity="0.61"/><rect x="161.6" y="1330.6" width="1.9" height="14.1" fill-opacity="0.28"/><rect x="167.1" y="1330.6" width="1.5" height="14.1" fill-opacity="0.30"/><rect x="172.4" y="1330.6" width="1.9" height="14.1" fill-opacity="0.58"/><rect x="178.5" y="1330.6" width="2.5" height="14.1" fill-opacity="0.56"/><rect x="186.4" y="1330.6" width="2" height="14.1" fill-opacity="0.21"/><rect x="193.4" y="1330.6" width="2.5" height="14.1" fill-opacity="0.58"/><rect x="199.7" y="1330.6" width="2.1" height="14.1" fill-opacity="0.23"/><rect x="206.6" y="1330.6" width="1.5" height="14.1" fill-opacity="0.27"/><rect x="158.3" y="1333.9" width="49.8" height="1.1" fill-opacity="0.53"/><rect x="158.3" y="1340.2" width="49.8" height="2.3" fill-opacity="0.54"/><rect x="158.3" y="1344" width="49.8" height="0.7" fill-opacity="0.56"/><rect x="208.1" y="1330.6" width="26.4" height="14.2" fill-opacity="0.07"/><rect x="208.1" y="1330.6" width="0.3" height="14.1" fill-opacity="0.17"/><rect x="210.2" y="1330.6" width="2.3" height="14.1" fill-opacity="0.39"/><rect x="214.4" y="1330.6" width="2.2" height="14.1" fill-opacity="0.21"/><rect x="218.7" y="1330.6" width="1.3" height="14.1" fill-opacity="0.32"/><rect x="225" y="1330.6" width="0.9" height="14.1" fill-opacity="0.27"/><rect x="227.6" y="1330.6" width="2.1" height="14.1" fill-opacity="0.18"/><rect x="208.1" y="1333.9" width="26.3" height="1.1" fill-opacity="0.33"/><rect x="208.1" y="1340.2" width="26.3" height="2.3" fill-opacity="0.34"/><rect x="208.1" y="1344" width="26.3" height="0.7" fill-opacity="0.35"/><rect x="234.4" y="1330.6" width="16.3" height="14.2" fill-opacity="0.00"/><rect x="250.7" y="1330.6" width="10.4" height="14.2" fill-opacity="0.09"/><rect x="252" y="1330.6" width="1.9" height="14.1" fill-opacity="0.15"/><rect x="255.6" y="1330.6" width="2.4" height="14.1" fill-opacity="0.21"/><rect x="250.7" y="1333.9" width="10.3" height="1.1" fill-opacity="0.39"/><rect x="250.7" y="1340.2" width="10.3" height="2.3" fill-opacity="0.41"/><rect x="250.7" y="1344" width="10.3" height="0.7" fill-opacity="0.42"/><rect x="261" y="1330.6" width="19.1" height="14.2" fill-opacity="0.09"/><rect x="263.3" y="1330.6" width="2.4" height="14.1" fill-opacity="0.24"/><rect x="269" y="1330.6" width="1.7" height="14.1" fill-opacity="0.34"/><rect x="274.7" y="1330.6" width="1.8" height="14.1" fill-opacity="0.33"/><rect x="261" y="1333.9" width="19" height="1.1" fill-opacity="0.39"/><rect x="261" y="1340.2" width="19" height="2.3" fill-opacity="0.41"/><rect x="261" y="1344" width="19" height="0.7" fill-opacity="0.42"/><rect x="280" y="1330.6" width="11.1" height="14.2" fill-opacity="0.00"/><rect x="281.7" y="1330.6" width="1.7" height="14.1" fill-opacity="0.05"/><rect x="287.8" y="1330.6" width="1.2" height="14.1" fill-opacity="0.04"/><rect x="280" y="1333.9" width="11" height="1.1" fill-opacity="0.08"/><rect x="280" y="1340.2" width="11" height="2.3" fill-opacity="0.08"/><rect x="280" y="1344" width="11" height="0.7" fill-opacity="0.08"/><rect x="291" y="1330.6" width="19.1" height="14.2" fill-opacity="0.00"/><rect x="294.5" y="1330.6" width="1.7" height="14.1" fill-opacity="0.06"/><rect x="297.7" y="1330.6" width="1.5" height="14.1" fill-opacity="0.06"/><rect x="300.9" y="1330.6" width="1.9" height="14.1" fill-opacity="0.07"/><rect x="304.5" y="1330.6" width="1.9" height="14.1" fill-opacity="0.05"/><rect x="291" y="1333.9" width="19" height="1.1" fill-opacity="0.08"/><rect x="291" y="1340.2" width="19" height="2.3" fill-opacity="0.08"/><rect x="291" y="1344" width="19" height="0.7" fill-opacity="0.08"/><rect x="310" y="1330.6" width="19.6" height="14.2" fill-opacity="0.00"/><rect x="310.7" y="1330.6" width="1.4" height="14.1" fill-opacity="0.07"/><rect x="316.6" y="1330.6" width="0.8" height="14.1" fill-opacity="0.02"/><rect x="321.6" y="1330.6" width="2.5" height="14.1" fill-opacity="0.04"/><rect x="327.5" y="1330.6" width="1.9" height="14.1" fill-opacity="0.04"/><rect x="310" y="1333.9" width="19.5" height="1.1" fill-opacity="0.08"/><rect x="310" y="1340.2" width="19.5" height="2.3" fill-opacity="0.08"/><rect x="310" y="1344" width="19.5" height="0.7" fill-opacity="0.08"/><rect x="329.5" y="1330.6" width="10.7" height="14.2" fill-opacity="0.00"/><rect x="332.3" y="1330.6" width="1.4" height="14.1" fill-opacity="0.03"/><rect x="337.5" y="1330.6" width="1.3" height="14.1" fill-opacity="0.03"/><rect x="329.5" y="1333.9" width="10.7" height="1.1" fill-opacity="0.05"/><rect x="329.5" y="1340.2" width="10.7" height="2.3" fill-opacity="0.05"/><rect x="329.5" y="1344" width="10.7" height="0.7" fill-opacity="0.06"/><rect x="340.2" y="1330.6" width="7.9" height="14.2" fill-opacity="0.00"/><rect x="348" y="1330.6" width="35.4" height="14.2" fill-opacity="0.00"/><rect x="383.3" y="1330.6" width="12.9" height="14.2"/><rect x="396.2" y="1330.6" width="16.9" height="14.2" fill-opacity="0.00"/><rect x="413" y="1330.6" width="32.2" height="14.2" fill-opacity="0.00"/><rect x="158.3" y="1344.7" width="49.8" height="32.3" fill-opacity="0.00"/><rect x="208.1" y="1344.7" width="26.4" height="32.3" fill-opacity="0.02"/><rect x="208.1" y="1344.7" width="0.3" height="32.3" fill-opacity="0.10"/><rect x="210.2" y="1344.7" width="2.3" height="32.3" fill-opacity="0.23"/><rect x="214.4" y="1344.7" width="2.2" height="32.3" fill-opacity="0.12"/><rect x="218.7" y="1344.7" width="1.3" height="32.3" fill-opacity="0.19"/><rect x="225" y="1344.7" width="0.9" height="32.3" fill-opacity="0.16"/><rect x="227.6" y="1344.7" width="2.1" height="32.3" fill-opacity="0.11"/><rect x="208.1" y="1344.7" width="26.3" height="1.2" fill-opacity="0.21"/><rect x="208.1" y="1347.6" width="26.3" height="1.3" fill-opacity="0.10"/><rect x="208.1" y="1352.5" width="26.3" height="1.6" fill-opacity="0.14"/><rect x="208.1" y="1358.7" width="26.3" height="0.8" fill-opacity="0.06"/><rect x="208.1" y="1361.5" width="26.3" height="1" fill-opacity="0.06"/><rect x="208.1" y="1367.9" width="26.3" height="2.3" fill-opacity="0.06"/><rect x="208.1" y="1373.8" width="26.3" height="1.4" fill-opacity="0.11"/><rect x="234.4" y="1344.7" width="16.3" height="32.3" fill-opacity="0.00"/><rect x="234.7" y="1344.7" width="2.6" height="32.3" fill-opacity="0.05"/><rect x="242.8" y="1344.7" width="1.4" height="32.3" fill-opacity="0.02"/><rect x="248" y="1344.7" width="0.9" height="32.3" fill-opacity="0.03"/><rect x="234.4" y="1344.7" width="16.3" height="1.2" fill-opacity="0.07"/><rect x="234.4" y="1347.6" width="16.3" height="1.3" fill-opacity="0.03"/><rect x="234.4" y="1352.5" width="16.3" height="1.6" fill-opacity="0.05"/><rect x="234.4" y="1358.7" width="16.3" height="0.8" fill-opacity="0.02"/><rect x="234.4" y="1361.5" width="16.3" height="1" fill-opacity="0.02"/><rect x="234.4" y="1367.9" width="16.3" height="2.3" fill-opacity="0.02"/><rect x="234.4" y="1373.8" width="16.3" height="1.4" fill-opacity="0.04"/><rect x="250.7" y="1344.7" width="10.4" height="32.3" fill-opacity="0.00"/><rect x="252" y="1344.7" width="1.9" height="32.3" fill-opacity="0.03"/><rect x="255.6" y="1344.7" width="2.4" height="32.3" fill-opacity="0.04"/><rect x="250.7" y="1344.7" width="10.3" height="1.2" fill-opacity="0.07"/><rect x="250.7" y="1347.6" width="10.3" height="1.3" fill-opacity="0.03"/><rect x="250.7" y="1352.5" width="10.3" height="1.6" fill-opacity="0.05"/><rect x="250.7" y="1358.7" width="10.3" height="0.8" fill-opacity="0.02"/><rect x="250.7" y="1361.5" width="10.3" height="1" fill-opacity="0.02"/><rect x="250.7" y="1367.9" width="10.3" height="2.3" fill-opacity="0.02"/><rect x="250.7" y="1373.8" width="10.3" height="1.4" fill-opacity="0.04"/><rect x="261" y="1344.7" width="19.1" height="32.3" fill-opacity="0.00"/><rect x="263.3" y="1344.7" width="2.4" height="32.3" fill-opacity="0.04"/><rect x="269" y="1344.7" width="1.7" height="32.3" fill-opacity="0.06"/><rect x="274.7" y="1344.7" width="1.8" height="32.3" fill-opacity="0.05"/><rect x="261" y="1344.7" width="19" height="1.2" fill-opacity="0.07"/><rect x="261" y="1347.6" width="19" height="1.3" fill-opacity="0.03"/><rect x="261" y="1352.5" width="19" height="1.6" fill-opacity="0.05"/><rect x="261" y="1358.7" width="19" height="0.8" fill-opacity="0.02"/><rect x="261" y="1361.5" width="19" height="1" fill-opacity="0.02"/><rect x="261" y="1367.9" width="19" height="2.3" fill-opacity="0.02"/><rect x="261" y="1373.8" width="19" height="1.4" fill-opacity="0.04"/><rect x="280" y="1344.7" width="11.1" height="32.3" fill-opacity="0.04"/><rect x="281.7" y="1344.7" width="1.7" height="32.3" fill-opacity="0.17"/><rect x="287.8" y="1344.7" width="1.2" height="32.3" fill-opacity="0.14"/><rect x="280" y="1344.7" width="11" height="1.2" fill-opacity="0.28"/><rect x="280" y="1347.6" width="11" height="1.3" fill-opacity="0.13"/><rect x="280" y="1352.5" width="11" height="1.6" fill-opacity="0.18"/><rect x="280" y="1358.7" width="11" height="0.8" fill-opacity="0.08"/><rect x="280" y="1361.5" width="11" height="1" fill-opacity="0.08"/><rect x="280" y="1367.9" width="11" height="2.3" fill-opacity="0.08"/><rect x="280" y="1373.8" width="11" height="1.4" fill-opacity="0.14"/><rect x="291" y="1344.7" width="19.1" height="32.3" fill-opacity="0.04"/><rect x="294.5" y="1344.7" width="1.7" height="32.3" fill-opacity="0.20"/><rect x="297.7" y="1344.7" width="1.5" height="32.3" fill-opacity="0.21"/><rect x="300.9" y="1344.7" width="1.9" height="32.3" fill-opacity="0.22"/><rect x="304.5" y="1344.7" width="1.9" height="32.3" fill-opacity="0.18"/><rect x="291" y="1344.7" width="19" height="1.2" fill-opacity="0.28"/><rect x="291" y="1347.6" width="19" height="1.3" fill-opacity="0.13"/><rect x="291" y="1352.5" width="19" height="1.6" fill-opacity="0.18"/><rect x="291" y="1358.7" width="19" height="0.8" fill-opacity="0.08"/><rect x="291" y="1361.5" width="19" height="1" fill-opacity="0.08"/><rect x="291" y="1367.9" width="19" height="2.3" fill-opacity="0.08"/><rect x="291" y="1373.8" width="19" height="1.4" fill-opacity="0.14"/><rect x="310" y="1344.7" width="19.6" height="32.3" fill-opacity="0.04"/><rect x="310.7" y="1344.7" width="1.4" height="32.3" fill-opacity="0.24"/><rect x="316.6" y="1344.7" width="0.8" height="32.3" fill-opacity="0.08"/><rect x="321.6" y="1344.7" width="2.5" height="32.3" fill-opacity="0.13"/><rect x="327.5" y="1344.7" width="1.9" height="32.3" fill-opacity="0.14"/><rect x="310" y="1344.7" width="19.5" height="1.2" fill-opacity="0.28"/><rect x="310" y="1347.6" width="19.5" height="1.3" fill-opacity="0.13"/><rect x="310" y="1352.5" width="19.5" height="1.6" fill-opacity="0.18"/><rect x="310" y="1358.7" width="19.5" height="0.8" fill-opacity="0.08"/><rect x="310" y="1361.5" width="19.5" height="1" fill-opacity="0.08"/><rect x="310" y="1367.9" width="19.5" height="2.3" fill-opacity="0.08"/><rect x="310" y="1373.8" width="19.5" height="1.4" fill-opacity="0.14"/><rect x="329.5" y="1344.7" width="10.7" height="32.3" fill-opacity="0.38"/><rect x="332.3" y="1344.7" width="1.4" height="32.3" fill-opacity="0.47"/><rect x="337.5" y="1344.7" width="1.3" height="32.3" fill-opacity="0.47"/><rect x="329.5" y="1344.7" width="10.7" height="1.2" fill-opacity="0.84"/><rect x="329.5" y="1347.6" width="10.7" height="1.3" fill-opacity="0.39"/><rect x="329.5" y="1352.5" width="10.7" height="1.6" fill-opacity="0.55"/><rect x="329.5" y="1358.7" width="10.7" height="0.8" fill-opacity="0.23"/><rect x="329.5" y="1361.5" width="10.7" height="1" fill-opacity="0.24"/><rect x="329.5" y="1367.9" width="10.7" height="2.3" fill-opacity="0.25"/><rect x="329.5" y="1373.8" width="10.7" height="1.4" fill-opacity="0.43"/><rect x="340.2" y="1344.7" width="7.9" height="32.3" fill-opacity="0.67"/><rect x="343.5" y="1344.7" width="0.8" height="32.3" fill-opacity="0.83"/><rect x="340.2" y="1344.7" width="7.8" height="1.2" fill-opacity="1.00"/><rect x="340.2" y="1347.6" width="7.8" height="1.3" fill-opacity="0.52"/><rect x="340.2" y="1352.5" width="7.8" height="1.6" fill-opacity="0.73"/><rect x="340.2" y="1358.7" width="7.8" height="0.8" fill-opacity="0.31"/><rect x="340.2" y="1361.5" width="7.8" height="1" fill-opacity="0.32"/><rect x="340.2" y="1367.9" width="7.8" height="2.3" fill-opacity="0.34"/><rect x="340.2" y="1373.8" width="7.8" height="1.4" fill-opacity="0.57"/><rect x="348" y="1344.7" width="35.4" height="32.3"/><rect x="396.2" y="1344.7" width="16.9" height="32.3" fill-opacity="0.21"/><rect x="396.2" y="1344.7" width="1.7" height="32.3" fill-opacity="0.60"/><rect x="400.8" y="1344.7" width="1" height="32.3" fill-opacity="0.31"/><rect x="406.5" y="1344.7" width="1.3" height="32.3" fill-opacity="0.34"/><rect x="410.9" y="1344.7" width="1.6" height="32.3" fill-opacity="0.37"/><rect x="396.2" y="1344.7" width="16.8" height="1.2" fill-opacity="0.63"/><rect x="396.2" y="1347.6" width="16.8" height="1.3" fill-opacity="0.29"/><rect x="396.2" y="1352.5" width="16.8" height="1.6" fill-opacity="0.41"/><rect x="396.2" y="1358.7" width="16.8" height="0.8" fill-opacity="0.17"/><rect x="396.2" y="1361.5" width="16.8" height="1" fill-opacity="0.18"/><rect x="396.2" y="1367.9" width="16.8" height="2.3" fill-opacity="0.19"/><rect x="396.2" y="1373.8" width="16.8" height="1.4" fill-opacity="0.32"/><rect x="413" y="1344.7" width="32.2" height="32.3" fill-opacity="0.26"/><rect x="417.7" y="1344.7" width="1.1" height="32.3" fill-opacity="0.16"/><rect x="424" y="1344.7" width="2.4" height="32.3" fill-opacity="0.78"/><rect x="429.6" y="1344.7" width="2.5" height="32.3" fill-opacity="0.74"/><rect x="434.5" y="1344.7" width="2.1" height="32.3" fill-opacity="0.68"/><rect x="440.8" y="1344.7" width="1.7" height="32.3" fill-opacity="0.34"/><rect x="413" y="1344.7" width="32.1" height="1.2" fill-opacity="0.70"/><rect x="413" y="1347.6" width="32.1" height="1.3" fill-opacity="0.33"/><rect x="413" y="1352.5" width="32.1" height="1.6" fill-opacity="0.46"/><rect x="413" y="1358.7" width="32.1" height="0.8" fill-opacity="0.19"/><rect x="413" y="1361.5" width="32.1" height="1" fill-opacity="0.20"/><rect x="413" y="1367.9" width="32.1" height="2.3" fill-opacity="0.21"/><rect x="413" y="1373.8" width="32.1" height="1.4" fill-opacity="0.36"/><rect x="158.3" y="1377" width="49.8" height="9.8" fill-opacity="0.00"/><rect x="158.3" y="1377" width="0.1" height="9.8" fill-opacity="0.08"/><rect x="161.6" y="1377" width="1.9" height="9.8" fill-opacity="0.03"/><rect x="167.1" y="1377" width="1.5" height="9.8" fill-opacity="0.04"/><rect x="172.4" y="1377" width="1.9" height="9.8" fill-opacity="0.07"/><rect x="178.5" y="1377" width="2.5" height="9.8" fill-opacity="0.07"/><rect x="186.4" y="1377" width="2" height="9.8" fill-opacity="0.03"/><rect x="193.4" y="1377" width="2.5" height="9.8" fill-opacity="0.07"/><rect x="199.7" y="1377" width="2.1" height="9.8" fill-opacity="0.03"/><rect x="206.6" y="1377" width="1.5" height="9.8" fill-opacity="0.03"/><rect x="158.3" y="1378" width="49.8" height="2" fill-opacity="0.05"/><rect x="158.3" y="1382.9" width="49.8" height="1.1" fill-opacity="0.04"/><rect x="158.3" y="1386.1" width="49.8" height="0.7" fill-opacity="0.06"/><rect x="208.1" y="1377" width="26.4" height="9.8" fill-opacity="0.04"/><rect x="208.1" y="1377" width="0.3" height="9.8" fill-opacity="0.13"/><rect x="210.2" y="1377" width="2.3" height="9.8" fill-opacity="0.31"/><rect x="214.4" y="1377" width="2.2" height="9.8" fill-opacity="0.17"/><rect x="218.7" y="1377" width="1.3" height="9.8" fill-opacity="0.26"/><rect x="225" y="1377" width="0.9" height="9.8" fill-opacity="0.22"/><rect x="227.6" y="1377" width="2.1" height="9.8" fill-opacity="0.15"/><rect x="208.1" y="1378" width="26.3" height="2" fill-opacity="0.21"/><rect x="208.1" y="1382.9" width="26.3" height="1.1" fill-opacity="0.15"/><rect x="208.1" y="1386.1" width="26.3" height="0.7" fill-opacity="0.24"/><rect x="234.4" y="1377" width="16.3" height="9.8" fill-opacity="0.09"/><rect x="234.7" y="1377" width="2.6" height="9.8" fill-opacity="0.29"/><rect x="242.8" y="1377" width="1.4" height="9.8" fill-opacity="0.12"/><rect x="248" y="1377" width="0.9" height="9.8" fill-opacity="0.17"/><rect x="234.4" y="1378" width="16.3" height="2" fill-opacity="0.32"/><rect x="234.4" y="1382.9" width="16.3" height="1.1" fill-opacity="0.22"/><rect x="234.4" y="1386.1" width="16.3" height="0.7" fill-opacity="0.37"/><rect x="250.7" y="1377" width="10.4" height="9.8" fill-opacity="0.01"/><rect x="252" y="1377" width="1.9" height="9.8" fill-opacity="0.05"/><rect x="255.6" y="1377" width="2.4" height="9.8" fill-opacity="0.07"/><rect x="250.7" y="1378" width="10.3" height="2" fill-opacity="0.11"/><rect x="250.7" y="1382.9" width="10.3" height="1.1" fill-opacity="0.07"/><rect x="250.7" y="1386.1" width="10.3" height="0.7" fill-opacity="0.12"/><rect x="261" y="1377" width="19.1" height="9.8" fill-opacity="0.01"/><rect x="263.3" y="1377" width="2.4" height="9.8" fill-opacity="0.08"/><rect x="269" y="1377" width="1.7" height="9.8" fill-opacity="0.11"/><rect x="274.7" y="1377" width="1.8" height="9.8" fill-opacity="0.11"/><rect x="261" y="1378" width="19" height="2" fill-opacity="0.11"/><rect x="261" y="1382.9" width="19" height="1.1" fill-opacity="0.07"/><rect x="261" y="1386.1" width="19" height="0.7" fill-opacity="0.12"/><rect x="280" y="1377" width="11.1" height="9.8" fill-opacity="0.09"/><rect x="281.7" y="1377" width="1.7" height="9.8" fill-opacity="0.26"/><rect x="287.8" y="1377" width="1.2" height="9.8" fill-opacity="0.21"/><rect x="280" y="1378" width="11" height="2" fill-opacity="0.32"/><rect x="280" y="1382.9" width="11" height="1.1" fill-opacity="0.22"/><rect x="280" y="1386.1" width="11" height="0.7" fill-opacity="0.37"/><rect x="291" y="1377" width="19.1" height="9.8" fill-opacity="0.09"/><rect x="294.5" y="1377" width="1.7" height="9.8" fill-opacity="0.30"/><rect x="297.7" y="1377" width="1.5" height="9.8" fill-opacity="0.31"/><rect x="300.9" y="1377" width="1.9" height="9.8" fill-opacity="0.33"/><rect x="304.5" y="1377" width="1.9" height="9.8" fill-opacity="0.27"/><rect x="291" y="1378" width="19" height="2" fill-opacity="0.32"/><rect x="291" y="1382.9" width="19" height="1.1" fill-opacity="0.22"/><rect x="291" y="1386.1" width="19" height="0.7" fill-opacity="0.37"/><rect x="310" y="1377" width="19.6" height="9.8" fill-opacity="0.09"/><rect x="310.7" y="1377" width="1.4" height="9.8" fill-opacity="0.36"/><rect x="316.6" y="1377" width="0.8" height="9.8" fill-opacity="0.12"/><rect x="321.6" y="1377" width="2.5" height="9.8" fill-opacity="0.19"/><rect x="327.5" y="1377" width="1.9" height="9.8" fill-opacity="0.22"/><rect x="310" y="1378" width="19.5" height="2" fill-opacity="0.32"/><rect x="310" y="1382.9" width="19.5" height="1.1" fill-opacity="0.22"/><rect x="310" y="1386.1" width="19.5" height="0.7" fill-opacity="0.37"/><rect x="329.5" y="1377" width="10.7" height="9.8" fill-opacity="0.51"/><rect x="332.3" y="1377" width="1.4" height="9.8" fill-opacity="0.55"/><rect x="337.5" y="1377" width="1.3" height="9.8" fill-opacity="0.55"/><rect x="329.5" y="1378" width="10.7" height="2" fill-opacity="0.74"/><rect x="329.5" y="1382.9" width="10.7" height="1.1" fill-opacity="0.51"/><rect x="329.5" y="1386.1" width="10.7" height="0.7" fill-opacity="0.85"/><rect x="340.2" y="1377" width="7.9" height="9.8" fill-opacity="0.59"/><rect x="343.5" y="1377" width="0.8" height="9.8" fill-opacity="0.77"/><rect x="340.2" y="1378" width="7.8" height="2" fill-opacity="0.79"/><rect x="340.2" y="1382.9" width="7.8" height="1.1" fill-opacity="0.55"/><rect x="340.2" y="1386.1" width="7.8" height="0.7" fill-opacity="0.91"/><rect x="348" y="1377" width="35.4" height="9.8" fill-opacity="0.51"/><rect x="348.7" y="1377" width="1.4" height="9.8" fill-opacity="0.42"/><rect x="354.8" y="1377" width="1.2" height="9.8" fill-opacity="0.39"/><rect x="359.3" y="1377" width="2.1" height="9.8" fill-opacity="0.31"/><rect x="364.1" y="1377" width="1.4" height="9.8" fill-opacity="0.96"/><rect x="368.8" y="1377" width="2.3" height="9.8" fill-opacity="0.37"/><rect x="374" y="1377" width="2" height="9.8" fill-opacity="1.00"/><rect x="379.2" y="1377" width="1.2" height="9.8" fill-opacity="0.33"/><rect x="348" y="1378" width="35.3" height="2" fill-opacity="0.74"/><rect x="348" y="1382.9" width="35.3" height="1.1" fill-opacity="0.51"/><rect x="348" y="1386.1" width="35.3" height="0.7" fill-opacity="0.85"/><rect x="396.2" y="1377" width="16.9" height="9.8" fill-opacity="0.59"/><rect x="396.2" y="1377" width="1.7" height="9.8" fill-opacity="1.00"/><rect x="400.8" y="1377" width="1" height="9.8" fill-opacity="0.51"/><rect x="406.5" y="1377" width="1.3" height="9.8" fill-opacity="0.56"/><rect x="410.9" y="1377" width="1.6" height="9.8" fill-opacity="0.62"/><rect x="396.2" y="1378" width="16.8" height="2" fill-opacity="0.79"/><rect x="396.2" y="1382.9" width="16.8" height="1.1" fill-opacity="0.55"/><rect x="396.2" y="1386.1" width="16.8" height="0.7" fill-opacity="0.91"/><rect x="413" y="1377" width="32.2" height="9.8" fill-opacity="0.38"/><rect x="417.7" y="1377" width="1.1" height="9.8" fill-opacity="0.19"/><rect x="424" y="1377" width="2.4" height="9.8" fill-opacity="0.94"/><rect x="429.6" y="1377" width="2.5" height="9.8" fill-opacity="0.89"/><rect x="434.5" y="1377" width="2.1" height="9.8" fill-opacity="0.82"/><rect x="440.8" y="1377" width="1.7" height="9.8" fill-opacity="0.41"/><rect x="413" y="1378" width="32.1" height="2" fill-opacity="0.63"/><rect x="413" y="1382.9" width="32.1" height="1.1" fill-opacity="0.44"/><rect x="413" y="1386.1" width="32.1" height="0.7" fill-opacity="0.73"/><rect x="158.3" y="1386.8" width="49.8" height="9.3" fill-opacity="0.13"/><rect x="158.3" y="1386.8" width="0.1" height="9.2" fill-opacity="0.54"/><rect x="161.6" y="1386.8" width="1.9" height="9.2" fill-opacity="0.24"/><rect x="167.1" y="1386.8" width="1.5" height="9.2" fill-opacity="0.27"/><rect x="172.4" y="1386.8" width="1.9" height="9.2" fill-opacity="0.51"/><rect x="178.5" y="1386.8" width="2.5" height="9.2" fill-opacity="0.49"/><rect x="186.4" y="1386.8" width="2" height="9.2" fill-opacity="0.18"/><rect x="193.4" y="1386.8" width="2.5" height="9.2" fill-opacity="0.51"/><rect x="199.7" y="1386.8" width="2.1" height="9.2" fill-opacity="0.20"/><rect x="206.6" y="1386.8" width="1.5" height="9.2" fill-opacity="0.24"/><rect x="158.3" y="1386.8" width="49.8" height="1.1" fill-opacity="0.43"/><rect x="158.3" y="1390.9" width="49.8" height="0.9" fill-opacity="0.19"/><rect x="158.3" y="1394.8" width="49.8" height="1.2" fill-opacity="0.46"/><rect x="208.1" y="1386.8" width="26.4" height="9.3" fill-opacity="0.21"/><rect x="208.1" y="1386.8" width="0.3" height="9.2" fill-opacity="0.30"/><rect x="210.2" y="1386.8" width="2.3" height="9.2" fill-opacity="0.70"/><rect x="214.4" y="1386.8" width="2.2" height="9.2" fill-opacity="0.37"/><rect x="218.7" y="1386.8" width="1.3" height="9.2" fill-opacity="0.58"/><rect x="225" y="1386.8" width="0.9" height="9.2" fill-opacity="0.49"/><rect x="227.6" y="1386.8" width="2.1" height="9.2" fill-opacity="0.33"/><rect x="208.1" y="1386.8" width="26.3" height="1.1" fill-opacity="0.55"/><rect x="208.1" y="1390.9" width="26.3" height="0.9" fill-opacity="0.24"/><rect x="208.1" y="1394.8" width="26.3" height="1.2" fill-opacity="0.59"/><rect x="234.4" y="1386.8" width="16.3" height="9.3" fill-opacity="0.00"/><rect x="234.7" y="1386.8" width="2.6" height="9.2" fill-opacity="0.05"/><rect x="242.8" y="1386.8" width="1.4" height="9.2" fill-opacity="0.02"/><rect x="248" y="1386.8" width="0.9" height="9.2" fill-opacity="0.03"/><rect x="234.4" y="1386.8" width="16.3" height="1.1" fill-opacity="0.06"/><rect x="234.4" y="1390.9" width="16.3" height="0.9" fill-opacity="0.03"/><rect x="234.4" y="1394.8" width="16.3" height="1.2" fill-opacity="0.07"/><rect x="250.7" y="1386.8" width="10.4" height="9.3" fill-opacity="0.01"/><rect x="252" y="1386.8" width="1.9" height="9.2" fill-opacity="0.05"/><rect x="255.6" y="1386.8" width="2.4" height="9.2" fill-opacity="0.07"/><rect x="250.7" y="1386.8" width="10.3" height="1.1" fill-opacity="0.12"/><rect x="250.7" y="1390.9" width="10.3" height="0.9" fill-opacity="0.05"/><rect x="250.7" y="1394.8" width="10.3" height="1.2" fill-opacity="0.13"/><rect x="261" y="1386.8" width="19.1" height="9.3" fill-opacity="0.01"/><rect x="263.3" y="1386.8" width="2.4" height="9.2" fill-opacity="0.08"/><rect x="269" y="1386.8" width="1.7" height="9.2" fill-opacity="0.11"/><rect x="274.7" y="1386.8" width="1.8" height="9.2" fill-opacity="0.11"/><rect x="261" y="1386.8" width="19" height="1.1" fill-opacity="0.12"/><rect x="261" y="1390.9" width="19" height="0.9" fill-opacity="0.05"/><rect x="261" y="1394.8" width="19" height="1.2" fill-opacity="0.13"/><rect x="280" y="1386.8" width="11.1" height="9.3" fill-opacity="0.59"/><rect x="281.7" y="1386.8" width="1.7" height="9.2" fill-opacity="0.64"/><rect x="287.8" y="1386.8" width="1.2" height="9.2" fill-opacity="0.52"/><rect x="280" y="1386.8" width="11" height="1.1" fill-opacity="0.91"/><rect x="280" y="1390.9" width="11" height="0.9" fill-opacity="0.40"/><rect x="280" y="1394.8" width="11" height="1.2" fill-opacity="0.98"/><rect x="291" y="1386.8" width="19.1" height="9.3" fill-opacity="0.59"/><rect x="294.5" y="1386.8" width="1.7" height="9.2" fill-opacity="0.75"/><rect x="297.7" y="1386.8" width="1.5" height="9.2" fill-opacity="0.78"/><rect x="300.9" y="1386.8" width="1.9" height="9.2" fill-opacity="0.83"/><rect x="304.5" y="1386.8" width="1.9" height="9.2" fill-opacity="0.68"/><rect x="291" y="1386.8" width="19" height="1.1" fill-opacity="0.91"/><rect x="291" y="1390.9" width="19" height="0.9" fill-opacity="0.40"/><rect x="291" y="1394.8" width="19" height="1.2" fill-opacity="0.98"/><rect x="310" y="1386.8" width="19.6" height="9.3" fill-opacity="0.59"/><rect x="310.7" y="1386.8" width="1.4" height="9.2" fill-opacity="0.90"/><rect x="316.6" y="1386.8" width="0.8" height="9.2" fill-opacity="0.29"/><rect x="321.6" y="1386.8" width="2.5" height="9.2" fill-opacity="0.47"/><rect x="327.5" y="1386.8" width="1.9" height="9.2" fill-opacity="0.54"/><rect x="310" y="1386.8" width="19.5" height="1.1" fill-opacity="0.91"/><rect x="310" y="1390.9" width="19.5" height="0.9" fill-opacity="0.40"/><rect x="310" y="1394.8" width="19.5" height="1.2" fill-opacity="0.98"/><rect x="329.5" y="1386.8" width="10.7" height="9.3"/><rect x="340.2" y="1386.8" width="7.9" height="9.3" fill-opacity="0.51"/><rect x="343.5" y="1386.8" width="0.8" height="9.2" fill-opacity="0.72"/><rect x="340.2" y="1386.8" width="7.8" height="1.1" fill-opacity="0.85"/><rect x="340.2" y="1390.9" width="7.8" height="0.9" fill-opacity="0.38"/><rect x="340.2" y="1394.8" width="7.8" height="1.2" fill-opacity="0.91"/><rect x="348" y="1386.8" width="35.4" height="9.3" fill-opacity="0.38"/><rect x="348.7" y="1386.8" width="1.4" height="9.2" fill-opacity="0.36"/><rect x="354.8" y="1386.8" width="1.2" height="9.2" fill-opacity="0.33"/><rect x="359.3" y="1386.8" width="2.1" height="9.2" fill-opacity="0.27"/><rect x="364.1" y="1386.8" width="1.4" height="9.2" fill-opacity="0.82"/><rect x="368.8" y="1386.8" width="2.3" height="9.2" fill-opacity="0.32"/><rect x="374" y="1386.8" width="2" height="9.2" fill-opacity="0.86"/><rect x="379.2" y="1386.8" width="1.2" height="9.2" fill-opacity="0.28"/><rect x="348" y="1386.8" width="35.3" height="1.1" fill-opacity="0.73"/><rect x="348" y="1390.9" width="35.3" height="0.9" fill-opacity="0.32"/><rect x="348" y="1394.8" width="35.3" height="1.2" fill-opacity="0.78"/><rect x="396.2" y="1386.8" width="16.9" height="9.3" fill-opacity="0.17"/><rect x="396.2" y="1386.8" width="1.7" height="9.2" fill-opacity="0.53"/><rect x="400.8" y="1386.8" width="1" height="9.2" fill-opacity="0.27"/><rect x="406.5" y="1386.8" width="1.3" height="9.2" fill-opacity="0.30"/><rect x="410.9" y="1386.8" width="1.6" height="9.2" fill-opacity="0.33"/><rect x="396.2" y="1386.8" width="16.8" height="1.1" fill-opacity="0.49"/><rect x="396.2" y="1390.9" width="16.8" height="0.9" fill-opacity="0.22"/><rect x="396.2" y="1394.8" width="16.8" height="1.2" fill-opacity="0.52"/><rect x="413" y="1386.8" width="32.2" height="9.3" fill-opacity="0.13"/><rect x="417.7" y="1386.8" width="1.1" height="9.2" fill-opacity="0.11"/><rect x="424" y="1386.8" width="2.4" height="9.2" fill-opacity="0.55"/><rect x="429.6" y="1386.8" width="2.5" height="9.2" fill-opacity="0.52"/><rect x="434.5" y="1386.8" width="2.1" height="9.2" fill-opacity="0.48"/><rect x="440.8" y="1386.8" width="1.7" height="9.2" fill-opacity="0.24"/><rect x="413" y="1386.8" width="32.1" height="1.1" fill-opacity="0.43"/><rect x="413" y="1390.9" width="32.1" height="0.9" fill-opacity="0.19"/><rect x="413" y="1394.8" width="32.1" height="1.2" fill-opacity="0.46"/><rect x="158.3" y="1396" width="49.8" height="24.1" fill-opacity="0.09"/><rect x="158.3" y="1396" width="0.1" height="24" fill-opacity="0.46"/><rect x="161.6" y="1396" width="1.9" height="24" fill-opacity="0.21"/><rect x="167.1" y="1396" width="1.5" height="24" fill-opacity="0.23"/><rect x="172.4" y="1396" width="1.9" height="24" fill-opacity="0.44"/><rect x="178.5" y="1396" width="2.5" height="24" fill-opacity="0.42"/><rect x="186.4" y="1396" width="2" height="24" fill-opacity="0.16"/><rect x="193.4" y="1396" width="2.5" height="24" fill-opacity="0.44"/><rect x="199.7" y="1396" width="2.1" height="24" fill-opacity="0.17"/><rect x="206.6" y="1396" width="1.5" height="24" fill-opacity="0.20"/><rect x="158.3" y="1396" width="49.8" height="0.7" fill-opacity="0.39"/><rect x="158.3" y="1399.7" width="49.8" height="2.2" fill-opacity="0.33"/><rect x="158.3" y="1405.2" width="49.8" height="1.5" fill-opacity="0.28"/><rect x="158.3" y="1411" width="49.8" height="1.6" fill-opacity="0.36"/><rect x="158.3" y="1415.9" width="49.8" height="1.2" fill-opacity="0.30"/><rect x="208.1" y="1396" width="26.4" height="24.1" fill-opacity="0.21"/><rect x="208.1" y="1396" width="0.3" height="24" fill-opacity="0.30"/><rect x="210.2" y="1396" width="2.3" height="24" fill-opacity="0.70"/><rect x="214.4" y="1396" width="2.2" height="24" fill-opacity="0.37"/><rect x="218.7" y="1396" width="1.3" height="24" fill-opacity="0.58"/><rect x="225" y="1396" width="0.9" height="24" fill-opacity="0.49"/><rect x="227.6" y="1396" width="2.1" height="24" fill-opacity="0.33"/><rect x="208.1" y="1396" width="26.3" height="0.7" fill-opacity="0.59"/><rect x="208.1" y="1399.7" width="26.3" height="2.2" fill-opacity="0.49"/><rect x="208.1" y="1405.2" width="26.3" height="1.5" fill-opacity="0.42"/><rect x="208.1" y="1411" width="26.3" height="1.6" fill-opacity="0.54"/><rect x="208.1" y="1415.9" width="26.3" height="1.2" fill-opacity="0.45"/><rect x="234.4" y="1396" width="16.3" height="24.1" fill-opacity="0.00"/><rect x="234.7" y="1396" width="2.6" height="24" fill-opacity="0.05"/><rect x="242.8" y="1396" width="1.4" height="24" fill-opacity="0.02"/><rect x="248" y="1396" width="0.9" height="24" fill-opacity="0.03"/><rect x="234.4" y="1396" width="16.3" height="0.7" fill-opacity="0.07"/><rect x="234.4" y="1399.7" width="16.3" height="2.2" fill-opacity="0.05"/><rect x="234.4" y="1405.2" width="16.3" height="1.5" fill-opacity="0.05"/><rect x="234.4" y="1411" width="16.3" height="1.6" fill-opacity="0.06"/><rect x="234.4" y="1415.9" width="16.3" height="1.2" fill-opacity="0.05"/><rect x="250.7" y="1396" width="10.4" height="24.1" fill-opacity="0.02"/><rect x="252" y="1396" width="1.9" height="24" fill-opacity="0.06"/><rect x="255.6" y="1396" width="2.4" height="24" fill-opacity="0.09"/><rect x="250.7" y="1396" width="10.3" height="0.7" fill-opacity="0.16"/><rect x="250.7" y="1399.7" width="10.3" height="2.2" fill-opacity="0.13"/><rect x="250.7" y="1405.2" width="10.3" height="1.5" fill-opacity="0.11"/><rect x="250.7" y="1411" width="10.3" height="1.6" fill-opacity="0.14"/><rect x="250.7" y="1415.9" width="10.3" height="1.2" fill-opacity="0.12"/><rect x="261" y="1396" width="19.1" height="24.1" fill-opacity="0.02"/><rect x="263.3" y="1396" width="2.4" height="24" fill-opacity="0.09"/><rect x="269" y="1396" width="1.7" height="24" fill-opacity="0.14"/><rect x="274.7" y="1396" width="1.8" height="24" fill-opacity="0.13"/><rect x="261" y="1396" width="19" height="0.7" fill-opacity="0.16"/><rect x="261" y="1399.7" width="19" height="2.2" fill-opacity="0.13"/><rect x="261" y="1405.2" width="19" height="1.5" fill-opacity="0.11"/><rect x="261" y="1411" width="19" height="1.6" fill-opacity="0.14"/><rect x="261" y="1415.9" width="19" height="1.2" fill-opacity="0.12"/><rect x="280" y="1396" width="11.1" height="24.1"/><rect x="291" y="1396" width="19.1" height="24.1"/><rect x="310" y="1396" width="19.6" height="24.1"/><rect x="329.5" y="1396" width="10.7" height="24.1" fill-opacity="0.76"/><rect x="332.3" y="1396" width="1.4" height="24" fill-opacity="0.66"/><rect x="337.5" y="1396" width="1.3" height="24" fill-opacity="0.67"/><rect x="329.5" y="1396" width="10.7" height="0.7" fill-opacity="1.00"/><rect x="329.5" y="1399.7" width="10.7" height="2.2" fill-opacity="0.93"/><rect x="329.5" y="1405.2" width="10.7" height="1.5" fill-opacity="0.80"/><rect x="329.5" y="1411" width="10.7" height="1.6" fill-opacity="1.00"/><rect x="329.5" y="1415.9" width="10.7" height="1.2" fill-opacity="0.84"/><rect x="340.2" y="1396" width="7.9" height="24.1" fill-opacity="0.07"/><rect x="343.5" y="1396" width="0.8" height="24" fill-opacity="0.26"/><rect x="340.2" y="1396" width="7.8" height="0.7" fill-opacity="0.33"/><rect x="340.2" y="1399.7" width="7.8" height="2.2" fill-opacity="0.27"/><rect x="340.2" y="1405.2" width="7.8" height="1.5" fill-opacity="0.24"/><rect x="340.2" y="1411" width="7.8" height="1.6" fill-opacity="0.30"/><rect x="340.2" y="1415.9" width="7.8" height="1.2" fill-opacity="0.25"/><rect x="348" y="1396" width="35.4" height="24.1" fill-opacity="0.02"/><rect x="348.7" y="1396" width="1.4" height="24" fill-opacity="0.07"/><rect x="354.8" y="1396" width="1.2" height="24" fill-opacity="0.07"/><rect x="359.3" y="1396" width="2.1" height="24" fill-opacity="0.05"/><rect x="364.1" y="1396" width="1.4" height="24" fill-opacity="0.16"/><rect x="368.8" y="1396" width="2.3" height="24" fill-opacity="0.06"/><rect x="374" y="1396" width="2" height="24" fill-opacity="0.17"/><rect x="379.2" y="1396" width="1.2" height="24" fill-opacity="0.06"/><rect x="348" y="1396" width="35.3" height="0.7" fill-opacity="0.16"/><rect x="348" y="1399.7" width="35.3" height="2.2" fill-opacity="0.13"/><rect x="348" y="1405.2" width="35.3" height="1.5" fill-opacity="0.11"/><rect x="348" y="1411" width="35.3" height="1.6" fill-opacity="0.14"/><rect x="348" y="1415.9" width="35.3" height="1.2" fill-opacity="0.12"/><rect x="396.2" y="1396" width="16.9" height="24.1" fill-opacity="0.07"/><rect x="396.2" y="1396" width="1.7" height="24" fill-opacity="0.33"/><rect x="400.8" y="1396" width="1" height="24" fill-opacity="0.17"/><rect x="406.5" y="1396" width="1.3" height="24" fill-opacity="0.19"/><rect x="410.9" y="1396" width="1.6" height="24" fill-opacity="0.21"/><rect x="396.2" y="1396" width="16.8" height="0.7" fill-opacity="0.33"/><rect x="396.2" y="1399.7" width="16.8" height="2.2" fill-opacity="0.27"/><rect x="396.2" y="1405.2" width="16.8" height="1.5" fill-opacity="0.24"/><rect x="396.2" y="1411" width="16.8" height="1.6" fill-opacity="0.30"/><rect x="396.2" y="1415.9" width="16.8" height="1.2" fill-opacity="0.25"/><rect x="413" y="1396" width="32.2" height="24.1" fill-opacity="0.04"/><rect x="417.7" y="1396" width="1.1" height="24" fill-opacity="0.06"/><rect x="424" y="1396" width="2.4" height="24" fill-opacity="0.31"/><rect x="429.6" y="1396" width="2.5" height="24" fill-opacity="0.30"/><rect x="434.5" y="1396" width="2.1" height="24" fill-opacity="0.27"/><rect x="440.8" y="1396" width="1.7" height="24" fill-opacity="0.14"/><rect x="413" y="1396" width="32.1" height="0.7" fill-opacity="0.26"/><rect x="413" y="1399.7" width="32.1" height="2.2" fill-opacity="0.22"/><rect x="413" y="1405.2" width="32.1" height="1.5" fill-opacity="0.19"/><rect x="413" y="1411" width="32.1" height="1.6" fill-opacity="0.24"/><rect x="413" y="1415.9" width="32.1" height="1.2" fill-opacity="0.20"/><rect x="158.3" y="1420" width="49.8" height="27.6" fill-opacity="0.51"/><rect x="158.3" y="1420" width="0.1" height="27.5" fill-opacity="1.00"/><rect x="161.6" y="1420" width="1.9" height="27.5" fill-opacity="0.49"/><rect x="167.1" y="1420" width="1.5" height="27.5" fill-opacity="0.53"/><rect x="172.4" y="1420" width="1.9" height="27.5" fill-opacity="1.00"/><rect x="178.5" y="1420" width="2.5" height="27.5" fill-opacity="0.98"/><rect x="186.4" y="1420" width="2" height="27.5" fill-opacity="0.36"/><rect x="193.4" y="1420" width="2.5" height="27.5" fill-opacity="1.00"/><rect x="199.7" y="1420" width="2.1" height="27.5" fill-opacity="0.41"/><rect x="206.6" y="1420" width="1.5" height="27.5" fill-opacity="0.47"/><rect x="158.3" y="1421.4" width="49.8" height="0.9" fill-opacity="0.60"/><rect x="158.3" y="1425.5" width="49.8" height="2.4" fill-opacity="1.00"/><rect x="158.3" y="1430.9" width="49.8" height="2.4" fill-opacity="0.92"/><rect x="158.3" y="1435.9" width="49.8" height="1.6" fill-opacity="0.33"/><rect x="158.3" y="1442.3" width="49.8" height="2" fill-opacity="1.00"/><rect x="208.1" y="1420" width="26.4" height="27.6" fill-opacity="0.51"/><rect x="208.1" y="1420" width="0.3" height="27.5" fill-opacity="0.47"/><rect x="210.2" y="1420" width="2.3" height="27.5" fill-opacity="1.00"/><rect x="214.4" y="1420" width="2.2" height="27.5" fill-opacity="0.58"/><rect x="218.7" y="1420" width="1.3" height="27.5" fill-opacity="0.90"/><rect x="225" y="1420" width="0.9" height="27.5" fill-opacity="0.76"/><rect x="227.6" y="1420" width="2.1" height="27.5" fill-opacity="0.51"/><rect x="208.1" y="1421.4" width="26.3" height="0.9" fill-opacity="0.60"/><rect x="208.1" y="1425.5" width="26.3" height="2.4" fill-opacity="1.00"/><rect x="208.1" y="1430.9" width="26.3" height="2.4" fill-opacity="0.92"/><rect x="208.1" y="1435.9" width="26.3" height="1.6" fill-opacity="0.33"/><rect x="208.1" y="1442.3" width="26.3" height="2" fill-opacity="1.00"/><rect x="234.4" y="1420" width="16.3" height="27.6" fill-opacity="0.00"/><rect x="234.7" y="1420" width="2.6" height="27.5" fill-opacity="0.05"/><rect x="242.8" y="1420" width="1.4" height="27.5" fill-opacity="0.02"/><rect x="248" y="1420" width="0.9" height="27.5" fill-opacity="0.03"/><rect x="234.4" y="1421.4" width="16.3" height="0.9" fill-opacity="0.04"/><rect x="234.4" y="1425.5" width="16.3" height="2.4" fill-opacity="0.07"/><rect x="234.4" y="1430.9" width="16.3" height="2.4" fill-opacity="0.07"/><rect x="234.4" y="1435.9" width="16.3" height="1.6" fill-opacity="0.02"/><rect x="234.4" y="1442.3" width="16.3" height="2" fill-opacity="0.07"/><rect x="250.7" y="1420" width="10.4" height="27.6" fill-opacity="0.02"/><rect x="252" y="1420" width="1.9" height="27.5" fill-opacity="0.06"/><rect x="255.6" y="1420" width="2.4" height="27.5" fill-opacity="0.09"/><rect x="250.7" y="1421.4" width="10.3" height="0.9" fill-opacity="0.10"/><rect x="250.7" y="1425.5" width="10.3" height="2.4" fill-opacity="0.18"/><rect x="250.7" y="1430.9" width="10.3" height="2.4" fill-opacity="0.16"/><rect x="250.7" y="1435.9" width="10.3" height="1.6" fill-opacity="0.06"/><rect x="250.7" y="1442.3" width="10.3" height="2" fill-opacity="0.17"/><rect x="261" y="1420" width="19.1" height="27.6" fill-opacity="0.02"/><rect x="263.3" y="1420" width="2.4" height="27.5" fill-opacity="0.09"/><rect x="269" y="1420" width="1.7" height="27.5" fill-opacity="0.14"/><rect x="274.7" y="1420" width="1.8" height="27.5" fill-opacity="0.13"/><rect x="261" y="1421.4" width="19" height="0.9" fill-opacity="0.10"/><rect x="261" y="1425.5" width="19" height="2.4" fill-opacity="0.18"/><rect x="261" y="1430.9" width="19" height="2.4" fill-opacity="0.16"/><rect x="261" y="1435.9" width="19" height="1.6" fill-opacity="0.06"/><rect x="261" y="1442.3" width="19" height="2" fill-opacity="0.17"/><rect x="280" y="1420" width="11.1" height="27.6"/><rect x="291" y="1420" width="19.1" height="27.6"/><rect x="310" y="1420" width="19.6" height="27.6"/><rect x="329.5" y="1420" width="10.7" height="27.6" fill-opacity="0.76"/><rect x="332.3" y="1420" width="1.4" height="27.5" fill-opacity="0.66"/><rect x="337.5" y="1420" width="1.3" height="27.5" fill-opacity="0.67"/><rect x="329.5" y="1421.4" width="10.7" height="0.9" fill-opacity="0.72"/><rect x="329.5" y="1425.5" width="10.7" height="2.4" fill-opacity="1.00"/><rect x="329.5" y="1430.9" width="10.7" height="2.4" fill-opacity="1.00"/><rect x="329.5" y="1435.9" width="10.7" height="1.6" fill-opacity="0.40"/><rect x="329.5" y="1442.3" width="10.7" height="2" fill-opacity="1.00"/><rect x="340.2" y="1420" width="7.9" height="27.6" fill-opacity="0.07"/><rect x="343.5" y="1420" width="0.8" height="27.5" fill-opacity="0.26"/><rect x="340.2" y="1421.4" width="7.8" height="0.9" fill-opacity="0.21"/><rect x="340.2" y="1425.5" width="7.8" height="2.4" fill-opacity="0.37"/><rect x="340.2" y="1430.9" width="7.8" height="2.4" fill-opacity="0.33"/><rect x="340.2" y="1435.9" width="7.8" height="1.6" fill-opacity="0.12"/><rect x="340.2" y="1442.3" width="7.8" height="2" fill-opacity="0.36"/><rect x="348" y="1420" width="35.4" height="27.6" fill-opacity="0.02"/><rect x="348.7" y="1420" width="1.4" height="27.5" fill-opacity="0.07"/><rect x="354.8" y="1420" width="1.2" height="27.5" fill-opacity="0.07"/><rect x="359.3" y="1420" width="2.1" height="27.5" fill-opacity="0.05"/><rect x="364.1" y="1420" width="1.4" height="27.5" fill-opacity="0.16"/><rect x="368.8" y="1420" width="2.3" height="27.5" fill-opacity="0.06"/><rect x="374" y="1420" width="2" height="27.5" fill-opacity="0.17"/><rect x="379.2" y="1420" width="1.2" height="27.5" fill-opacity="0.06"/><rect x="348" y="1421.4" width="35.3" height="0.9" fill-opacity="0.10"/><rect x="348" y="1425.5" width="35.3" height="2.4" fill-opacity="0.18"/><rect x="348" y="1430.9" width="35.3" height="2.4" fill-opacity="0.16"/><rect x="348" y="1435.9" width="35.3" height="1.6" fill-opacity="0.06"/><rect x="348" y="1442.3" width="35.3" height="2" fill-opacity="0.17"/><rect x="396.2" y="1420" width="16.9" height="27.6" fill-opacity="0.07"/><rect x="396.2" y="1420" width="1.7" height="27.5" fill-opacity="0.33"/><rect x="400.8" y="1420" width="1" height="27.5" fill-opacity="0.17"/><rect x="406.5" y="1420" width="1.3" height="27.5" fill-opacity="0.19"/><rect x="410.9" y="1420" width="1.6" height="27.5" fill-opacity="0.21"/><rect x="396.2" y="1421.4" width="16.8" height="0.9" fill-opacity="0.21"/><rect x="396.2" y="1425.5" width="16.8" height="2.4" fill-opacity="0.37"/><rect x="396.2" y="1430.9" width="16.8" height="2.4" fill-opacity="0.33"/><rect x="396.2" y="1435.9" width="16.8" height="1.6" fill-opacity="0.12"/><rect x="396.2" y="1442.3" width="16.8" height="2" fill-opacity="0.36"/><rect x="413" y="1420" width="32.2" height="27.6" fill-opacity="0.04"/><rect x="417.7" y="1420" width="1.1" height="27.5" fill-opacity="0.06"/><rect x="424" y="1420" width="2.4" height="27.5" fill-opacity="0.31"/><rect x="429.6" y="1420" width="2.5" height="27.5" fill-opacity="0.30"/><rect x="434.5" y="1420" width="2.1" height="27.5" fill-opacity="0.27"/><rect x="440.8" y="1420" width="1.7" height="27.5" fill-opacity="0.14"/><rect x="413" y="1421.4" width="32.1" height="0.9" fill-opacity="0.17"/><rect x="413" y="1425.5" width="32.1" height="2.4" fill-opacity="0.30"/><rect x="413" y="1430.9" width="32.1" height="2.4" fill-opacity="0.26"/><rect x="413" y="1435.9" width="32.1" height="1.6" fill-opacity="0.09"/><rect x="413" y="1442.3" width="32.1" height="2" fill-opacity="0.29"/><rect x="158.3" y="1447.5" width="49.8" height="21.1" fill-opacity="0.17"/><rect x="158.3" y="1447.5" width="0.1" height="21.1" fill-opacity="0.61"/><rect x="161.6" y="1447.5" width="1.9" height="21.1" fill-opacity="0.28"/><rect x="167.1" y="1447.5" width="1.5" height="21.1" fill-opacity="0.30"/><rect x="172.4" y="1447.5" width="1.9" height="21.1" fill-opacity="0.58"/><rect x="178.5" y="1447.5" width="2.5" height="21.1" fill-opacity="0.56"/><rect x="186.4" y="1447.5" width="2" height="21.1" fill-opacity="0.21"/><rect x="193.4" y="1447.5" width="2.5" height="21.1" fill-opacity="0.58"/><rect x="199.7" y="1447.5" width="2.1" height="21.1" fill-opacity="0.23"/><rect x="206.6" y="1447.5" width="1.5" height="21.1" fill-opacity="0.27"/><rect x="158.3" y="1448.9" width="49.8" height="2" fill-opacity="0.50"/><rect x="158.3" y="1454.7" width="49.8" height="1" fill-opacity="0.42"/><rect x="158.3" y="1457.2" width="49.8" height="1.1" fill-opacity="0.52"/><rect x="158.3" y="1459.9" width="49.8" height="1" fill-opacity="0.18"/><rect x="158.3" y="1465.9" width="49.8" height="1.1" fill-opacity="0.14"/><rect x="208.1" y="1447.5" width="26.4" height="21.1" fill-opacity="0.21"/><rect x="208.1" y="1447.5" width="0.3" height="21.1" fill-opacity="0.30"/><rect x="210.2" y="1447.5" width="2.3" height="21.1" fill-opacity="0.70"/><rect x="214.4" y="1447.5" width="2.2" height="21.1" fill-opacity="0.37"/><rect x="218.7" y="1447.5" width="1.3" height="21.1" fill-opacity="0.58"/><rect x="225" y="1447.5" width="0.9" height="21.1" fill-opacity="0.49"/><rect x="227.6" y="1447.5" width="2.1" height="21.1" fill-opacity="0.33"/><rect x="208.1" y="1448.9" width="26.3" height="2" fill-opacity="0.56"/><rect x="208.1" y="1454.7" width="26.3" height="1" fill-opacity="0.48"/><rect x="208.1" y="1457.2" width="26.3" height="1.1" fill-opacity="0.58"/><rect x="208.1" y="1459.9" width="26.3" height="1" fill-opacity="0.20"/><rect x="208.1" y="1465.9" width="26.3" height="1.1" fill-opacity="0.16"/><rect x="234.4" y="1447.5" width="16.3" height="21.1" fill-opacity="0.76"/><rect x="234.7" y="1447.5" width="2.6" height="21.1" fill-opacity="0.81"/><rect x="242.8" y="1447.5" width="1.4" height="21.1" fill-opacity="0.35"/><rect x="248" y="1447.5" width="0.9" height="21.1" fill-opacity="0.48"/><rect x="234.4" y="1448.9" width="16.3" height="2" fill-opacity="1.00"/><rect x="234.4" y="1454.7" width="16.3" height="1" fill-opacity="0.90"/><rect x="234.4" y="1457.2" width="16.3" height="1.1" fill-opacity="1.00"/><rect x="234.4" y="1459.9" width="16.3" height="1" fill-opacity="0.37"/><rect x="234.4" y="1465.9" width="16.3" height="1.1" fill-opacity="0.29"/><rect x="250.7" y="1447.5" width="10.4" height="21.1" fill-opacity="0.59"/><rect x="252" y="1447.5" width="1.9" height="21.1" fill-opacity="0.38"/><rect x="255.6" y="1447.5" width="2.4" height="21.1" fill-opacity="0.53"/><rect x="250.7" y="1448.9" width="10.3" height="2" fill-opacity="0.93"/><rect x="250.7" y="1454.7" width="10.3" height="1" fill-opacity="0.79"/><rect x="250.7" y="1457.2" width="10.3" height="1.1" fill-opacity="0.97"/><rect x="250.7" y="1459.9" width="10.3" height="1" fill-opacity="0.33"/><rect x="250.7" y="1465.9" width="10.3" height="1.1" fill-opacity="0.26"/><rect x="261" y="1447.5" width="19.1" height="21.1" fill-opacity="0.59"/><rect x="263.3" y="1447.5" width="2.4" height="21.1" fill-opacity="0.59"/><rect x="269" y="1447.5" width="1.7" height="21.1" fill-opacity="0.84"/><rect x="274.7" y="1447.5" width="1.8" height="21.1" fill-opacity="0.82"/><rect x="261" y="1448.9" width="19" height="2" fill-opacity="0.93"/><rect x="261" y="1454.7" width="19" height="1" fill-opacity="0.79"/><rect x="261" y="1457.2" width="19" height="1.1" fill-opacity="0.97"/><rect x="261" y="1459.9" width="19" height="1" fill-opacity="0.33"/><rect x="261" y="1465.9" width="19" height="1.1" fill-opacity="0.26"/><rect x="280" y="1447.5" width="11.1" height="21.1" fill-opacity="0.04"/><rect x="281.7" y="1447.5" width="1.7" height="21.1" fill-opacity="0.17"/><rect x="287.8" y="1447.5" width="1.2" height="21.1" fill-opacity="0.14"/><rect x="280" y="1448.9" width="11" height="2" fill-opacity="0.25"/><rect x="280" y="1454.7" width="11" height="1" fill-opacity="0.21"/><rect x="280" y="1457.2" width="11" height="1.1" fill-opacity="0.26"/><rect x="280" y="1459.9" width="11" height="1" fill-opacity="0.09"/><rect x="280" y="1465.9" width="11" height="1.1" fill-opacity="0.07"/><rect x="291" y="1447.5" width="19.1" height="21.1" fill-opacity="0.04"/><rect x="294.5" y="1447.5" width="1.7" height="21.1" fill-opacity="0.20"/><rect x="297.7" y="1447.5" width="1.5" height="21.1" fill-opacity="0.21"/><rect x="300.9" y="1447.5" width="1.9" height="21.1" fill-opacity="0.22"/><rect x="304.5" y="1447.5" width="1.9" height="21.1" fill-opacity="0.18"/><rect x="291" y="1448.9" width="19" height="2" fill-opacity="0.25"/><rect x="291" y="1454.7" width="19" height="1" fill-opacity="0.21"/><rect x="291" y="1457.2" width="19" height="1.1" fill-opacity="0.26"/><rect x="291" y="1459.9" width="19" height="1" fill-opacity="0.09"/><rect x="291" y="1465.9" width="19" height="1.1" fill-opacity="0.07"/><rect x="310" y="1447.5" width="19.6" height="21.1" fill-opacity="0.04"/><rect x="310.7" y="1447.5" width="1.4" height="21.1" fill-opacity="0.24"/><rect x="316.6" y="1447.5" width="0.8" height="21.1" fill-opacity="0.08"/><rect x="321.6" y="1447.5" width="2.5" height="21.1" fill-opacity="0.13"/><rect x="327.5" y="1447.5" width="1.9" height="21.1" fill-opacity="0.14"/><rect x="310" y="1448.9" width="19.5" height="2" fill-opacity="0.25"/><rect x="310" y="1454.7" width="19.5" height="1" fill-opacity="0.21"/><rect x="310" y="1457.2" width="19.5" height="1.1" fill-opacity="0.26"/><rect x="310" y="1459.9" width="19.5" height="1" fill-opacity="0.09"/><rect x="310" y="1465.9" width="19.5" height="1.1" fill-opacity="0.07"/><rect x="329.5" y="1447.5" width="10.7" height="21.1" fill-opacity="0.02"/><rect x="332.3" y="1447.5" width="1.4" height="21.1" fill-opacity="0.12"/><rect x="337.5" y="1447.5" width="1.3" height="21.1" fill-opacity="0.12"/><rect x="329.5" y="1448.9" width="10.7" height="2" fill-opacity="0.19"/><rect x="329.5" y="1454.7" width="10.7" height="1" fill-opacity="0.16"/><rect x="329.5" y="1457.2" width="10.7" height="1.1" fill-opacity="0.19"/><rect x="329.5" y="1459.9" width="10.7" height="1" fill-opacity="0.07"/><rect x="329.5" y="1465.9" width="10.7" height="1.1" fill-opacity="0.05"/><rect x="340.2" y="1447.5" width="7.9" height="21.1" fill-opacity="0.01"/><rect x="343.5" y="1447.5" width="0.8" height="21.1" fill-opacity="0.08"/><rect x="340.2" y="1448.9" width="7.8" height="2" fill-opacity="0.10"/><rect x="340.2" y="1454.7" width="7.8" height="1" fill-opacity="0.08"/><rect x="340.2" y="1457.2" width="7.8" height="1.1" fill-opacity="0.10"/><rect x="340.2" y="1459.9" width="7.8" height="1" fill-opacity="0.04"/><rect x="340.2" y="1465.9" width="7.8" height="1.1" fill-opacity="0.03"/><rect x="348" y="1447.5" width="35.4" height="21.1" fill-opacity="0.00"/><rect x="348.7" y="1447.5" width="1.4" height="21.1" fill-opacity="0.03"/><rect x="354.8" y="1447.5" width="1.2" height="21.1" fill-opacity="0.03"/><rect x="359.3" y="1447.5" width="2.1" height="21.1" fill-opacity="0.02"/><rect x="364.1" y="1447.5" width="1.4" height="21.1" fill-opacity="0.07"/><rect x="368.8" y="1447.5" width="2.3" height="21.1" fill-opacity="0.03"/><rect x="374" y="1447.5" width="2" height="21.1" fill-opacity="0.07"/><rect x="379.2" y="1447.5" width="1.2" height="21.1" fill-opacity="0.02"/><rect x="348" y="1448.9" width="35.3" height="2" fill-opacity="0.06"/><rect x="348" y="1454.7" width="35.3" height="1" fill-opacity="0.05"/><rect x="348" y="1457.2" width="35.3" height="1.1" fill-opacity="0.06"/><rect x="348" y="1459.9" width="35.3" height="1" fill-opacity="0.02"/><rect x="348" y="1465.9" width="35.3" height="1.1" fill-opacity="0.02"/><rect x="383.3" y="1447.5" width="12.9" height="21.1" fill-opacity="0.09"/><rect x="384.1" y="1447.5" width="1.1" height="21.1" fill-opacity="0.40"/><rect x="390.1" y="1447.5" width="1.1" height="21.1" fill-opacity="0.20"/><rect x="395.9" y="1447.5" width="0.3" height="21.1" fill-opacity="0.40"/><rect x="383.3" y="1448.9" width="12.9" height="2" fill-opacity="0.37"/><rect x="383.3" y="1454.7" width="12.9" height="1" fill-opacity="0.32"/><rect x="383.3" y="1457.2" width="12.9" height="1.1" fill-opacity="0.39"/><rect x="383.3" y="1459.9" width="12.9" height="1" fill-opacity="0.13"/><rect x="383.3" y="1465.9" width="12.9" height="1.1" fill-opacity="0.10"/><rect x="396.2" y="1447.5" width="16.9" height="21.1" fill-opacity="0.13"/><rect x="396.2" y="1447.5" width="1.7" height="21.1" fill-opacity="0.47"/><rect x="400.8" y="1447.5" width="1" height="21.1" fill-opacity="0.24"/><rect x="406.5" y="1447.5" width="1.3" height="21.1" fill-opacity="0.26"/><rect x="410.9" y="1447.5" width="1.6" height="21.1" fill-opacity="0.29"/><rect x="396.2" y="1448.9" width="16.8" height="2" fill-opacity="0.43"/><rect x="396.2" y="1454.7" width="16.8" height="1" fill-opacity="0.37"/><rect x="396.2" y="1457.2" width="16.8" height="1.1" fill-opacity="0.45"/><rect x="396.2" y="1459.9" width="16.8" height="1" fill-opacity="0.15"/><rect x="396.2" y="1465.9" width="16.8" height="1.1" fill-opacity="0.12"/><rect x="413" y="1447.5" width="32.2" height="21.1" fill-opacity="0.09"/><rect x="417.7" y="1447.5" width="1.1" height="21.1" fill-opacity="0.10"/><rect x="424" y="1447.5" width="2.4" height="21.1" fill-opacity="0.47"/><rect x="429.6" y="1447.5" width="2.5" height="21.1" fill-opacity="0.45"/><rect x="434.5" y="1447.5" width="2.1" height="21.1" fill-opacity="0.41"/><rect x="440.8" y="1447.5" width="1.7" height="21.1" fill-opacity="0.20"/><rect x="413" y="1448.9" width="32.1" height="2" fill-opacity="0.37"/><rect x="413" y="1454.7" width="32.1" height="1" fill-opacity="0.32"/><rect x="413" y="1457.2" width="32.1" height="1.1" fill-opacity="0.39"/><rect x="413" y="1459.9" width="32.1" height="1" fill-opacity="0.13"/><rect x="413" y="1465.9" width="32.1" height="1.1" fill-opacity="0.10"/><rect x="88.2" y="1468.6" width="70.2" height="24.3" fill-opacity="0.00"/><rect x="158.3" y="1468.6" width="49.8" height="24.3" fill-opacity="0.00"/><rect x="158.3" y="1468.6" width="0.1" height="24.2" fill-opacity="0.08"/><rect x="161.6" y="1468.6" width="1.9" height="24.2" fill-opacity="0.03"/><rect x="167.1" y="1468.6" width="1.5" height="24.2" fill-opacity="0.04"/><rect x="172.4" y="1468.6" width="1.9" height="24.2" fill-opacity="0.07"/><rect x="178.5" y="1468.6" width="2.5" height="24.2" fill-opacity="0.07"/><rect x="186.4" y="1468.6" width="2" height="24.2" fill-opacity="0.03"/><rect x="193.4" y="1468.6" width="2.5" height="24.2" fill-opacity="0.07"/><rect x="199.7" y="1468.6" width="2.1" height="24.2" fill-opacity="0.03"/><rect x="206.6" y="1468.6" width="1.5" height="24.2" fill-opacity="0.03"/><rect x="158.3" y="1471.9" width="49.8" height="1" fill-opacity="0.07"/><rect x="158.3" y="1477.1" width="49.8" height="2.3" fill-opacity="0.08"/><rect x="158.3" y="1483.2" width="49.8" height="2.2" fill-opacity="0.02"/><rect x="158.3" y="1490.1" width="49.8" height="1.7" fill-opacity="0.06"/><rect x="208.1" y="1468.6" width="26.4" height="24.3" fill-opacity="0.02"/><rect x="208.1" y="1468.6" width="0.3" height="24.2" fill-opacity="0.10"/><rect x="210.2" y="1468.6" width="2.3" height="24.2" fill-opacity="0.23"/><rect x="214.4" y="1468.6" width="2.2" height="24.2" fill-opacity="0.12"/><rect x="218.7" y="1468.6" width="1.3" height="24.2" fill-opacity="0.19"/><rect x="225" y="1468.6" width="0.9" height="24.2" fill-opacity="0.16"/><rect x="227.6" y="1468.6" width="2.1" height="24.2" fill-opacity="0.11"/><rect x="208.1" y="1471.9" width="26.3" height="1" fill-opacity="0.21"/><rect x="208.1" y="1477.1" width="26.3" height="2.3" fill-opacity="0.23"/><rect x="208.1" y="1483.2" width="26.3" height="2.2" fill-opacity="0.05"/><rect x="208.1" y="1490.1" width="26.3" height="1.7" fill-opacity="0.18"/><rect x="234.4" y="1468.6" width="16.3" height="24.3"/><rect x="250.7" y="1468.6" width="10.4" height="24.3" fill-opacity="0.67"/><rect x="252" y="1468.6" width="1.9" height="24.2" fill-opacity="0.41"/><rect x="255.6" y="1468.6" width="2.4" height="24.2" fill-opacity="0.57"/><rect x="250.7" y="1471.9" width="10.3" height="1" fill-opacity="1.00"/><rect x="250.7" y="1477.1" width="10.3" height="2.3" fill-opacity="1.00"/><rect x="250.7" y="1483.2" width="10.3" height="2.2" fill-opacity="0.29"/><rect x="250.7" y="1490.1" width="10.3" height="1.7" fill-opacity="0.97"/><rect x="261" y="1468.6" width="19.1" height="24.3" fill-opacity="0.67"/><rect x="263.3" y="1468.6" width="2.4" height="24.2" fill-opacity="0.63"/><rect x="269" y="1468.6" width="1.7" height="24.2" fill-opacity="0.90"/><rect x="274.7" y="1468.6" width="1.8" height="24.2" fill-opacity="0.88"/><rect x="261" y="1471.9" width="19" height="1" fill-opacity="1.00"/><rect x="261" y="1477.1" width="19" height="2.3" fill-opacity="1.00"/><rect x="261" y="1483.2" width="19" height="2.2" fill-opacity="0.29"/><rect x="261" y="1490.1" width="19" height="1.7" fill-opacity="0.97"/><rect x="280" y="1468.6" width="11.1" height="24.3" fill-opacity="0.00"/><rect x="281.7" y="1468.6" width="1.7" height="24.2" fill-opacity="0.04"/><rect x="287.8" y="1468.6" width="1.2" height="24.2" fill-opacity="0.03"/><rect x="280" y="1471.9" width="11" height="1" fill-opacity="0.07"/><rect x="280" y="1477.1" width="11" height="2.3" fill-opacity="0.08"/><rect x="280" y="1483.2" width="11" height="2.2" fill-opacity="0.02"/><rect x="280" y="1490.1" width="11" height="1.7" fill-opacity="0.06"/><rect x="291" y="1468.6" width="19.1" height="24.3" fill-opacity="0.00"/><rect x="294.5" y="1468.6" width="1.7" height="24.2" fill-opacity="0.05"/><rect x="297.7" y="1468.6" width="1.5" height="24.2" fill-opacity="0.05"/><rect x="300.9" y="1468.6" width="1.9" height="24.2" fill-opacity="0.06"/><rect x="304.5" y="1468.6" width="1.9" height="24.2" fill-opacity="0.05"/><rect x="291" y="1471.9" width="19" height="1" fill-opacity="0.07"/><rect x="291" y="1477.1" width="19" height="2.3" fill-opacity="0.08"/><rect x="291" y="1483.2" width="19" height="2.2" fill-opacity="0.02"/><rect x="291" y="1490.1" width="19" height="1.7" fill-opacity="0.06"/><rect x="310" y="1468.6" width="19.6" height="24.3" fill-opacity="0.00"/><rect x="310.7" y="1468.6" width="1.4" height="24.2" fill-opacity="0.06"/><rect x="316.6" y="1468.6" width="0.8" height="24.2" fill-opacity="0.02"/><rect x="321.6" y="1468.6" width="2.5" height="24.2" fill-opacity="0.03"/><rect x="327.5" y="1468.6" width="1.9" height="24.2" fill-opacity="0.04"/><rect x="310" y="1471.9" width="19.5" height="1" fill-opacity="0.07"/><rect x="310" y="1477.1" width="19.5" height="2.3" fill-opacity="0.08"/><rect x="310" y="1483.2" width="19.5" height="2.2" fill-opacity="0.02"/><rect x="310" y="1490.1" width="19.5" height="1.7" fill-opacity="0.06"/><rect x="329.5" y="1468.6" width="10.7" height="24.3" fill-opacity="0.00"/><rect x="332.3" y="1468.6" width="1.4" height="24.2" fill-opacity="0.04"/><rect x="337.5" y="1468.6" width="1.3" height="24.2" fill-opacity="0.04"/><rect x="329.5" y="1471.9" width="10.7" height="1" fill-opacity="0.07"/><rect x="329.5" y="1477.1" width="10.7" height="2.3" fill-opacity="0.08"/><rect x="329.5" y="1483.2" width="10.7" height="2.2" fill-opacity="0.02"/><rect x="329.5" y="1490.1" width="10.7" height="1.7" fill-opacity="0.06"/><rect x="340.2" y="1468.6" width="7.9" height="24.3" fill-opacity="0.04"/><rect x="343.5" y="1468.6" width="0.8" height="24.2" fill-opacity="0.21"/><rect x="340.2" y="1471.9" width="7.8" height="1" fill-opacity="0.28"/><rect x="340.2" y="1477.1" width="7.8" height="2.3" fill-opacity="0.30"/><rect x="340.2" y="1483.2" width="7.8" height="2.2" fill-opacity="0.07"/><rect x="340.2" y="1490.1" width="7.8" height="1.7" fill-opacity="0.24"/><rect x="348" y="1468.6" width="35.4" height="24.3" fill-opacity="0.00"/><rect x="348.7" y="1468.6" width="1.4" height="24.2" fill-opacity="0.03"/><rect x="354.8" y="1468.6" width="1.2" height="24.2" fill-opacity="0.03"/><rect x="359.3" y="1468.6" width="2.1" height="24.2" fill-opacity="0.02"/><rect x="364.1" y="1468.6" width="1.4" height="24.2" fill-opacity="0.07"/><rect x="368.8" y="1468.6" width="2.3" height="24.2" fill-opacity="0.03"/><rect x="374" y="1468.6" width="2" height="24.2" fill-opacity="0.07"/><rect x="379.2" y="1468.6" width="1.2" height="24.2" fill-opacity="0.02"/><rect x="348" y="1471.9" width="35.3" height="1" fill-opacity="0.07"/><rect x="348" y="1477.1" width="35.3" height="2.3" fill-opacity="0.08"/><rect x="348" y="1483.2" width="35.3" height="2.2" fill-opacity="0.02"/><rect x="348" y="1490.1" width="35.3" height="1.7" fill-opacity="0.06"/><rect x="383.3" y="1468.6" width="12.9" height="24.3" fill-opacity="0.00"/><rect x="384.1" y="1468.6" width="1.1" height="24.2" fill-opacity="0.07"/><rect x="390.1" y="1468.6" width="1.1" height="24.2" fill-opacity="0.03"/><rect x="395.9" y="1468.6" width="0.3" height="24.2" fill-opacity="0.07"/><rect x="383.3" y="1471.9" width="12.9" height="1" fill-opacity="0.07"/><rect x="383.3" y="1477.1" width="12.9" height="2.3" fill-opacity="0.08"/><rect x="383.3" y="1483.2" width="12.9" height="2.2" fill-opacity="0.02"/><rect x="383.3" y="1490.1" width="12.9" height="1.7" fill-opacity="0.06"/><rect x="396.2" y="1468.6" width="16.9" height="24.3" fill-opacity="0.26"/><rect x="396.2" y="1468.6" width="1.7" height="24.2" fill-opacity="0.67"/><rect x="400.8" y="1468.6" width="1" height="24.2" fill-opacity="0.34"/><rect x="406.5" y="1468.6" width="1.3" height="24.2" fill-opacity="0.38"/><rect x="410.9" y="1468.6" width="1.6" height="24.2" fill-opacity="0.42"/><rect x="396.2" y="1471.9" width="16.8" height="1" fill-opacity="0.69"/><rect x="396.2" y="1477.1" width="16.8" height="2.3" fill-opacity="0.76"/><rect x="396.2" y="1483.2" width="16.8" height="2.2" fill-opacity="0.18"/><rect x="396.2" y="1490.1" width="16.8" height="1.7" fill-opacity="0.61"/><rect x="413" y="1468.6" width="32.2" height="24.3" fill-opacity="0.13"/><rect x="417.7" y="1468.6" width="1.1" height="24.2" fill-opacity="0.11"/><rect x="424" y="1468.6" width="2.4" height="24.2" fill-opacity="0.55"/><rect x="429.6" y="1468.6" width="2.5" height="24.2" fill-opacity="0.52"/><rect x="434.5" y="1468.6" width="2.1" height="24.2" fill-opacity="0.48"/><rect x="440.8" y="1468.6" width="1.7" height="24.2" fill-opacity="0.24"/><rect x="413" y="1471.9" width="32.1" height="1" fill-opacity="0.48"/><rect x="413" y="1477.1" width="32.1" height="2.3" fill-opacity="0.53"/><rect x="413" y="1483.2" width="32.1" height="2.2" fill-opacity="0.13"/><rect x="413" y="1490.1" width="32.1" height="1.7" fill-opacity="0.43"/><rect x="158.3" y="1492.8" width="49.8" height="27.6" fill-opacity="0.59"/><rect x="158.3" y="1492.8" width="0.1" height="27.5" fill-opacity="1.00"/><rect x="161.6" y="1492.8" width="1.9" height="27.5" fill-opacity="0.52"/><rect x="167.1" y="1492.8" width="1.5" height="27.5" fill-opacity="0.57"/><rect x="172.4" y="1492.8" width="1.9" height="27.5" fill-opacity="1.00"/><rect x="178.5" y="1492.8" width="2.5" height="27.5" fill-opacity="1.00"/><rect x="186.4" y="1492.8" width="2" height="27.5" fill-opacity="0.39"/><rect x="193.4" y="1492.8" width="2.5" height="27.5" fill-opacity="1.00"/><rect x="199.7" y="1492.8" width="2.1" height="27.5" fill-opacity="0.44"/><rect x="206.6" y="1492.8" width="1.5" height="27.5" fill-opacity="0.51"/><rect x="158.3" y="1493.7" width="49.8" height="2.1" fill-opacity="1.00"/><rect x="158.3" y="1497.6" width="49.8" height="1.4" fill-opacity="0.77"/><rect x="158.3" y="1503.8" width="49.8" height="1.2" fill-opacity="0.41"/><rect x="158.3" y="1507.5" width="49.8" height="1.9" fill-opacity="0.95"/><rect x="158.3" y="1512.5" width="49.8" height="1.5" fill-opacity="0.61"/><rect x="158.3" y="1516.9" width="49.8" height="1.6" fill-opacity="0.31"/><rect x="208.1" y="1492.8" width="26.4" height="27.6" fill-opacity="0.51"/><rect x="208.1" y="1492.8" width="0.3" height="27.5" fill-opacity="0.47"/><rect x="210.2" y="1492.8" width="2.3" height="27.5" fill-opacity="1.00"/><rect x="214.4" y="1492.8" width="2.2" height="27.5" fill-opacity="0.58"/><rect x="218.7" y="1492.8" width="1.3" height="27.5" fill-opacity="0.90"/><rect x="225" y="1492.8" width="0.9" height="27.5" fill-opacity="0.76"/><rect x="227.6" y="1492.8" width="2.1" height="27.5" fill-opacity="0.51"/><rect x="208.1" y="1493.7" width="26.3" height="2.1" fill-opacity="1.00"/><rect x="208.1" y="1497.6" width="26.3" height="1.4" fill-opacity="0.72"/><rect x="208.1" y="1503.8" width="26.3" height="1.2" fill-opacity="0.38"/><rect x="208.1" y="1507.5" width="26.3" height="1.9" fill-opacity="0.89"/><rect x="208.1" y="1512.5" width="26.3" height="1.5" fill-opacity="0.57"/><rect x="208.1" y="1516.9" width="26.3" height="1.6" fill-opacity="0.29"/><rect x="234.4" y="1492.8" width="16.3" height="27.6" fill-opacity="0.01"/><rect x="234.7" y="1492.8" width="2.6" height="27.5" fill-opacity="0.10"/><rect x="242.8" y="1492.8" width="1.4" height="27.5" fill-opacity="0.04"/><rect x="248" y="1492.8" width="0.9" height="27.5" fill-opacity="0.06"/><rect x="234.4" y="1493.7" width="16.3" height="2.1" fill-opacity="0.15"/><rect x="234.4" y="1497.6" width="16.3" height="1.4" fill-opacity="0.10"/><rect x="234.4" y="1503.8" width="16.3" height="1.2" fill-opacity="0.05"/><rect x="234.4" y="1507.5" width="16.3" height="1.9" fill-opacity="0.13"/><rect x="234.4" y="1512.5" width="16.3" height="1.5" fill-opacity="0.08"/><rect x="234.4" y="1516.9" width="16.3" height="1.6" fill-opacity="0.04"/><rect x="250.7" y="1492.8" width="10.4" height="27.6" fill-opacity="0.02"/><rect x="252" y="1492.8" width="1.9" height="27.5" fill-opacity="0.08"/><rect x="255.6" y="1492.8" width="2.4" height="27.5" fill-opacity="0.11"/><rect x="250.7" y="1493.7" width="10.3" height="2.1" fill-opacity="0.22"/><rect x="250.7" y="1497.6" width="10.3" height="1.4" fill-opacity="0.15"/><rect x="250.7" y="1503.8" width="10.3" height="1.2" fill-opacity="0.08"/><rect x="250.7" y="1507.5" width="10.3" height="1.9" fill-opacity="0.19"/><rect x="250.7" y="1512.5" width="10.3" height="1.5" fill-opacity="0.12"/><rect x="250.7" y="1516.9" width="10.3" height="1.6" fill-opacity="0.06"/><rect x="261" y="1492.8" width="19.1" height="27.6" fill-opacity="0.21"/><rect x="263.3" y="1492.8" width="2.4" height="27.5" fill-opacity="0.36"/><rect x="269" y="1492.8" width="1.7" height="27.5" fill-opacity="0.51"/><rect x="274.7" y="1492.8" width="1.8" height="27.5" fill-opacity="0.49"/><rect x="261" y="1493.7" width="19" height="2.1" fill-opacity="0.67"/><rect x="261" y="1497.6" width="19" height="1.4" fill-opacity="0.46"/><rect x="261" y="1503.8" width="19" height="1.2" fill-opacity="0.24"/><rect x="261" y="1507.5" width="19" height="1.9" fill-opacity="0.57"/><rect x="261" y="1512.5" width="19" height="1.5" fill-opacity="0.37"/><rect x="261" y="1516.9" width="19" height="1.6" fill-opacity="0.19"/><rect x="280" y="1492.8" width="11.1" height="27.6" fill-opacity="0.38"/><rect x="281.7" y="1492.8" width="1.7" height="27.5" fill-opacity="0.51"/><rect x="287.8" y="1492.8" width="1.2" height="27.5" fill-opacity="0.42"/><rect x="280" y="1493.7" width="11" height="2.1" fill-opacity="0.90"/><rect x="280" y="1497.6" width="11" height="1.4" fill-opacity="0.62"/><rect x="280" y="1503.8" width="11" height="1.2" fill-opacity="0.32"/><rect x="280" y="1507.5" width="11" height="1.9" fill-opacity="0.76"/><rect x="280" y="1512.5" width="11" height="1.5" fill-opacity="0.49"/><rect x="280" y="1516.9" width="11" height="1.6" fill-opacity="0.25"/><rect x="291" y="1492.8" width="19.1" height="27.6" fill-opacity="0.32"/><rect x="294.5" y="1492.8" width="1.7" height="27.5" fill-opacity="0.55"/><rect x="297.7" y="1492.8" width="1.5" height="27.5" fill-opacity="0.58"/><rect x="300.9" y="1492.8" width="1.9" height="27.5" fill-opacity="0.61"/><rect x="304.5" y="1492.8" width="1.9" height="27.5" fill-opacity="0.50"/><rect x="291" y="1493.7" width="19" height="2.1" fill-opacity="0.82"/><rect x="291" y="1497.6" width="19" height="1.4" fill-opacity="0.56"/><rect x="291" y="1503.8" width="19" height="1.2" fill-opacity="0.30"/><rect x="291" y="1507.5" width="19" height="1.9" fill-opacity="0.70"/><rect x="291" y="1512.5" width="19" height="1.5" fill-opacity="0.45"/><rect x="291" y="1516.9" width="19" height="1.6" fill-opacity="0.23"/><rect x="310" y="1492.8" width="19.6" height="27.6" fill-opacity="0.26"/><rect x="310.7" y="1492.8" width="1.4" height="27.5" fill-opacity="0.60"/><rect x="316.6" y="1492.8" width="0.8" height="27.5" fill-opacity="0.20"/><rect x="321.6" y="1492.8" width="2.5" height="27.5" fill-opacity="0.32"/><rect x="327.5" y="1492.8" width="1.9" height="27.5" fill-opacity="0.36"/><rect x="310" y="1493.7" width="19.5" height="2.1" fill-opacity="0.75"/><rect x="310" y="1497.6" width="19.5" height="1.4" fill-opacity="0.51"/><rect x="310" y="1503.8" width="19.5" height="1.2" fill-opacity="0.27"/><rect x="310" y="1507.5" width="19.5" height="1.9" fill-opacity="0.63"/><rect x="310" y="1512.5" width="19.5" height="1.5" fill-opacity="0.41"/><rect x="310" y="1516.9" width="19.5" height="1.6" fill-opacity="0.21"/><rect x="329.5" y="1492.8" width="10.7" height="27.6" fill-opacity="0.26"/><rect x="332.3" y="1492.8" width="1.4" height="27.5" fill-opacity="0.39"/><rect x="337.5" y="1492.8" width="1.3" height="27.5" fill-opacity="0.40"/><rect x="329.5" y="1493.7" width="10.7" height="2.1" fill-opacity="0.75"/><rect x="329.5" y="1497.6" width="10.7" height="1.4" fill-opacity="0.51"/><rect x="329.5" y="1503.8" width="10.7" height="1.2" fill-opacity="0.27"/><rect x="329.5" y="1507.5" width="10.7" height="1.9" fill-opacity="0.63"/><rect x="329.5" y="1512.5" width="10.7" height="1.5" fill-opacity="0.41"/><rect x="329.5" y="1516.9" width="10.7" height="1.6" fill-opacity="0.21"/><rect x="340.2" y="1492.8" width="7.9" height="27.6" fill-opacity="0.04"/><rect x="343.5" y="1492.8" width="0.8" height="27.5" fill-opacity="0.21"/><rect x="340.2" y="1493.7" width="7.8" height="2.1" fill-opacity="0.30"/><rect x="340.2" y="1497.6" width="7.8" height="1.4" fill-opacity="0.21"/><rect x="340.2" y="1503.8" width="7.8" height="1.2" fill-opacity="0.11"/><rect x="340.2" y="1507.5" width="7.8" height="1.9" fill-opacity="0.25"/><rect x="340.2" y="1512.5" width="7.8" height="1.5" fill-opacity="0.16"/><rect x="340.2" y="1516.9" width="7.8" height="1.6" fill-opacity="0.08"/><rect x="348" y="1492.8" width="35.4" height="27.6" fill-opacity="0.02"/><rect x="348.7" y="1492.8" width="1.4" height="27.5" fill-opacity="0.07"/><rect x="354.8" y="1492.8" width="1.2" height="27.5" fill-opacity="0.07"/><rect x="359.3" y="1492.8" width="2.1" height="27.5" fill-opacity="0.05"/><rect x="364.1" y="1492.8" width="1.4" height="27.5" fill-opacity="0.16"/><rect x="368.8" y="1492.8" width="2.3" height="27.5" fill-opacity="0.06"/><rect x="374" y="1492.8" width="2" height="27.5" fill-opacity="0.17"/><rect x="379.2" y="1492.8" width="1.2" height="27.5" fill-opacity="0.06"/><rect x="348" y="1493.7" width="35.3" height="2.1" fill-opacity="0.18"/><rect x="348" y="1497.6" width="35.3" height="1.4" fill-opacity="0.12"/><rect x="348" y="1503.8" width="35.3" height="1.2" fill-opacity="0.06"/><rect x="348" y="1507.5" width="35.3" height="1.9" fill-opacity="0.15"/><rect x="348" y="1512.5" width="35.3" height="1.5" fill-opacity="0.10"/><rect x="348" y="1516.9" width="35.3" height="1.6" fill-opacity="0.05"/><rect x="383.3" y="1492.8" width="12.9" height="27.6" fill-opacity="0.07"/><rect x="384.1" y="1492.8" width="1.1" height="27.5" fill-opacity="0.33"/><rect x="390.1" y="1492.8" width="1.1" height="27.5" fill-opacity="0.17"/><rect x="395.9" y="1492.8" width="0.3" height="27.5" fill-opacity="0.33"/><rect x="383.3" y="1493.7" width="12.9" height="2.1" fill-opacity="0.37"/><rect x="383.3" y="1497.6" width="12.9" height="1.4" fill-opacity="0.26"/><rect x="383.3" y="1503.8" width="12.9" height="1.2" fill-opacity="0.14"/><rect x="383.3" y="1507.5" width="12.9" height="1.9" fill-opacity="0.32"/><rect x="383.3" y="1512.5" width="12.9" height="1.5" fill-opacity="0.20"/><rect x="383.3" y="1516.9" width="12.9" height="1.6" fill-opacity="0.10"/><rect x="396.2" y="1492.8" width="16.9" height="27.6" fill-opacity="0.21"/><rect x="396.2" y="1492.8" width="1.7" height="27.5" fill-opacity="0.60"/><rect x="400.8" y="1492.8" width="1" height="27.5" fill-opacity="0.31"/><rect x="406.5" y="1492.8" width="1.3" height="27.5" fill-opacity="0.34"/><rect x="410.9" y="1492.8" width="1.6" height="27.5" fill-opacity="0.37"/><rect x="396.2" y="1493.7" width="16.8" height="2.1" fill-opacity="0.67"/><rect x="396.2" y="1497.6" width="16.8" height="1.4" fill-opacity="0.46"/><rect x="396.2" y="1503.8" width="16.8" height="1.2" fill-opacity="0.24"/><rect x="396.2" y="1507.5" width="16.8" height="1.9" fill-opacity="0.57"/><rect x="396.2" y="1512.5" width="16.8" height="1.5" fill-opacity="0.37"/><rect x="396.2" y="1516.9" width="16.8" height="1.6" fill-opacity="0.19"/><rect x="413" y="1492.8" width="32.2" height="27.6" fill-opacity="0.21"/><rect x="417.7" y="1492.8" width="1.1" height="27.5" fill-opacity="0.14"/><rect x="424" y="1492.8" width="2.4" height="27.5" fill-opacity="0.70"/><rect x="429.6" y="1492.8" width="2.5" height="27.5" fill-opacity="0.67"/><rect x="434.5" y="1492.8" width="2.1" height="27.5" fill-opacity="0.62"/><rect x="440.8" y="1492.8" width="1.7" height="27.5" fill-opacity="0.31"/><rect x="413" y="1493.7" width="32.1" height="2.1" fill-opacity="0.67"/><rect x="413" y="1497.6" width="32.1" height="1.4" fill-opacity="0.46"/><rect x="413" y="1503.8" width="32.1" height="1.2" fill-opacity="0.24"/><rect x="413" y="1507.5" width="32.1" height="1.9" fill-opacity="0.57"/><rect x="413" y="1512.5" width="32.1" height="1.5" fill-opacity="0.37"/><rect x="413" y="1516.9" width="32.1" height="1.6" fill-opacity="0.19"/><rect x="158.3" y="1520.3" width="49.8" height="47.5"/><rect x="208.1" y="1520.3" width="26.4" height="47.5" fill-opacity="0.51"/><rect x="208.1" y="1520.3" width="0.3" height="47.5" fill-opacity="0.47"/><rect x="210.2" y="1520.3" width="2.3" height="47.5" fill-opacity="1.00"/><rect x="214.4" y="1520.3" width="2.2" height="47.5" fill-opacity="0.58"/><rect x="218.7" y="1520.3" width="1.3" height="47.5" fill-opacity="0.90"/><rect x="225" y="1520.3" width="0.9" height="47.5" fill-opacity="0.76"/><rect x="227.6" y="1520.3" width="2.1" height="47.5" fill-opacity="0.51"/><rect x="208.1" y="1521.9" width="26.3" height="2.6" fill-opacity="0.58"/><rect x="208.1" y="1529" width="26.3" height="1.1" fill-opacity="0.83"/><rect x="208.1" y="1534.6" width="26.3" height="2" fill-opacity="0.68"/><rect x="208.1" y="1540" width="26.3" height="2" fill-opacity="1.00"/><rect x="208.1" y="1544.1" width="26.3" height="1" fill-opacity="0.88"/><rect x="208.1" y="1550.2" width="26.3" height="1.7" fill-opacity="0.61"/><rect x="208.1" y="1556.3" width="26.3" height="1.1" fill-opacity="0.46"/><rect x="208.1" y="1559.8" width="26.3" height="1.9" fill-opacity="0.50"/><rect x="208.1" y="1564" width="26.3" height="2" fill-opacity="1.00"/><rect x="234.4" y="1520.3" width="16.3" height="47.5" fill-opacity="0.00"/><rect x="234.7" y="1520.3" width="2.6" height="47.5" fill-opacity="0.05"/><rect x="242.8" y="1520.3" width="1.4" height="47.5" fill-opacity="0.02"/><rect x="248" y="1520.3" width="0.9" height="47.5" fill-opacity="0.03"/><rect x="234.4" y="1521.9" width="16.3" height="2.6" fill-opacity="0.04"/><rect x="234.4" y="1529" width="16.3" height="1.1" fill-opacity="0.06"/><rect x="234.4" y="1534.6" width="16.3" height="2" fill-opacity="0.05"/><rect x="234.4" y="1540" width="16.3" height="2" fill-opacity="0.07"/><rect x="234.4" y="1544.1" width="16.3" height="1" fill-opacity="0.06"/><rect x="234.4" y="1550.2" width="16.3" height="1.7" fill-opacity="0.04"/><rect x="234.4" y="1556.3" width="16.3" height="1.1" fill-opacity="0.03"/><rect x="234.4" y="1559.8" width="16.3" height="1.9" fill-opacity="0.04"/><rect x="234.4" y="1564" width="16.3" height="2" fill-opacity="0.08"/><rect x="250.7" y="1520.3" width="10.4" height="47.5" fill-opacity="0.00"/><rect x="261" y="1520.3" width="19.1" height="47.5" fill-opacity="0.21"/><rect x="263.3" y="1520.3" width="2.4" height="47.5" fill-opacity="0.36"/><rect x="269" y="1520.3" width="1.7" height="47.5" fill-opacity="0.51"/><rect x="274.7" y="1520.3" width="1.8" height="47.5" fill-opacity="0.49"/><rect x="261" y="1521.9" width="19" height="2.6" fill-opacity="0.38"/><rect x="261" y="1529" width="19" height="1.1" fill-opacity="0.53"/><rect x="261" y="1534.6" width="19" height="2" fill-opacity="0.43"/><rect x="261" y="1540" width="19" height="2" fill-opacity="0.65"/><rect x="261" y="1544.1" width="19" height="1" fill-opacity="0.57"/><rect x="261" y="1550.2" width="19" height="1.7" fill-opacity="0.39"/><rect x="261" y="1556.3" width="19" height="1.1" fill-opacity="0.29"/><rect x="261" y="1559.8" width="19" height="1.9" fill-opacity="0.32"/><rect x="261" y="1564" width="19" height="2" fill-opacity="0.68"/><rect x="280" y="1520.3" width="11.1" height="47.5" fill-opacity="0.70"/><rect x="281.7" y="1520.3" width="1.7" height="47.5" fill-opacity="0.70"/><rect x="287.8" y="1520.3" width="1.2" height="47.5" fill-opacity="0.57"/><rect x="280" y="1521.9" width="11" height="2.6" fill-opacity="0.68"/><rect x="280" y="1529" width="11" height="1.1" fill-opacity="0.97"/><rect x="280" y="1534.6" width="11" height="2" fill-opacity="0.79"/><rect x="280" y="1540" width="11" height="2" fill-opacity="1.00"/><rect x="280" y="1544.1" width="11" height="1" fill-opacity="1.00"/><rect x="280" y="1550.2" width="11" height="1.7" fill-opacity="0.72"/><rect x="280" y="1556.3" width="11" height="1.1" fill-opacity="0.53"/><rect x="280" y="1559.8" width="11" height="1.9" fill-opacity="0.58"/><rect x="280" y="1564" width="11" height="2" fill-opacity="1.00"/><rect x="291" y="1520.3" width="19.1" height="47.5" fill-opacity="0.18"/><rect x="294.5" y="1520.3" width="1.7" height="47.5" fill-opacity="0.42"/><rect x="297.7" y="1520.3" width="1.5" height="47.5" fill-opacity="0.44"/><rect x="300.9" y="1520.3" width="1.9" height="47.5" fill-opacity="0.47"/><rect x="304.5" y="1520.3" width="1.9" height="47.5" fill-opacity="0.38"/><rect x="291" y="1521.9" width="19" height="2.6" fill-opacity="0.35"/><rect x="291" y="1529" width="19" height="1.1" fill-opacity="0.50"/><rect x="291" y="1534.6" width="19" height="2" fill-opacity="0.41"/><rect x="291" y="1540" width="19" height="2" fill-opacity="0.61"/><rect x="291" y="1544.1" width="19" height="1" fill-opacity="0.53"/><rect x="291" y="1550.2" width="19" height="1.7" fill-opacity="0.37"/><rect x="291" y="1556.3" width="19" height="1.1" fill-opacity="0.27"/><rect x="291" y="1559.8" width="19" height="1.9" fill-opacity="0.30"/><rect x="291" y="1564" width="19" height="2" fill-opacity="0.64"/><rect x="310" y="1520.3" width="19.6" height="47.5" fill-opacity="0.01"/><rect x="310.7" y="1520.3" width="1.4" height="47.5" fill-opacity="0.12"/><rect x="316.6" y="1520.3" width="0.8" height="47.5" fill-opacity="0.04"/><rect x="321.6" y="1520.3" width="2.5" height="47.5" fill-opacity="0.06"/><rect x="327.5" y="1520.3" width="1.9" height="47.5" fill-opacity="0.07"/><rect x="310" y="1521.9" width="19.5" height="2.6" fill-opacity="0.08"/><rect x="310" y="1529" width="19.5" height="1.1" fill-opacity="0.12"/><rect x="310" y="1534.6" width="19.5" height="2" fill-opacity="0.10"/><rect x="310" y="1540" width="19.5" height="2" fill-opacity="0.14"/><rect x="310" y="1544.1" width="19.5" height="1" fill-opacity="0.13"/><rect x="310" y="1550.2" width="19.5" height="1.7" fill-opacity="0.09"/><rect x="310" y="1556.3" width="19.5" height="1.1" fill-opacity="0.07"/><rect x="310" y="1559.8" width="19.5" height="1.9" fill-opacity="0.07"/><rect x="310" y="1564" width="19.5" height="2" fill-opacity="0.15"/><rect x="329.5" y="1520.3" width="10.7" height="47.5" fill-opacity="0.01"/><rect x="332.3" y="1520.3" width="1.4" height="47.5" fill-opacity="0.08"/><rect x="337.5" y="1520.3" width="1.3" height="47.5" fill-opacity="0.08"/><rect x="329.5" y="1521.9" width="10.7" height="2.6" fill-opacity="0.08"/><rect x="329.5" y="1529" width="10.7" height="1.1" fill-opacity="0.12"/><rect x="329.5" y="1534.6" width="10.7" height="2" fill-opacity="0.10"/><rect x="329.5" y="1540" width="10.7" height="2" fill-opacity="0.14"/><rect x="329.5" y="1544.1" width="10.7" height="1" fill-opacity="0.13"/><rect x="329.5" y="1550.2" width="10.7" height="1.7" fill-opacity="0.09"/><rect x="329.5" y="1556.3" width="10.7" height="1.1" fill-opacity="0.07"/><rect x="329.5" y="1559.8" width="10.7" height="1.9" fill-opacity="0.07"/><rect x="329.5" y="1564" width="10.7" height="2" fill-opacity="0.15"/><rect x="340.2" y="1520.3" width="7.9" height="47.5" fill-opacity="0.00"/><rect x="343.5" y="1520.3" width="0.8" height="47.5" fill-opacity="0.06"/><rect x="340.2" y="1521.9" width="7.8" height="2.6" fill-opacity="0.05"/><rect x="340.2" y="1529" width="7.8" height="1.1" fill-opacity="0.07"/><rect x="340.2" y="1534.6" width="7.8" height="2" fill-opacity="0.06"/><rect x="340.2" y="1540" width="7.8" height="2" fill-opacity="0.09"/><rect x="340.2" y="1544.1" width="7.8" height="1" fill-opacity="0.08"/><rect x="340.2" y="1550.2" width="7.8" height="1.7" fill-opacity="0.05"/><rect x="340.2" y="1556.3" width="7.8" height="1.1" fill-opacity="0.04"/><rect x="340.2" y="1559.8" width="7.8" height="1.9" fill-opacity="0.04"/><rect x="340.2" y="1564" width="7.8" height="2" fill-opacity="0.09"/><rect x="348" y="1520.3" width="35.4" height="47.5" fill-opacity="0.00"/><rect x="348.7" y="1520.3" width="1.4" height="47.5" fill-opacity="0.02"/><rect x="354.8" y="1520.3" width="1.2" height="47.5" fill-opacity="0.02"/><rect x="359.3" y="1520.3" width="2.1" height="47.5" fill-opacity="0.02"/><rect x="364.1" y="1520.3" width="1.4" height="47.5" fill-opacity="0.05"/><rect x="368.8" y="1520.3" width="2.3" height="47.5" fill-opacity="0.02"/><rect x="374" y="1520.3" width="2" height="47.5" fill-opacity="0.06"/><rect x="379.2" y="1520.3" width="1.2" height="47.5" fill-opacity="0.02"/><rect x="348" y="1521.9" width="35.3" height="2.6" fill-opacity="0.03"/><rect x="348" y="1529" width="35.3" height="1.1" fill-opacity="0.05"/><rect x="348" y="1534.6" width="35.3" height="2" fill-opacity="0.04"/><rect x="348" y="1540" width="35.3" height="2" fill-opacity="0.06"/><rect x="348" y="1544.1" width="35.3" height="1" fill-opacity="0.05"/><rect x="348" y="1550.2" width="35.3" height="1.7" fill-opacity="0.03"/><rect x="348" y="1556.3" width="35.3" height="1.1" fill-opacity="0.03"/><rect x="348" y="1559.8" width="35.3" height="1.9" fill-opacity="0.03"/><rect x="348" y="1564" width="35.3" height="2" fill-opacity="0.06"/><rect x="383.3" y="1520.3" width="12.9" height="47.5" fill-opacity="0.05"/><rect x="384.1" y="1520.3" width="1.1" height="47.5" fill-opacity="0.29"/><rect x="390.1" y="1520.3" width="1.1" height="47.5" fill-opacity="0.15"/><rect x="395.9" y="1520.3" width="0.3" height="47.5" fill-opacity="0.29"/><rect x="383.3" y="1521.9" width="12.9" height="2.6" fill-opacity="0.18"/><rect x="383.3" y="1529" width="12.9" height="1.1" fill-opacity="0.26"/><rect x="383.3" y="1534.6" width="12.9" height="2" fill-opacity="0.21"/><rect x="383.3" y="1540" width="12.9" height="2" fill-opacity="0.32"/><rect x="383.3" y="1544.1" width="12.9" height="1" fill-opacity="0.28"/><rect x="383.3" y="1550.2" width="12.9" height="1.7" fill-opacity="0.19"/><rect x="383.3" y="1556.3" width="12.9" height="1.1" fill-opacity="0.14"/><rect x="383.3" y="1559.8" width="12.9" height="1.9" fill-opacity="0.16"/><rect x="383.3" y="1564" width="12.9" height="2" fill-opacity="0.33"/><rect x="396.2" y="1520.3" width="16.9" height="47.5" fill-opacity="0.00"/><rect x="396.2" y="1520.3" width="1.7" height="47.5" fill-opacity="0.08"/><rect x="400.8" y="1520.3" width="1" height="47.5" fill-opacity="0.04"/><rect x="406.5" y="1520.3" width="1.3" height="47.5" fill-opacity="0.05"/><rect x="410.9" y="1520.3" width="1.6" height="47.5" fill-opacity="0.05"/><rect x="396.2" y="1521.9" width="16.8" height="2.6" fill-opacity="0.05"/><rect x="396.2" y="1529" width="16.8" height="1.1" fill-opacity="0.07"/><rect x="396.2" y="1534.6" width="16.8" height="2" fill-opacity="0.06"/><rect x="396.2" y="1540" width="16.8" height="2" fill-opacity="0.09"/><rect x="396.2" y="1544.1" width="16.8" height="1" fill-opacity="0.08"/><rect x="396.2" y="1550.2" width="16.8" height="1.7" fill-opacity="0.05"/><rect x="396.2" y="1556.3" width="16.8" height="1.1" fill-opacity="0.04"/><rect x="396.2" y="1559.8" width="16.8" height="1.9" fill-opacity="0.04"/><rect x="396.2" y="1564" width="16.8" height="2" fill-opacity="0.09"/><rect x="413" y="1520.3" width="32.2" height="47.5" fill-opacity="0.01"/><rect x="417.7" y="1520.3" width="1.1" height="47.5" fill-opacity="0.03"/><rect x="424" y="1520.3" width="2.4" height="47.5" fill-opacity="0.12"/><rect x="429.6" y="1520.3" width="2.5" height="47.5" fill-opacity="0.12"/><rect x="434.5" y="1520.3" width="2.1" height="47.5" fill-opacity="0.11"/><rect x="440.8" y="1520.3" width="1.7" height="47.5" fill-opacity="0.05"/><rect x="413" y="1521.9" width="32.1" height="2.6" fill-opacity="0.07"/><rect x="413" y="1529" width="32.1" height="1.1" fill-opacity="0.09"/><rect x="413" y="1534.6" width="32.1" height="2" fill-opacity="0.08"/><rect x="413" y="1540" width="32.1" height="2" fill-opacity="0.12"/><rect x="413" y="1544.1" width="32.1" height="1" fill-opacity="0.10"/><rect x="413" y="1550.2" width="32.1" height="1.7" fill-opacity="0.07"/><rect x="413" y="1556.3" width="32.1" height="1.1" fill-opacity="0.05"/><rect x="413" y="1559.8" width="32.1" height="1.9" fill-opacity="0.06"/><rect x="413" y="1564" width="32.1" height="2" fill-opacity="0.12"/><rect x="88.2" y="1567.8" width="70.2" height="70.2"/><rect x="234.4" y="1567.8" width="16.3" height="70.2" fill-opacity="0.00"/><rect x="383.3" y="1567.8" width="12.9" height="70.2" fill-opacity="0.07"/><rect x="384.1" y="1567.8" width="1.1" height="70.1" fill-opacity="0.33"/><rect x="390.1" y="1567.8" width="1.1" height="70.1" fill-opacity="0.17"/><rect x="395.9" y="1567.8" width="0.3" height="70.1" fill-opacity="0.33"/><rect x="383.3" y="1568.8" width="12.9" height="2.1" fill-opacity="0.21"/><rect x="383.3" y="1575.8" width="12.9" height="1.9" fill-opacity="0.16"/><rect x="383.3" y="1580" width="12.9" height="0.8" fill-opacity="0.23"/><rect x="383.3" y="1583.9" width="12.9" height="1.1" fill-opacity="0.19"/><rect x="383.3" y="1587.7" width="12.9" height="2.2" fill-opacity="0.12"/><rect x="383.3" y="1595.4" width="12.9" height="1.7" fill-opacity="0.27"/><rect x="383.3" y="1600.4" width="12.9" height="2.3" fill-opacity="0.34"/><rect x="383.3" y="1606.5" width="12.9" height="1.7" fill-opacity="0.31"/><rect x="383.3" y="1613.1" width="12.9" height="1.5" fill-opacity="0.31"/><rect x="383.3" y="1619.9" width="12.9" height="1.6" fill-opacity="0.15"/><rect x="383.3" y="1624" width="12.9" height="2.1" fill-opacity="0.29"/><rect x="383.3" y="1631.4" width="12.9" height="2.3" fill-opacity="0.16"/><rect x="383.3" y="1636" width="12.9" height="1.3" fill-opacity="0.14"/></g>
<rect x="88.2" y="1312.6" width="70" height="1.6" fill="#2d4a97" fill-opacity="0.8"/>
<rect x="111" y="1330.6" width="3" height="14.1" fill="#2d4a97" fill-opacity="0.5"/>
<rect x="150" y="1330.6" width="8.3" height="14.1" fill="#2d4a97" fill-opacity="0.75"/>
<rect x="88.2" y="1478" width="25" height="13" fill="#2d4a97" fill-opacity="0.15"/>
<rect x="88.2" y="1481" width="70" height="1.3" fill="#2d4a97" fill-opacity="0.6"/>
<rect x="383.3" y="1567.8" width="12.9" height="4" fill="#2d4a97" fill-opacity="0.85"/>
<rect x="412.6" y="1567.8" width="1.6" height="70.1" fill="#2d4a97" fill-opacity="0.85"/>
<rect x="394" y="1567.8" width="1.4" height="70.1" fill="#2d4a97" fill-opacity="0.6"/>
<rect x="280" y="1559.5" width="50" height="6" fill="#2d4a97" fill-opacity="0.45"/>
<text x="88.1" y="1680.4" font-size="26.7" stroke="#1a1a1a" stroke-width="0.35">scRNA-seq tumor cells (k = 7)</text>
<text x="499" y="1198" font-size="45" font-weight="bold" fill="#111">g</text>
<text x="705.3" y="1249.2" font-size="22.6" stroke="#1a1a1a" stroke-width="0.35">adj. p-value = 1.9&#215;10<tspan font-size="14" dy="-9">-3</tspan></text>
<text x="749.2" y="1276" font-size="22.5" stroke="#1a1a1a" stroke-width="0.35">log2FC = -1.6</text>
<rect x="799.2" y="1297.3" width="36.5" height="253.8" fill="#e0e0e0"/>
<text x="507.8" y="1324.5" font-size="22.3" font-weight="bold" fill="#2c5c9e">Chrom_c1</text>
<text x="507.8" y="1421.8" font-size="22.6" font-weight="bold" fill="#3a9446">Chrom_c2</text>
<path d="M614 1356.5V1345.5H615.6V1344.2H617.2V1345.4H618.8V1345.7H620.4V1347.3H622V1349.9H623.6V1351.2H625.2V1350.5H626.8V1350.2H628.4V1348.3H630V1348H631.6V1347.2H633.2V1345.6H634.8V1345.4H636.4V1343.8H638V1343.6H639.6V1344H641.2V1345.4H642.8V1345.8H644.4V1347.1H646V1347.5H647.6V1349.1H649.2V1349.4H650.8V1349.3H652.4V1349.3H654V1350.4H655.6V1350.2H657.2V1348H658.8V1346H660.4V1343.2H662V1341.6H663.6V1340.4H665.2V1340.3H666.8V1340.6H668.4V1341.2H670V1344.1H671.6V1346.3H673.2V1346.7H674.8V1346.3H676.4V1347.6H678V1348.1H679.6V1348.2H681.2V1348H682.8V1346.4H684.4V1345H686V1344.9H687.6V1345.5H689.2V1347.1H690.8V1349H692.4V1346.8H694V1344.8H695.6V1342.9H697.2V1340.9H698.8V1340.3H700.4V1339.8H702V1341.6H703.6V1343.5H705.2V1343.9H706.8V1343.8H708.4V1343H710V1343.7H711.6V1343.5H713.2V1345H714.8V1345H716.4V1344.9H718V1345.7H719.6V1343.7H721.2V1344H722.8V1342.9H724.4V1343H726V1343.3H727.6V1343.6H729.2V1344H730.8V1344.2H732.4V1344.9H734V1347H735.6V1346.9H737.2V1348.1H738.8V1346.7H740.4V1346.2H742V1343.4H743.6V1340.6H745.2V1339.5H746.8V1339.1H748.4V1339.9H750V1341.7H751.6V1344H753.2V1344.9H754.8V1344.7H756.4V1346H758V1346.8H759.6V1348.6H761.2V1349.9H762.8V1351H764.4V1349.3H766V1348.6H767.6V1348.2H769.2V1347.8H770.8V1347.4H772.4V1347.7H774V1347.4H775.6V1346.9H777.2V1344.7H778.8V1343H780.4V1340.7H782V1340.5H783.6V1340.8H785.2V1342.8H786.8V1344.4H788.4V1347H790V1346.8H791.6V1346H793.2V1345.6H794.8V1344.6H796.4V1341.8H798V1339.1H799.6V1338H801.2V1337.8H802.8V1337.7H804.4V1339.4H806V1333.5H807.6V1324.5H809.2V1316.1H810.8V1311.6H812.4V1313.1H814V1318.5H815.6V1327.2H817.2V1336.9H818.8V1344.5H820.4V1344.8H822V1342.3H823.6V1340.9H825.2V1341.2H826.8V1341.1H828.4V1343.2H830V1345H831.6V1346.7H833.2V1348.4H834.8V1347.8H836.4V1345.5H838V1344.5H839.6V1345H841.2V1344.9H842.8V1344.4H844.4V1343.5H846V1342.1H847.6V1341.9H849.2V1342.9H850.8V1343.9H852.4V1345.8H854V1347.8H855.6V1350.1H857.2V1349.1H858.8V1346.7H860.4V1344.6H862V1342.2H863.6V1340.8H865.2V1341.6H866.8V1341.4H868.4V1342.8H870V1345.4H871.6V1343.6H873.2V1340.6H874.8V1337.7H876.4V1339.4H878V1340.6H879.6V1343.9H881.2V1343.6H882.8V1343.8H884.4V1343.4H886V1344.4H887.6V1347.2H889.2V1344H890.8V1341.1H892.4V1341H894V1343.3H895.6V1347.1H897.2V1345.8H898.8V1342.4H900.4V1339.8H902V1336.1H903.6V1334.4H905.2V1333.8H906.8V1333.9H908.4V1335.9H910V1337.5H911.6V1340.7H913.2V1345.4H914.8V1345.9H916.4V1345.1H918V1344.2H919.6V1343H921.2V1342.7H922.8V1342.3H924.4V1344.4H926V1345.2H927.6V1345.6H929.2V1346.6H930.8V1345.2H932.4V1341.8H934V1338.1H935.6V1336.2H937.2V1334.2H938.8V1333.2H940.4V1334.4H942V1336H943.6V1339.4H945.2V1342.2H946.8V1345.5H948.4V1347.2H950V1346.4H951.6V1344.7H953.2V1342.8H954.8V1341H956.4V1340.6H958V1341.2H959.6V1342.8H961.2V1341.6H962.8V1340.6H964.4V1339.2H966V1340.9H967.6V1341.5H969.2V1344H970.8V1345.9H972.4V1347.9H974V1346.3H975.6V1346.7H977.2V1346H978.8V1345.5H980.4V1345.7H982V1345.8H983.6V1344.9H985.2V1342.1H986.8V1340.7H988.4V1338.8H990V1338.5H991.6V1339.5H993.2V1341.1H994.8V1342.9H996.4V1345.7H998V1347.1H999.6V1345.5H1001.2V1345.1H1002.8V1345.2H1004.4V1346H1006V1346.8H1007.6V1347.9H1009.2V1345.6H1010.8V1343.5H1012.4V1342.2H1014V1340.5H1015.6V1341H1017.2V1341.3H1018.8V1341.4H1020.4V1340.6H1022V1340.9H1023.6V1343.2H1025.2V1345.4H1026.8V1346.2H1028.4V1346.4H1030V1346.6H1031.6V1347.1H1033.2V1346.5H1034.8V1346.2H1036.4V1345.8H1038V1344.8H1039.6V1345.3H1041.2V1345.8H1042.8V1346.7H1044.4V1348H1046V1349.3H1047.6V1349.7H1049.2V1350.3H1050.8V1350.2H1052.4V1349.7H1054V1348.8H1055.6V1346.8H1057.2V1344.4H1058.8V1341.6H1060.4V1341.4H1062V1343.3H1063.6V1345.6H1065.2V1346.8H1066.8V1347.2H1068.4V1348.1H1070V1349.2H1071.6V1349.9H1073.2V1349.4H1074.8V1349.3H1076.4V1349.6H1078V1348.7H1079.6V1349.3H1081.2V1349.3H1082.8V1349.9H1084.4V1348.9H1086V1348.1H1087.6V1348.7H1089.2V1349.5H1090.8V1350H1092.4V1351.4H1094V1350.9H1095.6V1350.3H1097.2V1350.5H1098.8V1350.6H1100.4V1349.8H1102V1349.2H1103.6V1348.6H1105.2V1347.7H1106.8V1346.8H1108.4V1348.2H1110V1348.5H1111.6V1347.1H1113.2V1347.5H1114.8V1348.2H1116.4V1348.3H1118V1347.9H1119.6V1348.5H1121.2V1348.1H1122.8V1348.8H1124.4V1349.7H1126V1351.3H1127.6V1350.8H1129.2V1351.4H1130.8V1350.9H1132.4V1351.5H1133V1356.5Z" fill="#2559a0" stroke="none" stroke-width="1" stroke="#2559a0" stroke-width="0.8" stroke-linejoin="round"/>
<path d="M614 1453V1448.3H615.6V1447.5H617.2V1446H618.8V1445.3H620.4V1445.4H622V1445.5H623.6V1445.7H625.2V1442.9H626.8V1440.4H628.4V1440.4H630V1442.4H631.6V1443.1H633.2V1443.5H634.8V1444.6H636.4V1444.5H638V1445.9H639.6V1445.7H641.2V1446.7H642.8V1446.7H644.4V1446.2H646V1445.2H647.6V1444.7H649.2V1444H650.8V1444.5H652.4V1443H654V1441.4H655.6V1441.4H657.2V1440.7H658.8V1441.3H660.4V1442H662V1441.9H663.6V1441.7H665.2V1442.5H666.8V1444H668.4V1444.9H670V1444.7H671.6V1443H673.2V1442.6H674.8V1442.5H676.4V1443.1H678V1445.1H679.6V1445.9H681.2V1447H682.8V1447.2H684.4V1447.1H686V1447.5H687.6V1447.8H689.2V1446.7H690.8V1446.1H692.4V1445.5H694V1444.8H695.6V1443.2H697.2V1443H698.8V1441.1H700.4V1441.7H702V1442.4H703.6V1442.3H705.2V1442.8H706.8V1445H708.4V1444.9H710V1445.3H711.6V1446H713.2V1445H714.8V1445H716.4V1445.7H718V1445.4H719.6V1446.8H721.2V1444.7H722.8V1443.1H724.4V1441.8H726V1440.4H727.6V1440.3H729.2V1441.2H730.8V1441.3H732.4V1444.2H734V1443H735.6V1440.6H737.2V1438.9H738.8V1438.7H740.4V1439H742V1440.6H743.6V1442.1H745.2V1444.6H746.8V1445.7H748.4V1445.9H750V1446.9H751.6V1446.6H753.2V1445.2H754.8V1445.8H756.4V1445.5H758V1446.1H759.6V1446.4H761.2V1445.4H762.8V1444.7H764.4V1443.5H766V1444.4H767.6V1444.8H769.2V1444.5H770.8V1443.3H772.4V1442H774V1441.2H775.6V1440.4H777.2V1440.7H778.8V1441.9H780.4V1440.6H782V1440.4H783.6V1440.7H785.2V1441.1H786.8V1443.5H788.4V1444.8H790V1445.3H791.6V1444.4H793.2V1442.7H794.8V1441.8H796.4V1438.8H798V1438.6H799.6V1438.6H801.2V1440.3H802.8V1442.8H804.4V1441.5H806V1434.7H807.6V1429.3H809.2V1423.7H810.8V1422.1H812.4V1423.6H814V1427.9H815.6V1434.3H817.2V1440.8H818.8V1445.4H820.4V1446.8H822V1447.5H823.6V1448.1H825.2V1447.9H826.8V1446.1H828.4V1445.7H830V1442.8H831.6V1442.1H833.2V1441H834.8V1438.3H836.4V1436.4H838V1434.4H839.6V1434.4H841.2V1434.7H842.8V1436.7H844.4V1438.3H846V1441H847.6V1444.5H849.2V1443.1H850.8V1440.3H852.4V1439.5H854V1440H855.6V1441.5H857.2V1443.6H858.8V1443.9H860.4V1443.4H862V1443H863.6V1442.6H865.2V1444.1H866.8V1444H868.4V1444.5H870V1444.5H871.6V1442.6H873.2V1441.1H874.8V1437.6H876.4V1434.7H878V1433.8H879.6V1433.6H881.2V1434H882.8V1435.8H884.4V1438.8H886V1442.5H887.6V1445.4H889.2V1445.4H890.8V1443H892.4V1442H894V1439.9H895.6V1438.9H897.2V1439.2H898.8V1439.9H900.4V1441.6H902V1442.3H903.6V1445.3H905.2V1447.1H906.8V1447.2H908.4V1448.4H910V1447.3H911.6V1448.3H913.2V1448H914.8V1446.8H916.4V1446.3H918V1445.7H919.6V1446.5H921.2V1447H922.8V1447.1H924.4V1445.9H926V1445.2H927.6V1442.5H929.2V1441H930.8V1439.3H932.4V1437.8H934V1438.2H935.6V1438.7H937.2V1439.3H938.8V1442.5H940.4V1442.6H942V1442H943.6V1442H945.2V1442.6H946.8V1444.1H948.4V1445.6H950V1447.5H951.6V1447.9H953.2V1447.2H954.8V1447H956.4V1446.1H958V1444.6H959.6V1444.7H961.2V1442.4H962.8V1438.6H964.4V1436.6H966V1434.3H967.6V1434.4H969.2V1434.2H970.8V1435.1H972.4V1438.1H974V1440.2H975.6V1443.3H977.2V1443.5H978.8V1442.1H980.4V1443.1H982V1443.6H983.6V1444.1H985.2V1443.6H986.8V1443.5H988.4V1445.7H990V1447.1H991.6V1447.7H993.2V1446.4H994.8V1445.7H996.4V1445.4H998V1446H999.6V1444.8H1001.2V1443.5H1002.8V1443.5H1004.4V1443.3H1006V1442.3H1007.6V1443.8H1009.2V1442.7H1010.8V1443.1H1012.4V1443H1014V1445H1015.6V1445.9H1017.2V1446.4H1018.8V1448H1020.4V1447.6H1022V1446.3H1023.6V1445.5H1025.2V1445.5H1026.8V1445.6H1028.4V1447.4H1030V1444.8H1031.6V1443.8H1033.2V1443.5H1034.8V1441.8H1036.4V1442.8H1038V1443.1H1039.6V1444.2H1041.2V1446.3H1042.8V1445.5H1044.4V1446H1046V1445.8H1047.6V1444.7H1049.2V1444.6H1050.8V1445.1H1052.4V1443.9H1054V1442.7H1055.6V1443.3H1057.2V1443H1058.8V1444.3H1060.4V1445.6H1062V1447.1H1063.6V1446.9H1065.2V1447.2H1066.8V1446.7H1068.4V1445.8H1070V1444.5H1071.6V1443.2H1073.2V1442.3H1074.8V1441.7H1076.4V1441.2H1078V1440.1H1079.6V1441.5H1081.2V1442.6H1082.8V1442.8H1084.4V1444.1H1086V1445.1H1087.6V1444.9H1089.2V1444.9H1090.8V1444.2H1092.4V1444.3H1094V1444.9H1095.6V1445.3H1097.2V1445.4H1098.8V1444.6H1100.4V1442.5H1102V1439.5H1103.6V1436.5H1105.2V1436.4H1106.8V1439.6H1108.4V1441.7H1110V1444.2H1111.6V1446.1H1113.2V1448H1114.8V1447.5H1116.4V1447.3H1118V1445.3H1119.6V1442H1121.2V1439.5H1122.8V1438H1124.4V1437.7H1126V1439.6H1127.6V1443.2H1129.2V1446.5H1130.8V1447H1132.4V1447.4H1134V1447.5H1134V1453Z" fill="#2f9143" stroke="none" stroke-width="1" stroke="#2f9143" stroke-width="0.8" stroke-linejoin="round"/>
<path d="M1143.5 1300H1146.5V1355.6H1143.5" fill="none" stroke="#111" stroke-width="1.6"/>
<text x="1152.9" y="1312" font-size="22.5" stroke="#1a1a1a" stroke-width="0.35">20</text>
<text x="1152.9" y="1354.6" font-size="22.5" stroke="#1a1a1a" stroke-width="0.35">0</text>
<path d="M1143.5 1397.2H1146.5V1451.9H1143.5" fill="none" stroke="#111" stroke-width="1.6"/>
<text x="1152.9" y="1408.7" font-size="22.5" stroke="#1a1a1a" stroke-width="0.35">20</text>
<text x="1152.9" y="1451.2" font-size="22.5" stroke="#1a1a1a" stroke-width="0.35">0</text>
<text x="849" y="1495.4" font-size="22.6" font-style="italic" stroke="#1a1a1a" stroke-width="0.35">ALCAM</text>
<text x="1062.2" y="1495.4" font-size="22.5" font-style="italic" stroke="#1a1a1a" stroke-width="0.35">CBLB</text>
<path d="M809 1507.2H963L965.5 1509.2L963 1511.2H809L811 1509.2Z" fill="#2f4a9a" stroke="none" stroke-width="1"/>
<path d="M1025.5 1507.2H1148V1511.2H1025.5L1023.5 1509.2Z" fill="#2f4a9a" stroke="none" stroke-width="1"/>
<text x="557" y="1552.7" font-size="22.2" font-weight="bold" fill="#111">chr3</text>
<text x="1144.7" y="1552.7" font-size="22.2" font-weight="bold" fill="#111">Mb</text>
<line x1="615.9" y1="1551.1" x2="1129.3" y2="1551.1" stroke="#111" stroke-width="2.5"/>
<line x1="689.6" y1="1551.1" x2="689.6" y2="1557.7" stroke="#111" stroke-width="2.2"/>
<text x="698.6" y="1583.9" font-size="22.3" text-anchor="middle" stroke="#1a1a1a" stroke-width="0.35">105.20</text>
<line x1="835.3" y1="1551.1" x2="835.3" y2="1557.7" stroke="#111" stroke-width="2.2"/>
<text x="844.3" y="1583.9" font-size="22.3" text-anchor="middle" stroke="#1a1a1a" stroke-width="0.35">105.40</text>
<line x1="982" y1="1551.1" x2="982" y2="1557.7" stroke="#111" stroke-width="2.2"/>
<text x="991" y="1583.9" font-size="22.3" text-anchor="middle" stroke="#1a1a1a" stroke-width="0.35">105.60</text>
<text x="1277.9" y="1252.6" font-size="26" stroke="#1a1a1a" stroke-width="0.35"># cells</text>
<text x="1415.6" y="1252.6" font-size="26.2" text-anchor="middle" stroke="#1a1a1a" stroke-width="0.35">38/212</text>
<text x="1503.5" y="1252.6" font-size="26.2" text-anchor="middle" stroke="#1a1a1a" stroke-width="0.35">9/43</text>
<text x="1592.2" y="1252.6" font-size="26.2" text-anchor="middle" stroke="#1a1a1a" stroke-width="0.35">3/118</text>
<line x1="1362.8" y1="1273.4" x2="1362.8" y2="1594.9" stroke="#222" stroke-width="2"/>
<line x1="1361.8" y1="1593.9" x2="1645" y2="1593.9" stroke="#222" stroke-width="2"/>
<line x1="1359" y1="1578.8" x2="1362.8" y2="1578.8" stroke="#222" stroke-width="1.8"/>
<text x="1348.8" y="1586.4" font-size="21.6" text-anchor="end" stroke="#1a1a1a" stroke-width="0.35">0</text>
<line x1="1359" y1="1509.2" x2="1362.8" y2="1509.2" stroke="#222" stroke-width="1.8"/>
<text x="1348.8" y="1516.8" font-size="21.6" text-anchor="end" stroke="#1a1a1a" stroke-width="0.35">5</text>
<line x1="1359" y1="1439.6" x2="1362.8" y2="1439.6" stroke="#222" stroke-width="1.8"/>
<text x="1348.8" y="1447.2" font-size="21.6" text-anchor="end" stroke="#1a1a1a" stroke-width="0.35">10</text>
<line x1="1359" y1="1370" x2="1362.8" y2="1370" stroke="#222" stroke-width="1.8"/>
<text x="1348.8" y="1377.6" font-size="21.6" text-anchor="end" stroke="#1a1a1a" stroke-width="0.35">15</text>
<line x1="1359" y1="1300.4" x2="1362.8" y2="1300.4" stroke="#222" stroke-width="1.8"/>
<text x="1348.8" y="1308" font-size="21.6" text-anchor="end" stroke="#1a1a1a" stroke-width="0.35">20</text>
<rect x="1376" y="1329.8" width="80" height="249" fill="#1f5a96"/>
<line x1="1416" y1="1593.9" x2="1416" y2="1597.5" stroke="#222" stroke-width="1.8"/>
<rect x="1464.2" y="1287.6" width="80" height="291.2" fill="#258c45"/>
<line x1="1504.2" y1="1593.9" x2="1504.2" y2="1597.5" stroke="#222" stroke-width="1.8"/>
<rect x="1552.4" y="1567" width="79.4" height="11.8" fill="#258c45"/>
<line x1="1592.1" y1="1593.9" x2="1592.1" y2="1597.5" stroke="#222" stroke-width="1.8"/>
<rect x="1376" y="1637.4" width="80" height="11.8" fill="#66bf9c"/>
<rect x="1464.2" y="1637.4" width="80" height="11.8" fill="#66bf9c"/>
<rect x="1552.4" y="1637.4" width="79.4" height="11.8" fill="#e993ae"/>
<text x="1247.8" y="1623.2" font-size="22.8" stroke="#1a1a1a" stroke-width="0.35">Chrom_c</text>
<text x="1416" y="1623.2" font-size="22.8" text-anchor="middle" stroke="#1a1a1a" stroke-width="0.35">1</text>
<text x="1504.2" y="1623.2" font-size="22.8" text-anchor="middle" stroke="#1a1a1a" stroke-width="0.35">2</text>
<text x="1592.1" y="1623.2" font-size="22.8" text-anchor="middle" stroke="#1a1a1a" stroke-width="0.35">2</text>
<text x="1262.9" y="1647.8" font-size="22.6" stroke="#1a1a1a" stroke-width="0.35">Sample</text>
<text transform="translate(1274.2 1434.5) rotate(-90)" font-size="22.8" text-anchor="middle" stroke="#1a1a1a" stroke-width="0.35">% of cells with H3K27me3</text>
<text transform="translate(1303.3 1433.5) rotate(-90)" text-anchor="middle" font-size="22.8" stroke="#1a1a1a" stroke-width="0.35">enrichment for <tspan font-style="italic">ALCAM</tspan> locus</text>
<text x="1713.4" y="1252.6" font-size="26.2" stroke="#1a1a1a" stroke-width="0.35">% cells</text>
<text x="1830.6" y="1252.6" font-size="26.2" text-anchor="middle" stroke="#1a1a1a" stroke-width="0.35">0</text>
<text x="1882.6" y="1252.6" font-size="26.2" text-anchor="middle" stroke="#1a1a1a" stroke-width="0.35">0</text>
<text x="1934.7" y="1252.6" font-size="26.2" text-anchor="middle" stroke="#1a1a1a" stroke-width="0.35">1</text>
<text x="1986.7" y="1252.6" font-size="26.2" text-anchor="middle" stroke="#1a1a1a" stroke-width="0.35">0</text>
<text x="2038.7" y="1252.6" font-size="26.2" text-anchor="middle" stroke="#1a1a1a" stroke-width="0.35">26</text>
<text x="2090.8" y="1252.6" font-size="26.2" text-anchor="middle" stroke="#1a1a1a" stroke-width="0.35">0</text>
<text x="2142.8" y="1252.6" font-size="26.2" text-anchor="middle" stroke="#1a1a1a" stroke-width="0.35">39</text>
<line x1="1799.7" y1="1274.5" x2="1799.7" y2="1595.3" stroke="#222" stroke-width="2"/>
<line x1="1798.7" y1="1594.3" x2="2174.3" y2="1594.3" stroke="#222" stroke-width="2"/>
<line x1="1796" y1="1282.4" x2="1799.7" y2="1282.4" stroke="#222" stroke-width="1.8"/>
<text x="1781.9" y="1290" font-size="21.6" text-anchor="end" stroke="#1a1a1a" stroke-width="0.35">1.0</text>
<line x1="1796" y1="1350" x2="1799.7" y2="1350" stroke="#222" stroke-width="1.8"/>
<text x="1781.9" y="1357.6" font-size="21.6" text-anchor="end" stroke="#1a1a1a" stroke-width="0.35">0.5</text>
<line x1="1796" y1="1417.7" x2="1799.7" y2="1417.7" stroke="#222" stroke-width="1.8"/>
<text x="1781.9" y="1425.3" font-size="21.6" text-anchor="end" stroke="#1a1a1a" stroke-width="0.35">0.0</text>
<line x1="1796" y1="1485.4" x2="1799.7" y2="1485.4" stroke="#222" stroke-width="1.8"/>
<text x="1781.9" y="1493" font-size="21.6" text-anchor="end" stroke="#1a1a1a" stroke-width="0.35">-0.5</text>
<line x1="1796" y1="1553" x2="1799.7" y2="1553" stroke="#222" stroke-width="1.8"/>
<text x="1781.9" y="1560.6" font-size="21.6" text-anchor="end" stroke="#1a1a1a" stroke-width="0.35">-1.0</text>
<rect x="1807.9" y="1417.7" width="46.5" height="152.9" fill="#2a6aa5"/>
<line x1="1831.2" y1="1594.3" x2="1831.2" y2="1598" stroke="#222" stroke-width="1.8"/>
<text x="1831.2" y="1623" font-size="22.8" text-anchor="middle" stroke="#1a1a1a" stroke-width="0.35">1</text>
<rect x="1807.9" y="1637.3" width="46.5" height="11.2" fill="#66bf9c"/>
<rect x="1859.9" y="1417.7" width="46.5" height="144.8" fill="#3e9a47"/>
<line x1="1883.2" y1="1594.3" x2="1883.2" y2="1598" stroke="#222" stroke-width="1.8"/>
<text x="1883.2" y="1623" font-size="22.8" text-anchor="middle" stroke="#1a1a1a" stroke-width="0.35">2</text>
<rect x="1859.9" y="1637.3" width="46.5" height="11.2" fill="#66bf9c"/>
<rect x="1912" y="1417.7" width="46.5" height="139.4" fill="#a6c8db"/>
<line x1="1935.2" y1="1594.3" x2="1935.2" y2="1598" stroke="#222" stroke-width="1.8"/>
<text x="1935.2" y="1623" font-size="22.8" text-anchor="middle" stroke="#1a1a1a" stroke-width="0.35">3</text>
<rect x="1912" y="1637.3" width="46.5" height="11.2" fill="#66bf9c"/>
<rect x="1964" y="1417.7" width="46.5" height="162.4" fill="#b0d47e"/>
<line x1="1987.2" y1="1594.3" x2="1987.2" y2="1598" stroke="#222" stroke-width="1.8"/>
<text x="1987.2" y="1623" font-size="22.8" text-anchor="middle" stroke="#1a1a1a" stroke-width="0.35">4</text>
<rect x="1964" y="1637.3" width="46.5" height="11.2" fill="#66bf9c"/>
<rect x="2016" y="1288.5" width="46.5" height="129.2" fill="#e8918e"/>
<line x1="2039.3" y1="1594.3" x2="2039.3" y2="1598" stroke="#222" stroke-width="1.8"/>
<text x="2039.3" y="1623" font-size="22.8" text-anchor="middle" stroke="#1a1a1a" stroke-width="0.35">5</text>
<rect x="2016" y="1637.3" width="46.5" height="11.2" fill="#e993ae"/>
<rect x="2068.1" y="1417.7" width="46.5" height="150.2" fill="#c8202a"/>
<line x1="2091.3" y1="1594.3" x2="2091.3" y2="1598" stroke="#222" stroke-width="1.8"/>
<text x="2091.3" y="1623" font-size="22.8" text-anchor="middle" stroke="#1a1a1a" stroke-width="0.35">6</text>
<rect x="2068.1" y="1637.3" width="46.5" height="11.2" fill="#66bf9c"/>
<rect x="2120.1" y="1417.7" width="46.5" height="24.4" fill="#edb560"/>
<line x1="2143.3" y1="1594.3" x2="2143.3" y2="1598" stroke="#222" stroke-width="1.8"/>
<text x="2143.3" y="1623" font-size="22.8" text-anchor="middle" stroke="#1a1a1a" stroke-width="0.35">7</text>
<rect x="2120.1" y="1637.3" width="46.5" height="11.2" fill="#e993ae"/>
<text x="1711.5" y="1623" font-size="22.5" stroke="#1a1a1a" stroke-width="0.35">RNA_c</text>
<text x="1706" y="1647.8" font-size="22.6" stroke="#1a1a1a" stroke-width="0.35">Sample</text>
<text transform="translate(1731 1417.7) rotate(-90)" text-anchor="middle" font-size="22.7" stroke="#1a1a1a" stroke-width="0.35">log2FC <tspan font-style="italic">ALCAM</tspan> expression</text>
</g>
</svg>
</body></html>
